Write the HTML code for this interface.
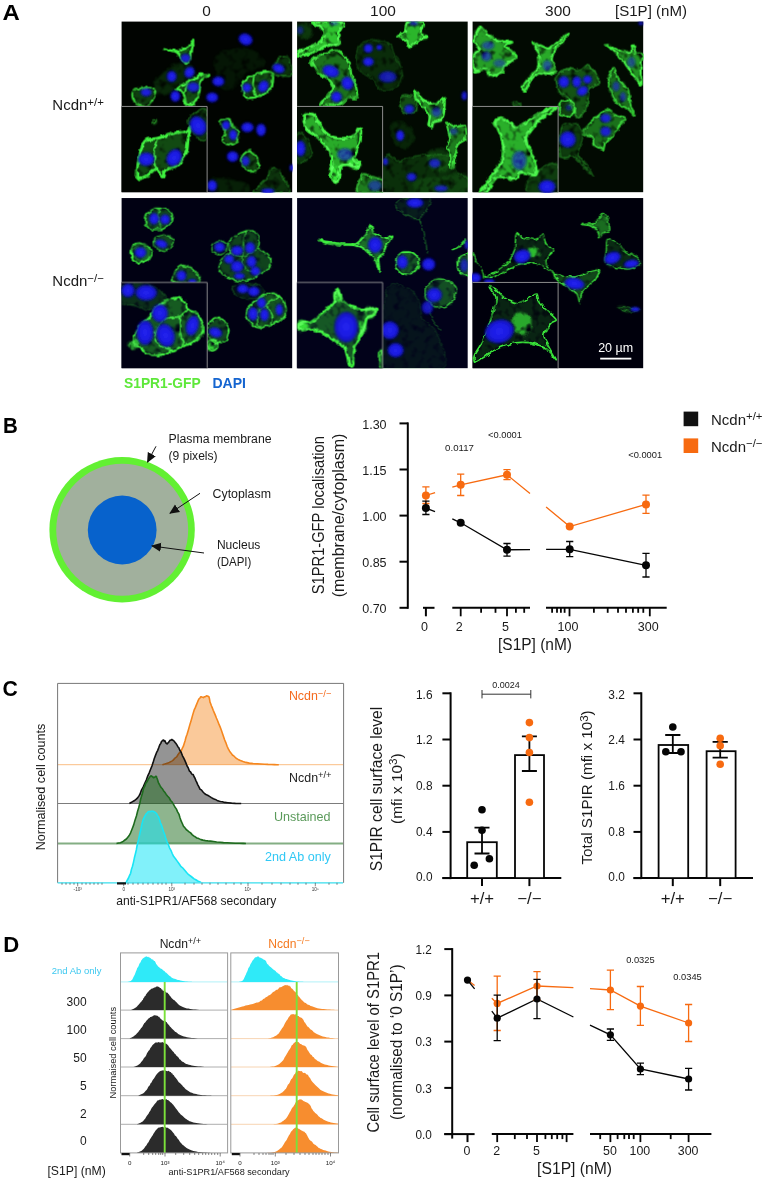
<!DOCTYPE html>
<html lang="en"><head><meta charset="utf-8"><title>Figure</title>
<style>html,body{margin:0;padding:0;background:#fff}svg{display:block}text{font-family:"Liberation Sans",sans-serif}</style>
</head><body>
<svg width="765" height="1180" viewBox="0 0 765 1180">
<defs>
<filter id="bgf" x="-5%" y="-5%" width="110%" height="110%" color-interpolation-filters="sRGB"><feGaussianBlur stdDeviation="3.6" result="b"/><feTurbulence type="fractalNoise" baseFrequency="0.03" numOctaves="2" seed="4" result="n"/><feDisplacementMap in="b" in2="n" scale="22" xChannelSelector="R" yChannelSelector="G" result="d"/><feTurbulence type="fractalNoise" baseFrequency="0.03" numOctaves="2" seed="9" result="n2"/><feColorMatrix in="n2" type="matrix" values="0 0 0 0 1  0 0 0 0 1  0 0 0 0 1  2.6 0 0 0 -0.3" result="m"/><feComposite in="d" in2="m" operator="in" result="t"/><feGaussianBlur in="t" stdDeviation="1.2"/></filter>
<filter id="bgs" x="-5%" y="-5%" width="110%" height="110%" color-interpolation-filters="sRGB"><feGaussianBlur stdDeviation="3" result="b"/><feTurbulence type="fractalNoise" baseFrequency="0.04" numOctaves="2" seed="4" result="n"/><feDisplacementMap in="b" in2="n" scale="20" xChannelSelector="R" yChannelSelector="G" result="d"/><feTurbulence type="fractalNoise" baseFrequency="0.025" numOctaves="2" seed="17" result="n2"/><feColorMatrix in="n2" type="matrix" values="0 0 0 0 1  0 0 0 0 1  0 0 0 0 1  2.2 0 0 0 -0.05" result="m"/><feComposite in="d" in2="m" operator="in" result="t"/><feGaussianBlur in="t" stdDeviation="2"/></filter>
<filter id="bn" x="-5%" y="-5%" width="110%" height="110%"><feGaussianBlur stdDeviation="3.8"/></filter>
<radialGradient id="ng" cx="0.5" cy="0.5" r="0.5"><stop offset="0" stop-color="#2424f0"/><stop offset="0.65" stop-color="#1a1ae0"/><stop offset="1" stop-color="#0e0ea8"/></radialGradient>
<clipPath id="cpa"><rect x="7" y="7" width="750" height="750"/></clipPath>
<clipPath id="cpb"><rect x="7" y="9" width="750" height="748"/></clipPath>
<clipPath id="ci"><rect x="7" y="380" width="376" height="377"/></clipPath>
</defs>
<rect width="765" height="1180" fill="#fff"/>
<g id="panelA">
<svg x="120" y="20" width="174" height="174" viewBox="0 0 765 765">
<rect x="7" y="7" width="750" height="750" fill="#010401"/>
<g clip-path="url(#cpa)">
<g filter="url(#bgf)" style="mix-blend-mode:screen">
<path d="M190.0,128.0C190.0,127.3 238.0,136.8 250.0,135.0C262.0,133.2 302.8,115.0 310.0,110.0C317.2,105.0 321.0,84.8 322.0,85.0C323.0,85.2 322.0,102.0 320.0,112.0C318.0,122.0 307.0,178.4 302.0,185.0C297.0,191.6 275.2,182.3 270.0,178.0C264.8,173.7 258.0,147.0 250.0,142.0C242.0,137.0 190.0,128.7 190.0,128.0Z" fill="#3af03a" fill-opacity="0.35"/>
<path d="M350.0,240.0C355.2,239.5 391.3,242.8 392.0,245.0C392.7,247.2 361.5,254.5 357.0,262.0C352.5,269.5 350.5,309.2 347.0,320.0C343.5,330.8 328.2,365.3 322.0,370.0C315.8,374.7 289.2,372.0 285.0,367.0C280.8,362.0 283.5,326.2 280.0,320.0C276.5,313.8 248.0,310.0 250.0,305.0C252.0,300.0 291.0,275.5 300.0,270.0C309.0,264.5 335.0,253.0 340.0,250.0C345.0,247.0 344.8,240.5 350.0,240.0Z" fill="#3af03a" fill-opacity="0.3"/>
<path d="M55.0,340.0C52.4,327.2 51.0,316.4 62.0,308.0C73.0,299.6 92.4,299.2 110.0,298.0C127.6,296.8 141.6,295.6 150.0,302.0C158.4,308.4 157.0,315.4 152.0,330.0C147.0,344.6 140.4,366.6 125.0,375.0C109.6,383.4 89.0,379.0 75.0,372.0C61.0,365.0 57.6,352.8 55.0,340.0Z" fill="#3af03a" fill-opacity="0.25"/>
<path d="M545.0,330.0C542.2,318.8 535.5,290.0 543.0,275.0C550.5,260.0 569.7,247.5 590.0,240.0C610.3,232.5 652.0,221.7 665.0,230.0C678.0,238.3 672.2,275.0 668.0,290.0C663.8,305.0 651.3,312.0 640.0,320.0C628.7,328.0 613.3,334.3 600.0,338.0C586.7,341.7 569.2,343.3 560.0,342.0C550.8,340.7 547.8,341.2 545.0,330.0Z" fill="#3af03a" fill-opacity="0.3"/>
<path d="M665.0,230.0C663.3,218.3 677.5,185.8 690.0,175.0C702.5,164.2 729.2,154.2 740.0,165.0C750.8,175.8 761.7,226.7 755.0,240.0C748.3,253.3 715.0,246.7 700.0,245.0C685.0,243.3 666.7,241.7 665.0,230.0Z" fill="#3af03a" fill-opacity="0.2"/>
<path d="M440.0,445.0C442.4,437.7 472.0,431.7 480.0,435.0C488.0,438.3 494.7,462.7 500.0,470.0C505.3,477.3 518.7,480.7 520.0,490.0C521.3,499.3 515.3,532.3 510.0,540.0C504.7,547.7 488.0,549.3 480.0,548.0C472.0,546.7 452.4,537.7 450.0,530.0C447.6,522.3 463.3,501.3 462.0,490.0C460.7,478.7 437.6,452.3 440.0,445.0Z" fill="#3af03a" fill-opacity="0.3"/>
<path d="M545.0,590.0C550.3,584.0 562.7,573.7 570.0,575.0C577.3,576.3 594.7,591.3 600.0,600.0C605.3,608.7 611.3,630.4 610.0,640.0C608.7,649.6 598.0,670.4 590.0,672.0C582.0,673.6 558.0,658.9 550.0,652.0C542.0,645.1 530.7,628.3 530.0,620.0C529.3,611.7 539.7,596.0 545.0,590.0Z" fill="#3af03a" fill-opacity="0.3"/>
<path d="M600.0,740.0C606.7,732.4 630.7,712.0 640.0,700.0C649.3,688.0 662.0,655.3 670.0,650.0C678.0,644.7 693.3,653.3 700.0,660.0C706.7,666.7 714.7,687.1 720.0,700.0C725.3,712.9 757.3,749.4 740.0,757.0C722.7,764.6 608.7,759.3 590.0,757.0C571.3,754.7 593.3,747.6 600.0,740.0Z" fill="#3af03a" fill-opacity="0.2"/>
<path d="M160.0,260.0C173.3,240.0 206.7,211.7 230.0,200.0C253.3,188.3 283.3,183.3 300.0,190.0C316.7,196.7 338.3,221.7 330.0,240.0C321.7,258.3 271.7,285.0 250.0,300.0C228.3,315.0 216.7,326.7 200.0,330.0C183.3,333.3 156.7,331.7 150.0,320.0C143.3,308.3 146.7,280.0 160.0,260.0Z" fill="#3af03a" fill-opacity="0.15"/>
<path d="M420.0,160.0C433.3,130.0 490.0,123.3 520.0,120.0C550.0,116.7 580.0,126.7 600.0,140.0C620.0,153.3 646.7,185.0 640.0,200.0C633.3,215.0 583.3,213.3 560.0,230.0C536.7,246.7 520.0,288.3 500.0,300.0C480.0,311.7 453.3,323.3 440.0,300.0C426.7,276.7 406.7,190.0 420.0,160.0Z" fill="#3af03a" fill-opacity="0.08"/>
<path d="M400.0,700.0C413.3,690.5 453.3,696.7 480.0,700.0C506.7,703.3 546.7,710.5 560.0,720.0C573.3,729.5 586.7,750.8 560.0,757.0C533.3,763.2 426.7,766.5 400.0,757.0C373.3,747.5 386.7,709.5 400.0,700.0Z" fill="#3af03a" fill-opacity="0.12"/>
</g>
<g filter="url(#bgs)" style="mix-blend-mode:screen">
<path d="M190.0,128.0C190.0,127.3 238.0,136.8 250.0,135.0C262.0,133.2 302.8,115.0 310.0,110.0C317.2,105.0 321.0,84.8 322.0,85.0C323.0,85.2 322.0,102.0 320.0,112.0C318.0,122.0 307.0,178.4 302.0,185.0C297.0,191.6 275.2,182.3 270.0,178.0C264.8,173.7 258.0,147.0 250.0,142.0C242.0,137.0 190.0,128.7 190.0,128.0Z" fill="none" stroke="#3af03a" stroke-opacity="1" stroke-width="9.5" stroke-linejoin="round" stroke-linecap="round"/>
<path d="M350.0,240.0C355.2,239.5 391.3,242.8 392.0,245.0C392.7,247.2 361.5,254.5 357.0,262.0C352.5,269.5 350.5,309.2 347.0,320.0C343.5,330.8 328.2,365.3 322.0,370.0C315.8,374.7 289.2,372.0 285.0,367.0C280.8,362.0 283.5,326.2 280.0,320.0C276.5,313.8 248.0,310.0 250.0,305.0C252.0,300.0 291.0,275.5 300.0,270.0C309.0,264.5 335.0,253.0 340.0,250.0C345.0,247.0 344.8,240.5 350.0,240.0Z" fill="none" stroke="#3af03a" stroke-opacity="1" stroke-width="10.8" stroke-linejoin="round" stroke-linecap="round"/>
<path d="M300.0,270.0C298.0,276.7 286.3,307.3 285.0,320.0C283.7,332.7 289.3,359.0 290.0,365.0" fill="none" stroke="#3af03a" stroke-opacity="0.9" stroke-width="8.1" stroke-linejoin="round" stroke-linecap="round"/>
<path d="M55.0,340.0C52.4,327.2 51.0,316.4 62.0,308.0C73.0,299.6 92.4,299.2 110.0,298.0C127.6,296.8 141.6,295.6 150.0,302.0C158.4,308.4 157.0,315.4 152.0,330.0C147.0,344.6 140.4,366.6 125.0,375.0C109.6,383.4 89.0,379.0 75.0,372.0C61.0,365.0 57.6,352.8 55.0,340.0Z" fill="none" stroke="#3af03a" stroke-opacity="0.85" stroke-width="8.1" stroke-linejoin="round" stroke-linecap="round"/>
<path d="M545.0,330.0C542.2,318.8 535.5,290.0 543.0,275.0C550.5,260.0 569.7,247.5 590.0,240.0C610.3,232.5 652.0,221.7 665.0,230.0C678.0,238.3 672.2,275.0 668.0,290.0C663.8,305.0 651.3,312.0 640.0,320.0C628.7,328.0 613.3,334.3 600.0,338.0C586.7,341.7 569.2,343.3 560.0,342.0C550.8,340.7 547.8,341.2 545.0,330.0Z" fill="none" stroke="#3af03a" stroke-opacity="0.95" stroke-width="9.5" stroke-linejoin="round" stroke-linecap="round"/>
<path d="M590.0,240.0C589.2,248.3 583.3,273.7 585.0,290.0C586.7,306.3 597.5,330.0 600.0,338.0" fill="none" stroke="#3af03a" stroke-opacity="0.9" stroke-width="8.1" stroke-linejoin="round" stroke-linecap="round"/>
<path d="M665.0,230.0C663.3,218.3 677.5,185.8 690.0,175.0C702.5,164.2 729.2,154.2 740.0,165.0C750.8,175.8 761.7,226.7 755.0,240.0C748.3,253.3 715.0,246.7 700.0,245.0C685.0,243.3 666.7,241.7 665.0,230.0Z" fill="none" stroke="#3af03a" stroke-opacity="0.35" stroke-width="6.8" stroke-linejoin="round" stroke-linecap="round"/>
<path d="M440.0,445.0C442.4,437.7 472.0,431.7 480.0,435.0C488.0,438.3 494.7,462.7 500.0,470.0C505.3,477.3 518.7,480.7 520.0,490.0C521.3,499.3 515.3,532.3 510.0,540.0C504.7,547.7 488.0,549.3 480.0,548.0C472.0,546.7 452.4,537.7 450.0,530.0C447.6,522.3 463.3,501.3 462.0,490.0C460.7,478.7 437.6,452.3 440.0,445.0Z" fill="none" stroke="#3af03a" stroke-opacity="0.85" stroke-width="8.1" stroke-linejoin="round" stroke-linecap="round"/>
<path d="M545.0,590.0C550.3,584.0 562.7,573.7 570.0,575.0C577.3,576.3 594.7,591.3 600.0,600.0C605.3,608.7 611.3,630.4 610.0,640.0C608.7,649.6 598.0,670.4 590.0,672.0C582.0,673.6 558.0,658.9 550.0,652.0C542.0,645.1 530.7,628.3 530.0,620.0C529.3,611.7 539.7,596.0 545.0,590.0Z" fill="none" stroke="#3af03a" stroke-opacity="0.85" stroke-width="8.1" stroke-linejoin="round" stroke-linecap="round"/>
<path d="M600.0,740.0C606.7,732.4 630.7,712.0 640.0,700.0C649.3,688.0 662.0,655.3 670.0,650.0C678.0,644.7 693.3,653.3 700.0,660.0C706.7,666.7 714.7,687.1 720.0,700.0C725.3,712.9 757.3,749.4 740.0,757.0C722.7,764.6 608.7,759.3 590.0,757.0C571.3,754.7 593.3,747.6 600.0,740.0Z" fill="none" stroke="#3af03a" stroke-opacity="0.4" stroke-width="6.8" stroke-linejoin="round" stroke-linecap="round"/>
</g>
<g filter="url(#bn)">
<ellipse cx="552" cy="85" rx="32" ry="26" fill="url(#ng)" opacity="1" transform="rotate(20 552 85)"/>
<ellipse cx="288" cy="168" rx="22" ry="20" fill="url(#ng)" opacity="0.9"/>
<ellipse cx="227" cy="248" rx="22" ry="25" fill="url(#ng)" opacity="1"/>
<ellipse cx="305" cy="230" rx="22" ry="26" fill="url(#ng)" opacity="1" transform="rotate(30 305 230)"/>
<ellipse cx="322" cy="295" rx="28" ry="22" fill="url(#ng)" opacity="0.9"/>
<ellipse cx="243" cy="335" rx="22" ry="25" fill="url(#ng)" opacity="1"/>
<ellipse cx="432" cy="270" rx="27" ry="22" fill="url(#ng)" opacity="1"/>
<ellipse cx="405" cy="340" rx="27" ry="22" fill="url(#ng)" opacity="1"/>
<ellipse cx="115" cy="318" rx="25" ry="18" fill="url(#ng)" opacity="0.95"/>
<ellipse cx="558" cy="298" rx="20" ry="20" fill="url(#ng)" opacity="1"/>
<ellipse cx="630" cy="292" rx="22" ry="28" fill="url(#ng)" opacity="1" transform="rotate(30 630 292)"/>
<ellipse cx="697" cy="213" rx="28" ry="20" fill="url(#ng)" opacity="1" transform="rotate(20 697 213)"/>
<ellipse cx="466" cy="463" rx="18" ry="20" fill="url(#ng)" opacity="1"/>
<ellipse cx="497" cy="505" rx="18" ry="24" fill="url(#ng)" opacity="1"/>
<ellipse cx="560" cy="472" rx="28" ry="22" fill="url(#ng)" opacity="1"/>
<ellipse cx="620" cy="483" rx="22" ry="28" fill="url(#ng)" opacity="1"/>
<ellipse cx="495" cy="600" rx="26" ry="24" fill="url(#ng)" opacity="1"/>
<ellipse cx="552" cy="620" rx="18" ry="22" fill="url(#ng)" opacity="0.9"/>
<ellipse cx="405" cy="728" rx="22" ry="25" fill="url(#ng)" opacity="1"/>
<ellipse cx="650" cy="752" rx="30" ry="12" fill="url(#ng)" opacity="1"/>
<ellipse cx="754" cy="650" rx="8" ry="15" fill="url(#ng)" opacity="1"/>
</g>
</g>
<rect x="7" y="380" width="376" height="377" fill="#010401"/>
<g clip-path="url(#ci)">
<g filter="url(#bgf)" style="mix-blend-mode:screen">
<path d="M75.0,690.0C70.8,675.0 79.2,626.7 85.0,600.0C90.8,573.3 96.7,543.3 110.0,530.0C123.3,516.7 145.0,525.0 165.0,520.0C185.0,515.0 209.2,505.0 230.0,500.0C250.8,495.0 276.7,495.0 290.0,490.0C303.3,485.0 308.3,465.0 310.0,470.0C311.7,475.0 303.3,500.0 300.0,520.0C296.7,540.0 298.3,570.0 290.0,590.0C281.7,610.0 265.0,628.3 250.0,640.0C235.0,651.7 210.8,651.7 200.0,660.0C189.2,668.3 191.7,690.8 185.0,690.0C178.3,689.2 172.5,655.0 160.0,655.0C147.5,655.0 124.2,684.2 110.0,690.0C95.8,695.8 79.2,705.0 75.0,690.0Z" fill="#3af03a" fill-opacity="0.3"/>
<path d="M300.0,440.0C305.0,428.3 326.2,406.7 340.0,400.0C353.8,393.3 375.8,380.0 383.0,400.0C390.2,420.0 390.2,500.0 383.0,520.0C375.8,540.0 352.2,528.3 340.0,520.0C327.8,511.7 316.7,483.3 310.0,470.0C303.3,456.7 295.0,451.7 300.0,440.0Z" fill="#3af03a" fill-opacity="0.2"/>
<path d="M140.0,435.0C141.0,433.0 159.0,437.5 160.0,440.0C161.0,442.5 152.0,460.5 150.0,460.0C148.0,459.5 139.0,437.0 140.0,435.0Z" fill="#3af03a" fill-opacity="0.3"/>
</g>
<g filter="url(#bgs)" style="mix-blend-mode:screen">
<path d="M75.0,690.0C70.8,675.0 79.2,626.7 85.0,600.0C90.8,573.3 96.7,543.3 110.0,530.0C123.3,516.7 145.0,525.0 165.0,520.0C185.0,515.0 209.2,505.0 230.0,500.0C250.8,495.0 276.7,495.0 290.0,490.0C303.3,485.0 308.3,465.0 310.0,470.0C311.7,475.0 303.3,500.0 300.0,520.0C296.7,540.0 298.3,570.0 290.0,590.0C281.7,610.0 265.0,628.3 250.0,640.0C235.0,651.7 210.8,651.7 200.0,660.0C189.2,668.3 191.7,690.8 185.0,690.0C178.3,689.2 172.5,655.0 160.0,655.0C147.5,655.0 124.2,684.2 110.0,690.0C95.8,695.8 79.2,705.0 75.0,690.0Z" fill="none" stroke="#3af03a" stroke-opacity="1" stroke-width="12.2" stroke-linejoin="round" stroke-linecap="round"/>
<path d="M165.0,520.0C162.5,530.0 150.8,557.5 150.0,580.0C149.2,602.5 158.3,642.5 160.0,655.0" fill="none" stroke="#3af03a" stroke-opacity="0.95" stroke-width="9.5" stroke-linejoin="round" stroke-linecap="round"/>
<path d="M300.0,440.0C305.0,428.3 326.2,406.7 340.0,400.0C353.8,393.3 375.8,380.0 383.0,400.0C390.2,420.0 390.2,500.0 383.0,520.0C375.8,540.0 352.2,528.3 340.0,520.0C327.8,511.7 316.7,483.3 310.0,470.0C303.3,456.7 295.0,451.7 300.0,440.0Z" fill="none" stroke="#3af03a" stroke-opacity="0.3" stroke-width="6.8" stroke-linejoin="round" stroke-linecap="round"/>
<path d="M140.0,435.0C141.0,433.0 159.0,437.5 160.0,440.0C161.0,442.5 152.0,460.5 150.0,460.0C148.0,459.5 139.0,437.0 140.0,435.0Z" fill="none" stroke="#3af03a" stroke-opacity="0.5" stroke-width="5.4" stroke-linejoin="round" stroke-linecap="round"/>
</g>
<g filter="url(#bn)">
<ellipse cx="343" cy="465" rx="36" ry="44" fill="url(#ng)" opacity="1" transform="rotate(-30 343 465)"/>
<ellipse cx="115" cy="612" rx="36" ry="30" fill="url(#ng)" opacity="1"/>
<ellipse cx="238" cy="605" rx="32" ry="40" fill="url(#ng)" opacity="1" transform="rotate(35 238 605)"/>
</g>
</g>
<path d="M7,380H383V757" fill="none" stroke="#9a9a9a" stroke-width="4"/>
</svg>
<svg x="295.5" y="20" width="174" height="174" viewBox="0 0 765 765">
<rect x="7" y="7" width="750" height="750" fill="#020a02"/>
<g clip-path="url(#cpa)">
<g filter="url(#bgf)" style="mix-blend-mode:screen">
<path d="M75.0,10.0C60.6,12.0 93.7,19.7 100.0,25.0C106.3,30.3 119.3,42.0 122.0,50.0C124.7,58.0 123.6,77.7 120.0,85.0C116.4,92.3 104.3,99.7 95.0,105.0C85.7,110.3 61.3,120.6 50.0,125.0C38.7,129.4 15.3,133.3 10.0,138.0C4.7,142.7 4.7,158.1 10.0,160.0C15.3,161.9 38.0,155.7 50.0,152.0C62.0,148.3 88.0,137.6 100.0,132.0C112.0,126.4 130.0,112.9 140.0,110.0C150.0,107.1 167.7,111.3 175.0,110.0C182.3,108.7 193.3,106.7 195.0,100.0C196.7,93.3 186.3,72.0 188.0,60.0C189.7,48.0 223.1,16.7 208.0,10.0C192.9,3.3 89.4,8.0 75.0,10.0Z" fill="#3af03a" fill-opacity="0.8"/>
<path d="M70.0,180.0C72.0,168.7 104.7,156.0 120.0,150.0C135.3,144.0 169.7,130.3 185.0,135.0C200.3,139.7 227.0,171.0 235.0,185.0C243.0,199.0 241.0,226.0 245.0,240.0C249.0,254.0 261.7,276.7 265.0,290.0C268.3,303.3 274.7,332.7 270.0,340.0C265.3,347.3 240.0,341.0 230.0,345.0C220.0,349.0 211.0,366.0 195.0,370.0C179.0,374.0 118.0,379.0 110.0,375.0C102.0,371.0 127.7,350.0 135.0,340.0C142.3,330.0 163.0,310.0 165.0,300.0C167.0,290.0 158.0,273.7 150.0,265.0C142.0,256.3 115.7,246.3 105.0,235.0C94.3,223.7 68.0,191.3 70.0,180.0Z" fill="#3af03a" fill-opacity="0.45"/>
<path d="M290.0,100.0C312.5,87.5 375.0,85.0 400.0,95.0C425.0,105.0 428.3,137.5 440.0,160.0C451.7,182.5 468.3,208.3 470.0,230.0C471.7,251.7 465.0,276.7 450.0,290.0C435.0,303.3 398.3,315.0 380.0,310.0C361.7,305.0 356.7,275.0 340.0,260.0C323.3,245.0 292.5,235.0 280.0,220.0C267.5,205.0 263.3,190.0 265.0,170.0C266.7,150.0 267.5,112.5 290.0,100.0Z" fill="#3af03a" fill-opacity="0.15"/>
<path d="M490.0,8.0C498.0,3.3 554.0,2.8 560.0,8.0C566.0,13.2 548.0,53.3 550.0,60.0C552.0,66.7 581.0,72.0 580.0,75.0C579.0,78.0 548.0,85.5 540.0,90.0C532.0,94.5 505.0,120.0 500.0,120.0C495.0,120.0 495.5,95.0 490.0,90.0C484.5,85.0 446.0,73.5 445.0,70.0C444.0,66.5 475.5,61.2 480.0,55.0C484.5,48.8 482.0,12.7 490.0,8.0Z" fill="#3af03a" fill-opacity="0.75"/>
<path d="M525.0,310.0C528.0,310.0 550.5,344.0 560.0,350.0C569.5,356.0 610.5,370.5 620.0,370.0C629.5,369.5 652.0,340.0 655.0,345.0C658.0,350.0 651.5,410.5 650.0,420.0C648.5,429.5 644.5,437.0 640.0,440.0C635.5,443.0 609.0,447.0 605.0,450.0C601.0,453.0 602.0,468.5 600.0,470.0C598.0,471.5 586.0,470.0 585.0,465.0C584.0,460.0 592.5,428.5 590.0,420.0C587.5,411.5 566.0,387.0 560.0,380.0C554.0,373.0 533.5,357.0 530.0,350.0C526.5,343.0 522.0,310.0 525.0,310.0Z" fill="#3af03a" fill-opacity="0.6"/>
<path d="M465.0,335.0C473.3,324.2 509.2,329.2 520.0,340.0C530.8,350.8 538.3,389.2 530.0,400.0C521.7,410.8 480.8,415.8 470.0,405.0C459.2,394.2 456.7,345.8 465.0,335.0Z" fill="#3af03a" fill-opacity="0.3"/>
<path d="M665.0,455.0C667.0,450.0 692.0,469.0 700.0,470.0C708.0,471.0 740.0,460.0 745.0,465.0C750.0,470.0 752.5,512.5 750.0,520.0C747.5,527.5 725.0,532.0 720.0,540.0C715.0,548.0 702.5,589.0 700.0,600.0C697.5,611.0 697.0,645.0 695.0,650.0C693.0,655.0 681.5,657.0 680.0,650.0C678.5,643.0 681.5,589.0 680.0,580.0C678.5,571.0 665.0,566.0 665.0,560.0C665.0,554.0 680.0,530.5 680.0,520.0C680.0,509.5 663.0,460.0 665.0,455.0Z" fill="#3af03a" fill-opacity="0.5"/>
<path d="M400.0,600.0C410.0,576.7 430.0,620.0 450.0,620.0C470.0,620.0 495.0,605.0 520.0,600.0C545.0,595.0 573.3,590.0 600.0,590.0C626.7,590.0 663.3,588.3 680.0,600.0C696.7,611.7 686.7,643.3 700.0,660.0C713.3,676.7 750.0,683.3 760.0,700.0C770.0,716.7 821.7,750.0 760.0,760.0C698.3,770.0 450.0,786.7 390.0,760.0C330.0,733.3 390.0,623.3 400.0,600.0Z" fill="#3af03a" fill-opacity="0.16"/>
<path d="M585.0,580.0C594.2,567.5 623.3,563.3 640.0,565.0C656.7,566.7 678.3,575.8 685.0,590.0C691.7,604.2 690.8,637.0 680.0,650.0C669.2,663.0 635.8,669.7 620.0,668.0C604.2,666.3 590.8,654.7 585.0,640.0C579.2,625.3 575.8,592.5 585.0,580.0Z" fill="#3af03a" fill-opacity="0.18"/>
<path d="M535.0,700.0C554.2,688.8 613.0,693.3 650.0,690.0C687.0,686.7 739.2,668.8 757.0,680.0C774.8,691.2 794.0,744.2 757.0,757.0C720.0,769.8 572.0,766.5 535.0,757.0C498.0,747.5 515.8,711.2 535.0,700.0Z" fill="#3af03a" fill-opacity="0.1"/>
<path d="M420.0,460.0C425.0,443.3 453.3,443.3 470.0,450.0C486.7,456.7 515.0,481.7 520.0,500.0C525.0,518.3 513.3,551.7 500.0,560.0C486.7,568.3 453.3,566.7 440.0,550.0C426.7,533.3 415.0,476.7 420.0,460.0Z" fill="#3af03a" fill-opacity="0.12"/>
<path d="M8.0,20.0C16.7,10.0 49.7,11.7 60.0,20.0C70.3,28.3 78.7,60.0 70.0,70.0C61.3,80.0 18.3,88.3 8.0,80.0C-2.3,71.7 -0.7,30.0 8.0,20.0Z" fill="#3af03a" fill-opacity="0.2"/>
</g>
<g filter="url(#bgs)" style="mix-blend-mode:screen">
<path d="M75.0,10.0C60.6,12.0 93.7,19.7 100.0,25.0C106.3,30.3 119.3,42.0 122.0,50.0C124.7,58.0 123.6,77.7 120.0,85.0C116.4,92.3 104.3,99.7 95.0,105.0C85.7,110.3 61.3,120.6 50.0,125.0C38.7,129.4 15.3,133.3 10.0,138.0C4.7,142.7 4.7,158.1 10.0,160.0C15.3,161.9 38.0,155.7 50.0,152.0C62.0,148.3 88.0,137.6 100.0,132.0C112.0,126.4 130.0,112.9 140.0,110.0C150.0,107.1 167.7,111.3 175.0,110.0C182.3,108.7 193.3,106.7 195.0,100.0C196.7,93.3 186.3,72.0 188.0,60.0C189.7,48.0 223.1,16.7 208.0,10.0C192.9,3.3 89.4,8.0 75.0,10.0Z" fill="none" stroke="#3af03a" stroke-opacity="1" stroke-width="10.5" stroke-linejoin="round" stroke-linecap="round"/>
<path d="M70.0,180.0C72.0,168.7 104.7,156.0 120.0,150.0C135.3,144.0 169.7,130.3 185.0,135.0C200.3,139.7 227.0,171.0 235.0,185.0C243.0,199.0 241.0,226.0 245.0,240.0C249.0,254.0 261.7,276.7 265.0,290.0C268.3,303.3 274.7,332.7 270.0,340.0C265.3,347.3 240.0,341.0 230.0,345.0C220.0,349.0 211.0,366.0 195.0,370.0C179.0,374.0 118.0,379.0 110.0,375.0C102.0,371.0 127.7,350.0 135.0,340.0C142.3,330.0 163.0,310.0 165.0,300.0C167.0,290.0 158.0,273.7 150.0,265.0C142.0,256.3 115.7,246.3 105.0,235.0C94.3,223.7 68.0,191.3 70.0,180.0Z" fill="none" stroke="#3af03a" stroke-opacity="0.9" stroke-width="10.5" stroke-linejoin="round" stroke-linecap="round"/>
<path d="M290.0,100.0C312.5,87.5 375.0,85.0 400.0,95.0C425.0,105.0 428.3,137.5 440.0,160.0C451.7,182.5 468.3,208.3 470.0,230.0C471.7,251.7 465.0,276.7 450.0,290.0C435.0,303.3 398.3,315.0 380.0,310.0C361.7,305.0 356.7,275.0 340.0,260.0C323.3,245.0 292.5,235.0 280.0,220.0C267.5,205.0 263.3,190.0 265.0,170.0C266.7,150.0 267.5,112.5 290.0,100.0Z" fill="none" stroke="#3af03a" stroke-opacity="0.15" stroke-width="7.5" stroke-linejoin="round" stroke-linecap="round"/>
<path d="M490.0,8.0C498.0,3.3 554.0,2.8 560.0,8.0C566.0,13.2 548.0,53.3 550.0,60.0C552.0,66.7 581.0,72.0 580.0,75.0C579.0,78.0 548.0,85.5 540.0,90.0C532.0,94.5 505.0,120.0 500.0,120.0C495.0,120.0 495.5,95.0 490.0,90.0C484.5,85.0 446.0,73.5 445.0,70.0C444.0,66.5 475.5,61.2 480.0,55.0C484.5,48.8 482.0,12.7 490.0,8.0Z" fill="none" stroke="#3af03a" stroke-opacity="1" stroke-width="9.0" stroke-linejoin="round" stroke-linecap="round"/>
<path d="M525.0,310.0C528.0,310.0 550.5,344.0 560.0,350.0C569.5,356.0 610.5,370.5 620.0,370.0C629.5,369.5 652.0,340.0 655.0,345.0C658.0,350.0 651.5,410.5 650.0,420.0C648.5,429.5 644.5,437.0 640.0,440.0C635.5,443.0 609.0,447.0 605.0,450.0C601.0,453.0 602.0,468.5 600.0,470.0C598.0,471.5 586.0,470.0 585.0,465.0C584.0,460.0 592.5,428.5 590.0,420.0C587.5,411.5 566.0,387.0 560.0,380.0C554.0,373.0 533.5,357.0 530.0,350.0C526.5,343.0 522.0,310.0 525.0,310.0Z" fill="none" stroke="#3af03a" stroke-opacity="1" stroke-width="10.5" stroke-linejoin="round" stroke-linecap="round"/>
<path d="M465.0,335.0C473.3,324.2 509.2,329.2 520.0,340.0C530.8,350.8 538.3,389.2 530.0,400.0C521.7,410.8 480.8,415.8 470.0,405.0C459.2,394.2 456.7,345.8 465.0,335.0Z" fill="none" stroke="#3af03a" stroke-opacity="0.35" stroke-width="7.5" stroke-linejoin="round" stroke-linecap="round"/>
<path d="M665.0,455.0C667.0,450.0 692.0,469.0 700.0,470.0C708.0,471.0 740.0,460.0 745.0,465.0C750.0,470.0 752.5,512.5 750.0,520.0C747.5,527.5 725.0,532.0 720.0,540.0C715.0,548.0 702.5,589.0 700.0,600.0C697.5,611.0 697.0,645.0 695.0,650.0C693.0,655.0 681.5,657.0 680.0,650.0C678.5,643.0 681.5,589.0 680.0,580.0C678.5,571.0 665.0,566.0 665.0,560.0C665.0,554.0 680.0,530.5 680.0,520.0C680.0,509.5 663.0,460.0 665.0,455.0Z" fill="none" stroke="#3af03a" stroke-opacity="0.9" stroke-width="9.0" stroke-linejoin="round" stroke-linecap="round"/>
<path d="M400.0,600.0C410.0,576.7 430.0,620.0 450.0,620.0C470.0,620.0 495.0,605.0 520.0,600.0C545.0,595.0 573.3,590.0 600.0,590.0C626.7,590.0 663.3,588.3 680.0,600.0C696.7,611.7 686.7,643.3 700.0,660.0C713.3,676.7 750.0,683.3 760.0,700.0C770.0,716.7 821.7,750.0 760.0,760.0C698.3,770.0 450.0,786.7 390.0,760.0C330.0,733.3 390.0,623.3 400.0,600.0Z" fill="none" stroke="#3af03a" stroke-opacity="0.2" stroke-width="7.5" stroke-linejoin="round" stroke-linecap="round"/>
</g>
<g filter="url(#bn)">
<ellipse cx="155" cy="225" rx="38" ry="26" fill="url(#ng)" opacity="1" transform="rotate(20 155 225)"/>
<ellipse cx="228" cy="278" rx="26" ry="30" fill="url(#ng)" opacity="1" transform="rotate(-20 228 278)"/>
<ellipse cx="180" cy="338" rx="24" ry="24" fill="url(#ng)" opacity="1"/>
<ellipse cx="320" cy="125" rx="20" ry="20" fill="url(#ng)" opacity="1"/>
<ellipse cx="368" cy="120" rx="12" ry="12" fill="url(#ng)" opacity="1"/>
<ellipse cx="320" cy="183" rx="24" ry="20" fill="url(#ng)" opacity="1"/>
<ellipse cx="405" cy="250" rx="40" ry="26" fill="url(#ng)" opacity="0.75"/>
<ellipse cx="500" cy="392" rx="22" ry="20" fill="url(#ng)" opacity="0.9"/>
<ellipse cx="620" cy="405" rx="22" ry="22" fill="url(#ng)" opacity="0.6"/>
<ellipse cx="460" cy="508" rx="18" ry="24" fill="url(#ng)" opacity="1"/>
<ellipse cx="742" cy="333" rx="12" ry="20" fill="url(#ng)" opacity="0.9"/>
<ellipse cx="612" cy="630" rx="26" ry="20" fill="url(#ng)" opacity="0.8"/>
<ellipse cx="510" cy="690" rx="22" ry="18" fill="url(#ng)" opacity="0.9"/>
<ellipse cx="640" cy="740" rx="30" ry="14" fill="url(#ng)" opacity="0.8"/>
<ellipse cx="395" cy="622" rx="12" ry="16" fill="url(#ng)" opacity="0.9"/>
<ellipse cx="20" cy="45" rx="15" ry="18" fill="url(#ng)" opacity="0.5"/>
<ellipse cx="520" cy="15" rx="20" ry="8" fill="url(#ng)" opacity="0.8"/>
<ellipse cx="170" cy="15" rx="20" ry="8" fill="url(#ng)" opacity="0.5"/>
<ellipse cx="695" cy="490" rx="18" ry="15" fill="url(#ng)" opacity="0.5"/>
</g>
</g>
<rect x="7" y="380" width="376" height="377" fill="#020a02"/>
<g clip-path="url(#ci)">
<g filter="url(#bgf)" style="mix-blend-mode:screen">
<path d="M40.0,414.0C45.7,409.6 72.9,412.2 81.0,417.0C89.1,421.8 95.0,440.3 101.0,450.0C107.0,459.7 117.2,481.3 126.0,490.0C134.8,498.7 155.5,511.0 167.0,515.0C178.5,519.0 200.5,520.7 212.0,520.0C223.5,519.3 244.9,515.3 253.0,510.0C261.1,504.7 268.6,484.4 273.0,480.0C277.4,475.6 284.3,471.0 286.0,477.0C287.7,483.0 288.4,511.8 286.0,525.0C283.6,538.2 271.7,564.5 268.0,576.0C264.3,587.5 256.0,603.5 258.0,611.0C260.0,618.5 281.0,626.8 283.0,632.0C285.0,637.2 279.0,649.3 273.0,650.0C267.0,650.7 247.5,638.1 238.0,637.0C228.5,635.9 208.1,636.7 202.0,642.0C195.9,647.3 194.0,668.2 192.0,677.0C190.0,685.8 190.3,703.9 187.0,708.0C183.7,712.1 171.7,713.5 167.0,708.0C162.3,702.5 152.7,677.8 152.0,667.0C151.3,656.2 162.7,639.1 162.0,627.0C161.3,614.9 155.1,590.3 147.0,576.0C138.9,561.7 113.8,532.1 101.0,520.0C88.2,507.9 59.4,494.3 51.0,485.0C42.6,475.7 39.5,459.5 38.0,450.0C36.5,440.5 34.3,418.4 40.0,414.0Z" fill="#3af03a" fill-opacity="0.7"/>
<path d="M155.0,640.0C161.0,632.0 177.0,630.0 185.0,640.0C193.0,650.0 198.0,677.0 195.0,690.0C192.0,703.0 178.0,707.0 170.0,705.0C162.0,703.0 158.0,693.0 155.0,680.0C152.0,667.0 149.0,648.0 155.0,640.0Z" fill="#3af03a" fill-opacity="0.9"/>
<path d="M235.0,610.0C244.4,606.0 277.0,616.0 285.0,625.0C293.0,634.0 284.4,651.0 275.0,655.0C265.6,659.0 246.0,654.0 238.0,645.0C230.0,636.0 225.6,614.0 235.0,610.0Z" fill="#3af03a" fill-opacity="0.9"/>
<path d="M283.0,700.0C286.3,689.3 292.4,678.3 300.0,677.0C307.6,675.7 328.9,686.3 340.0,690.0C351.1,693.7 375.0,696.1 383.0,705.0C391.0,713.9 414.4,750.1 400.0,757.0C385.6,763.9 290.6,764.6 275.0,757.0C259.4,749.4 279.7,710.7 283.0,700.0Z" fill="#3af03a" fill-opacity="0.5"/>
<path d="M8.0,500.0C15.0,483.3 39.7,505.0 50.0,520.0C60.3,535.0 71.7,573.3 70.0,590.0C68.3,606.7 50.3,615.0 40.0,620.0C29.7,625.0 13.3,640.0 8.0,620.0C2.7,600.0 1.0,516.7 8.0,500.0Z" fill="#3af03a" fill-opacity="0.2"/>
</g>
<g filter="url(#bgs)" style="mix-blend-mode:screen">
<path d="M40.0,414.0C45.7,409.6 72.9,412.2 81.0,417.0C89.1,421.8 95.0,440.3 101.0,450.0C107.0,459.7 117.2,481.3 126.0,490.0C134.8,498.7 155.5,511.0 167.0,515.0C178.5,519.0 200.5,520.7 212.0,520.0C223.5,519.3 244.9,515.3 253.0,510.0C261.1,504.7 268.6,484.4 273.0,480.0C277.4,475.6 284.3,471.0 286.0,477.0C287.7,483.0 288.4,511.8 286.0,525.0C283.6,538.2 271.7,564.5 268.0,576.0C264.3,587.5 256.0,603.5 258.0,611.0C260.0,618.5 281.0,626.8 283.0,632.0C285.0,637.2 279.0,649.3 273.0,650.0C267.0,650.7 247.5,638.1 238.0,637.0C228.5,635.9 208.1,636.7 202.0,642.0C195.9,647.3 194.0,668.2 192.0,677.0C190.0,685.8 190.3,703.9 187.0,708.0C183.7,712.1 171.7,713.5 167.0,708.0C162.3,702.5 152.7,677.8 152.0,667.0C151.3,656.2 162.7,639.1 162.0,627.0C161.3,614.9 155.1,590.3 147.0,576.0C138.9,561.7 113.8,532.1 101.0,520.0C88.2,507.9 59.4,494.3 51.0,485.0C42.6,475.7 39.5,459.5 38.0,450.0C36.5,440.5 34.3,418.4 40.0,414.0Z" fill="none" stroke="#3af03a" stroke-opacity="1" stroke-width="12.0" stroke-linejoin="round" stroke-linecap="round"/>
<path d="M283.0,700.0C286.3,689.3 292.4,678.3 300.0,677.0C307.6,675.7 328.9,686.3 340.0,690.0C351.1,693.7 375.0,696.1 383.0,705.0C391.0,713.9 414.4,750.1 400.0,757.0C385.6,763.9 290.6,764.6 275.0,757.0C259.4,749.4 279.7,710.7 283.0,700.0Z" fill="none" stroke="#3af03a" stroke-opacity="0.6" stroke-width="9.0" stroke-linejoin="round" stroke-linecap="round"/>
<path d="M8.0,500.0C15.0,483.3 39.7,505.0 50.0,520.0C60.3,535.0 71.7,573.3 70.0,590.0C68.3,606.7 50.3,615.0 40.0,620.0C29.7,625.0 13.3,640.0 8.0,620.0C2.7,600.0 1.0,516.7 8.0,500.0Z" fill="none" stroke="#3af03a" stroke-opacity="0.2" stroke-width="7.5" stroke-linejoin="round" stroke-linecap="round"/>
</g>
<g filter="url(#bn)">
<ellipse cx="22" cy="565" rx="22" ry="35" fill="url(#ng)" opacity="1"/>
<ellipse cx="217" cy="591" rx="35" ry="28" fill="url(#ng)" opacity="0.6"/>
<ellipse cx="349" cy="728" rx="30" ry="24" fill="url(#ng)" opacity="0.55"/>
</g>
</g>
<path d="M7,380H383V757" fill="none" stroke="#9a9a9a" stroke-width="4"/>
</svg>
<svg x="471" y="20" width="174" height="174" viewBox="0 0 765 765">
<rect x="7" y="7" width="750" height="750" fill="#020a02"/>
<g clip-path="url(#cpa)">
<g filter="url(#bgf)" style="mix-blend-mode:screen">
<path d="M40.0,30.0C48.2,27.1 68.3,62.4 80.0,70.0C91.7,77.6 127.8,92.1 140.0,95.0C152.2,97.9 183.8,92.7 185.0,95.0C186.2,97.3 148.2,107.4 150.0,115.0C151.8,122.6 200.0,150.1 200.0,160.0C200.0,169.9 157.0,191.8 150.0,200.0C143.0,208.2 147.6,224.8 140.0,230.0C132.4,235.2 93.2,246.8 85.0,245.0C76.8,243.2 78.2,217.3 70.0,215.0C61.8,212.7 22.0,232.6 15.0,225.0C8.0,217.4 7.1,161.1 10.0,150.0C12.9,138.9 40.0,136.4 40.0,130.0C40.0,123.6 10.0,106.7 10.0,95.0C10.0,83.3 31.8,32.9 40.0,30.0Z" fill="#3af03a" fill-opacity="0.65"/>
<path d="M275.0,100.0C279.5,98.5 328.5,126.0 340.0,125.0C351.5,124.0 381.0,97.0 390.0,90.0C399.0,83.0 429.0,54.0 430.0,55.0C431.0,56.0 406.5,92.5 400.0,100.0C393.5,107.5 369.5,122.0 365.0,130.0C360.5,138.0 354.0,170.5 355.0,180.0C356.0,189.5 376.5,219.0 375.0,225.0C373.5,231.0 347.5,239.0 340.0,240.0C332.5,241.0 307.5,233.0 300.0,235.0C292.5,237.0 271.0,252.5 265.0,260.0C259.0,267.5 244.3,306.5 240.0,310.0C235.7,313.5 219.0,302.0 222.0,295.0C225.0,288.0 262.2,249.5 270.0,240.0C277.8,230.5 297.5,210.0 300.0,200.0C302.5,190.0 297.5,150.0 295.0,140.0C292.5,130.0 270.5,101.5 275.0,100.0Z" fill="#3af03a" fill-opacity="0.7"/>
<path d="M375.0,250.0C379.0,236.0 406.0,219.0 420.0,215.0C434.0,211.0 468.0,222.0 480.0,220.0C492.0,218.0 501.3,198.7 510.0,200.0C518.7,201.3 537.7,219.3 545.0,230.0C552.3,240.7 568.3,270.7 565.0,280.0C561.7,289.3 526.7,292.0 520.0,300.0C513.3,308.0 517.7,326.7 515.0,340.0C512.3,353.3 506.0,388.0 500.0,400.0C494.0,412.0 478.0,432.7 470.0,430.0C462.0,427.3 445.3,392.0 440.0,380.0C434.7,368.0 436.7,348.0 430.0,340.0C423.3,332.0 397.3,332.0 390.0,320.0C382.7,308.0 371.0,264.0 375.0,250.0Z" fill="#3af03a" fill-opacity="0.32"/>
<path d="M420.0,353.0C445.3,353.0 455.0,361.6 455.0,388.0C455.0,414.4 445.3,425.0 420.0,425.0C394.7,425.0 386.0,414.4 386.0,388.0C386.0,361.6 394.7,353.0 420.0,353.0Z" fill="#3af03a" fill-opacity="0.25"/>
<path d="M590.0,105.0C593.0,105.5 639.0,131.5 650.0,135.0C661.0,138.5 693.5,142.5 700.0,140.0C706.5,137.5 712.5,109.5 715.0,110.0C717.5,110.5 721.0,141.0 725.0,145.0C729.0,149.0 753.0,143.0 755.0,150.0C757.0,157.0 745.5,201.5 745.0,215.0C744.5,228.5 752.5,281.5 750.0,285.0C747.5,288.5 726.0,257.5 720.0,250.0C714.0,242.5 696.0,218.0 690.0,210.0C684.0,202.0 667.0,178.0 660.0,170.0C653.0,162.0 627.0,136.5 620.0,130.0C613.0,123.5 587.0,104.5 590.0,105.0Z" fill="#3af03a" fill-opacity="0.6"/>
<path d="M625.0,210.0C631.0,210.0 641.3,246.7 650.0,260.0C658.7,273.3 683.3,295.3 690.0,310.0C696.7,324.7 696.0,355.3 700.0,370.0C704.0,384.7 721.3,417.3 720.0,420.0C718.7,422.7 699.3,396.7 690.0,390.0C680.7,383.3 658.7,376.7 650.0,370.0C641.3,363.3 630.3,349.3 625.0,340.0C619.7,330.7 612.7,310.7 610.0,300.0C607.3,289.3 603.0,272.0 605.0,260.0C607.0,248.0 619.0,210.0 625.0,210.0Z" fill="#3af03a" fill-opacity="0.45"/>
<path d="M500.0,480.0C507.0,470.1 548.3,429.9 560.0,420.0C571.7,410.1 590.7,395.0 600.0,395.0C609.3,395.0 630.7,415.9 640.0,420.0C649.3,424.1 678.8,424.2 680.0,430.0C681.2,435.8 657.0,460.7 650.0,470.0C643.0,479.3 627.0,501.8 620.0,510.0C613.0,518.2 594.7,533.0 590.0,540.0C585.3,547.0 585.8,568.8 580.0,570.0C574.2,571.2 545.2,556.4 540.0,550.0C534.8,543.6 539.7,520.2 535.0,515.0C530.3,509.8 504.1,509.1 500.0,505.0C495.9,500.9 493.0,489.9 500.0,480.0Z" fill="#3af03a" fill-opacity="0.45"/>
<path d="M400.0,470.0C410.0,451.3 458.0,453.3 470.0,460.0C482.0,466.7 490.0,502.7 490.0,520.0C490.0,537.3 467.3,574.0 470.0,590.0C472.7,606.0 501.3,627.3 510.0,640.0C518.7,652.7 536.3,683.7 535.0,685.0C533.7,686.3 511.3,661.3 500.0,650.0C488.7,638.7 464.0,606.7 450.0,600.0C436.0,593.3 401.7,617.3 395.0,600.0C388.3,582.7 390.0,488.7 400.0,470.0Z" fill="#3af03a" fill-opacity="0.22"/>
<path d="M180.0,360.0C182.7,357.3 217.3,366.0 220.0,370.0C222.7,374.0 205.3,391.3 200.0,390.0C194.7,388.7 177.3,362.7 180.0,360.0Z" fill="#3af03a" fill-opacity="0.3"/>
</g>
<g filter="url(#bgs)" style="mix-blend-mode:screen">
<path d="M40.0,30.0C48.2,27.1 68.3,62.4 80.0,70.0C91.7,77.6 127.8,92.1 140.0,95.0C152.2,97.9 183.8,92.7 185.0,95.0C186.2,97.3 148.2,107.4 150.0,115.0C151.8,122.6 200.0,150.1 200.0,160.0C200.0,169.9 157.0,191.8 150.0,200.0C143.0,208.2 147.6,224.8 140.0,230.0C132.4,235.2 93.2,246.8 85.0,245.0C76.8,243.2 78.2,217.3 70.0,215.0C61.8,212.7 22.0,232.6 15.0,225.0C8.0,217.4 7.1,161.1 10.0,150.0C12.9,138.9 40.0,136.4 40.0,130.0C40.0,123.6 10.0,106.7 10.0,95.0C10.0,83.3 31.8,32.9 40.0,30.0Z" fill="none" stroke="#3af03a" stroke-opacity="1" stroke-width="10.5" stroke-linejoin="round" stroke-linecap="round"/>
<path d="M275.0,100.0C279.5,98.5 328.5,126.0 340.0,125.0C351.5,124.0 381.0,97.0 390.0,90.0C399.0,83.0 429.0,54.0 430.0,55.0C431.0,56.0 406.5,92.5 400.0,100.0C393.5,107.5 369.5,122.0 365.0,130.0C360.5,138.0 354.0,170.5 355.0,180.0C356.0,189.5 376.5,219.0 375.0,225.0C373.5,231.0 347.5,239.0 340.0,240.0C332.5,241.0 307.5,233.0 300.0,235.0C292.5,237.0 271.0,252.5 265.0,260.0C259.0,267.5 244.3,306.5 240.0,310.0C235.7,313.5 219.0,302.0 222.0,295.0C225.0,288.0 262.2,249.5 270.0,240.0C277.8,230.5 297.5,210.0 300.0,200.0C302.5,190.0 297.5,150.0 295.0,140.0C292.5,130.0 270.5,101.5 275.0,100.0Z" fill="none" stroke="#3af03a" stroke-opacity="1" stroke-width="9.0" stroke-linejoin="round" stroke-linecap="round"/>
<path d="M375.0,250.0C379.0,236.0 406.0,219.0 420.0,215.0C434.0,211.0 468.0,222.0 480.0,220.0C492.0,218.0 501.3,198.7 510.0,200.0C518.7,201.3 537.7,219.3 545.0,230.0C552.3,240.7 568.3,270.7 565.0,280.0C561.7,289.3 526.7,292.0 520.0,300.0C513.3,308.0 517.7,326.7 515.0,340.0C512.3,353.3 506.0,388.0 500.0,400.0C494.0,412.0 478.0,432.7 470.0,430.0C462.0,427.3 445.3,392.0 440.0,380.0C434.7,368.0 436.7,348.0 430.0,340.0C423.3,332.0 397.3,332.0 390.0,320.0C382.7,308.0 371.0,264.0 375.0,250.0Z" fill="none" stroke="#3af03a" stroke-opacity="0.45" stroke-width="7.5" stroke-linejoin="round" stroke-linecap="round"/>
<path d="M420.0,353.0C445.3,353.0 455.0,361.6 455.0,388.0C455.0,414.4 445.3,425.0 420.0,425.0C394.7,425.0 386.0,414.4 386.0,388.0C386.0,361.6 394.7,353.0 420.0,353.0Z" fill="none" stroke="#3af03a" stroke-opacity="0.9" stroke-width="9.0" stroke-linejoin="round" stroke-linecap="round"/>
<path d="M590.0,105.0C593.0,105.5 639.0,131.5 650.0,135.0C661.0,138.5 693.5,142.5 700.0,140.0C706.5,137.5 712.5,109.5 715.0,110.0C717.5,110.5 721.0,141.0 725.0,145.0C729.0,149.0 753.0,143.0 755.0,150.0C757.0,157.0 745.5,201.5 745.0,215.0C744.5,228.5 752.5,281.5 750.0,285.0C747.5,288.5 726.0,257.5 720.0,250.0C714.0,242.5 696.0,218.0 690.0,210.0C684.0,202.0 667.0,178.0 660.0,170.0C653.0,162.0 627.0,136.5 620.0,130.0C613.0,123.5 587.0,104.5 590.0,105.0Z" fill="none" stroke="#3af03a" stroke-opacity="1" stroke-width="9.0" stroke-linejoin="round" stroke-linecap="round"/>
<path d="M625.0,210.0C631.0,210.0 641.3,246.7 650.0,260.0C658.7,273.3 683.3,295.3 690.0,310.0C696.7,324.7 696.0,355.3 700.0,370.0C704.0,384.7 721.3,417.3 720.0,420.0C718.7,422.7 699.3,396.7 690.0,390.0C680.7,383.3 658.7,376.7 650.0,370.0C641.3,363.3 630.3,349.3 625.0,340.0C619.7,330.7 612.7,310.7 610.0,300.0C607.3,289.3 603.0,272.0 605.0,260.0C607.0,248.0 619.0,210.0 625.0,210.0Z" fill="none" stroke="#3af03a" stroke-opacity="0.8" stroke-width="9.0" stroke-linejoin="round" stroke-linecap="round"/>
<path d="M500.0,480.0C507.0,470.1 548.3,429.9 560.0,420.0C571.7,410.1 590.7,395.0 600.0,395.0C609.3,395.0 630.7,415.9 640.0,420.0C649.3,424.1 678.8,424.2 680.0,430.0C681.2,435.8 657.0,460.7 650.0,470.0C643.0,479.3 627.0,501.8 620.0,510.0C613.0,518.2 594.7,533.0 590.0,540.0C585.3,547.0 585.8,568.8 580.0,570.0C574.2,571.2 545.2,556.4 540.0,550.0C534.8,543.6 539.7,520.2 535.0,515.0C530.3,509.8 504.1,509.1 500.0,505.0C495.9,500.9 493.0,489.9 500.0,480.0Z" fill="none" stroke="#3af03a" stroke-opacity="0.85" stroke-width="9.0" stroke-linejoin="round" stroke-linecap="round"/>
<path d="M400.0,470.0C410.0,451.3 458.0,453.3 470.0,460.0C482.0,466.7 490.0,502.7 490.0,520.0C490.0,537.3 467.3,574.0 470.0,590.0C472.7,606.0 501.3,627.3 510.0,640.0C518.7,652.7 536.3,683.7 535.0,685.0C533.7,686.3 511.3,661.3 500.0,650.0C488.7,638.7 464.0,606.7 450.0,600.0C436.0,593.3 401.7,617.3 395.0,600.0C388.3,582.7 390.0,488.7 400.0,470.0Z" fill="none" stroke="#3af03a" stroke-opacity="0.3" stroke-width="7.5" stroke-linejoin="round" stroke-linecap="round"/>
<path d="M180.0,360.0C182.7,357.3 217.3,366.0 220.0,370.0C222.7,374.0 205.3,391.3 200.0,390.0C194.7,388.7 177.3,362.7 180.0,360.0Z" fill="none" stroke="#3af03a" stroke-opacity="0.3" stroke-width="6.0" stroke-linejoin="round" stroke-linecap="round"/>
</g>
<g filter="url(#bn)">
<ellipse cx="75" cy="112" rx="28" ry="18" fill="url(#ng)" opacity="0.55"/>
<ellipse cx="68" cy="160" rx="22" ry="22" fill="url(#ng)" opacity="0.6"/>
<ellipse cx="125" cy="190" rx="28" ry="18" fill="url(#ng)" opacity="0.45"/>
<ellipse cx="335" cy="200" rx="20" ry="24" fill="url(#ng)" opacity="0.55"/>
<ellipse cx="408" cy="272" rx="24" ry="26" fill="url(#ng)" opacity="1"/>
<ellipse cx="465" cy="272" rx="20" ry="25" fill="url(#ng)" opacity="1"/>
<ellipse cx="512" cy="262" rx="20" ry="18" fill="url(#ng)" opacity="1"/>
<ellipse cx="490" cy="312" rx="26" ry="20" fill="url(#ng)" opacity="1" transform="rotate(-30 490 312)"/>
<ellipse cx="430" cy="385" rx="14" ry="14" fill="url(#ng)" opacity="0.5"/>
<ellipse cx="705" cy="185" rx="18" ry="24" fill="url(#ng)" opacity="0.5"/>
<ellipse cx="638" cy="292" rx="16" ry="22" fill="url(#ng)" opacity="0.6"/>
<ellipse cx="668" cy="338" rx="14" ry="22" fill="url(#ng)" opacity="0.6"/>
<ellipse cx="592" cy="432" rx="24" ry="20" fill="url(#ng)" opacity="0.9"/>
<ellipse cx="592" cy="490" rx="24" ry="22" fill="url(#ng)" opacity="0.9"/>
<ellipse cx="425" cy="525" rx="36" ry="36" fill="url(#ng)" opacity="1"/>
<ellipse cx="747" cy="15" rx="12" ry="8" fill="url(#ng)" opacity="0.9"/>
</g>
</g>
<rect x="7" y="380" width="376" height="377" fill="#020a02"/>
<g clip-path="url(#ci)">
<g filter="url(#bgf)" style="mix-blend-mode:screen">
<path d="M101.0,455.0C102.5,447.5 123.2,429.7 132.0,429.0C140.8,428.3 157.7,444.5 167.0,450.0C176.3,455.5 191.9,470.0 202.0,470.0C212.1,470.0 229.4,458.1 243.0,450.0C256.6,441.9 289.2,417.8 304.0,409.0C318.8,400.2 344.4,388.0 354.0,384.0C363.6,380.0 374.4,377.4 376.0,379.0C377.6,380.6 374.3,389.3 366.0,396.0C357.7,402.7 326.4,419.1 314.0,429.0C301.6,438.9 282.5,458.5 273.0,470.0C263.5,481.5 246.3,504.2 243.0,515.0C239.7,525.8 244.7,540.9 248.0,551.0C251.3,561.1 263.3,579.5 268.0,591.0C272.7,602.5 280.3,625.5 283.0,637.0C285.7,648.5 289.3,671.0 288.0,677.0C286.7,683.0 279.0,682.7 273.0,682.0C267.0,681.3 251.1,673.3 243.0,672.0C234.9,670.7 217.5,668.7 212.0,672.0C206.5,675.3 208.0,693.7 202.0,697.0C196.0,700.3 177.1,698.3 167.0,697.0C156.9,695.7 136.1,684.2 126.0,687.0C115.9,689.8 99.0,708.3 91.0,718.0C83.0,727.7 73.1,754.4 66.0,760.0C58.9,765.6 36.7,766.9 38.0,760.0C39.3,753.1 67.6,719.7 76.0,708.0C84.4,696.3 93.5,682.8 101.0,672.0C108.5,661.2 126.5,639.8 132.0,627.0C137.5,614.2 141.3,589.6 142.0,576.0C142.7,562.4 139.8,537.1 137.0,525.0C134.2,512.9 125.8,494.3 121.0,485.0C116.2,475.7 99.5,462.5 101.0,455.0Z" fill="#3af03a" fill-opacity="0.72"/>
<path d="M255.0,700.0C261.7,687.1 287.3,669.3 300.0,660.0C312.7,650.7 338.9,632.7 350.0,630.0C361.1,627.3 376.3,623.1 383.0,640.0C389.7,656.9 417.7,741.4 400.0,757.0C382.3,772.6 269.3,764.6 250.0,757.0C230.7,749.4 248.3,712.9 255.0,700.0Z" fill="#3af03a" fill-opacity="0.22"/>
</g>
<g filter="url(#bgs)" style="mix-blend-mode:screen">
<path d="M101.0,455.0C102.5,447.5 123.2,429.7 132.0,429.0C140.8,428.3 157.7,444.5 167.0,450.0C176.3,455.5 191.9,470.0 202.0,470.0C212.1,470.0 229.4,458.1 243.0,450.0C256.6,441.9 289.2,417.8 304.0,409.0C318.8,400.2 344.4,388.0 354.0,384.0C363.6,380.0 374.4,377.4 376.0,379.0C377.6,380.6 374.3,389.3 366.0,396.0C357.7,402.7 326.4,419.1 314.0,429.0C301.6,438.9 282.5,458.5 273.0,470.0C263.5,481.5 246.3,504.2 243.0,515.0C239.7,525.8 244.7,540.9 248.0,551.0C251.3,561.1 263.3,579.5 268.0,591.0C272.7,602.5 280.3,625.5 283.0,637.0C285.7,648.5 289.3,671.0 288.0,677.0C286.7,683.0 279.0,682.7 273.0,682.0C267.0,681.3 251.1,673.3 243.0,672.0C234.9,670.7 217.5,668.7 212.0,672.0C206.5,675.3 208.0,693.7 202.0,697.0C196.0,700.3 177.1,698.3 167.0,697.0C156.9,695.7 136.1,684.2 126.0,687.0C115.9,689.8 99.0,708.3 91.0,718.0C83.0,727.7 73.1,754.4 66.0,760.0C58.9,765.6 36.7,766.9 38.0,760.0C39.3,753.1 67.6,719.7 76.0,708.0C84.4,696.3 93.5,682.8 101.0,672.0C108.5,661.2 126.5,639.8 132.0,627.0C137.5,614.2 141.3,589.6 142.0,576.0C142.7,562.4 139.8,537.1 137.0,525.0C134.2,512.9 125.8,494.3 121.0,485.0C116.2,475.7 99.5,462.5 101.0,455.0Z" fill="none" stroke="#3af03a" stroke-opacity="1" stroke-width="12.0" stroke-linejoin="round" stroke-linecap="round"/>
<path d="M255.0,700.0C261.7,687.1 287.3,669.3 300.0,660.0C312.7,650.7 338.9,632.7 350.0,630.0C361.1,627.3 376.3,623.1 383.0,640.0C389.7,656.9 417.7,741.4 400.0,757.0C382.3,772.6 269.3,764.6 250.0,757.0C230.7,749.4 248.3,712.9 255.0,700.0Z" fill="none" stroke="#3af03a" stroke-opacity="0.25" stroke-width="7.5" stroke-linejoin="round" stroke-linecap="round"/>
</g>
<g filter="url(#bn)">
<ellipse cx="212" cy="617" rx="33" ry="43" fill="url(#ng)" opacity="0.6"/>
<ellipse cx="334" cy="733" rx="38" ry="30" fill="url(#ng)" opacity="1"/>
</g>
</g>
<path d="M7,380H383V757" fill="none" stroke="#9a9a9a" stroke-width="4"/>
</svg>
<svg x="120" y="196" width="174" height="174" viewBox="0 0 765 765">
<rect x="7" y="9" width="750" height="748" fill="#010113"/>
<g clip-path="url(#cpb)">
<g filter="url(#bgf)" style="mix-blend-mode:screen">
<path d="M112.0,100.0C115.0,79.0 117.6,78.5 135.0,65.0C152.4,51.5 146.0,55.0 170.0,55.0C194.0,55.0 197.6,51.5 215.0,65.0C232.4,78.5 231.0,79.0 228.0,100.0C225.0,121.0 225.4,120.6 205.0,135.0C184.6,149.4 184.0,148.0 160.0,148.0C136.0,148.0 139.4,149.4 125.0,135.0C110.6,120.6 109.0,121.0 112.0,100.0Z" fill="#3af03a" fill-opacity="0.3"/>
<path d="M150.0,205.0C150.0,186.1 155.5,183.1 175.0,175.0C194.5,166.9 197.3,170.5 215.0,178.0C232.7,185.5 234.0,182.9 234.0,200.0C234.0,217.1 232.7,223.6 215.0,235.0C197.3,246.4 194.5,247.0 175.0,238.0C155.5,229.0 150.0,223.9 150.0,205.0Z" fill="#3af03a" fill-opacity="0.3"/>
<path d="M50.0,250.0C50.0,229.0 50.0,226.4 65.0,215.0C80.0,203.6 79.9,206.0 100.0,212.0C120.1,218.0 123.0,217.6 132.0,235.0C141.0,252.4 139.6,253.5 130.0,270.0C120.4,286.5 119.5,285.5 100.0,290.0C80.5,294.5 80.0,297.0 65.0,285.0C50.0,273.0 50.0,271.0 50.0,250.0Z" fill="#3af03a" fill-opacity="0.45"/>
<path d="M238.0,350.0C242.0,332.7 239.8,325.7 255.0,315.0C270.2,304.3 273.7,303.3 295.0,310.0C316.3,316.7 321.7,321.3 335.0,340.0C348.3,358.7 370.3,369.3 345.0,380.0C319.7,390.7 268.5,388.0 240.0,380.0C211.5,372.0 234.0,367.3 238.0,350.0Z" fill="#3af03a" fill-opacity="0.3"/>
<path d="M480.0,200.0C494.0,181.0 525.0,161.0 550.0,155.0C575.0,149.0 593.0,155.0 605.0,170.0C617.0,185.0 600.0,212.0 610.0,230.0C620.0,248.0 645.0,244.0 655.0,260.0C665.0,276.0 667.0,294.0 660.0,310.0C653.0,326.0 640.0,328.0 620.0,340.0C600.0,352.0 584.0,364.0 560.0,370.0C536.0,376.0 524.0,378.0 500.0,370.0C476.0,362.0 451.0,348.0 440.0,330.0C429.0,312.0 437.0,296.0 445.0,280.0C453.0,264.0 473.0,266.0 480.0,250.0C487.0,234.0 466.0,219.0 480.0,200.0Z" fill="#3af03a" fill-opacity="0.28"/>
<path d="M405.0,228.0C407.1,213.0 408.5,208.9 425.0,202.0C441.5,195.1 446.5,196.0 460.0,205.0C473.5,214.0 473.0,217.0 470.0,232.0C467.0,247.0 465.6,249.0 450.0,255.0C434.4,261.0 431.5,260.1 418.0,252.0C404.5,243.9 402.9,243.0 405.0,228.0Z" fill="#3af03a" fill-opacity="0.2"/>
<path d="M560.0,500.0C568.2,480.2 579.0,476.3 600.0,460.0C621.0,443.7 626.7,434.7 650.0,430.0C673.3,425.3 681.3,426.0 700.0,440.0C718.7,454.0 726.5,466.7 730.0,490.0C733.5,513.3 731.3,522.5 715.0,540.0C698.7,557.5 684.5,555.7 660.0,565.0C635.5,574.3 632.2,584.7 610.0,580.0C587.8,575.3 576.7,563.7 565.0,545.0C553.3,526.3 551.8,519.8 560.0,500.0Z" fill="#3af03a" fill-opacity="0.35"/>
<path d="M385.0,590.0C382.0,563.0 385.0,565.6 400.0,550.0C415.0,534.4 414.0,533.5 435.0,538.0C456.0,542.5 458.0,543.4 470.0,565.0C482.0,586.6 481.0,587.5 475.0,610.0C469.0,632.5 469.5,631.0 450.0,640.0C430.5,649.0 429.5,655.0 410.0,640.0C390.5,625.0 388.0,617.0 385.0,590.0Z" fill="#3af03a" fill-opacity="0.3"/>
<path d="M390.0,640.0C398.5,630.7 409.3,629.7 420.0,635.0C430.7,640.3 432.7,648.0 430.0,660.0C427.3,672.0 421.2,677.3 410.0,680.0C398.8,682.7 393.3,680.7 388.0,670.0C382.7,659.3 381.5,649.3 390.0,640.0Z" fill="#3af03a" fill-opacity="0.9"/>
<path d="M500.0,395.0C512.8,384.5 532.0,383.8 560.0,385.0C588.0,386.2 604.8,387.2 620.0,400.0C635.2,412.8 639.0,428.3 625.0,440.0C611.0,451.7 588.0,452.3 560.0,450.0C532.0,447.7 519.0,442.8 505.0,430.0C491.0,417.2 487.2,405.5 500.0,395.0Z" fill="#3af03a" fill-opacity="0.12"/>
</g>
<g filter="url(#bgs)" style="mix-blend-mode:screen">
<path d="M112.0,100.0C115.0,79.0 117.6,78.5 135.0,65.0C152.4,51.5 146.0,55.0 170.0,55.0C194.0,55.0 197.6,51.5 215.0,65.0C232.4,78.5 231.0,79.0 228.0,100.0C225.0,121.0 225.4,120.6 205.0,135.0C184.6,149.4 184.0,148.0 160.0,148.0C136.0,148.0 139.4,149.4 125.0,135.0C110.6,120.6 109.0,121.0 112.0,100.0Z" fill="none" stroke="#3af03a" stroke-opacity="0.85" stroke-width="7.2" stroke-linejoin="round" stroke-linecap="round"/>
<path d="M172.0,60.0C171.7,66.7 168.7,86.7 170.0,100.0C171.3,113.3 178.3,133.3 180.0,140.0" fill="none" stroke="#3af03a" stroke-opacity="0.7" stroke-width="6.0" stroke-linejoin="round" stroke-linecap="round"/>
<path d="M150.0,205.0C150.0,186.1 155.5,183.1 175.0,175.0C194.5,166.9 197.3,170.5 215.0,178.0C232.7,185.5 234.0,182.9 234.0,200.0C234.0,217.1 232.7,223.6 215.0,235.0C197.3,246.4 194.5,247.0 175.0,238.0C155.5,229.0 150.0,223.9 150.0,205.0Z" fill="none" stroke="#3af03a" stroke-opacity="0.75" stroke-width="6.0" stroke-linejoin="round" stroke-linecap="round"/>
<path d="M50.0,250.0C50.0,229.0 50.0,226.4 65.0,215.0C80.0,203.6 79.9,206.0 100.0,212.0C120.1,218.0 123.0,217.6 132.0,235.0C141.0,252.4 139.6,253.5 130.0,270.0C120.4,286.5 119.5,285.5 100.0,290.0C80.5,294.5 80.0,297.0 65.0,285.0C50.0,273.0 50.0,271.0 50.0,250.0Z" fill="none" stroke="#3af03a" stroke-opacity="1" stroke-width="8.4" stroke-linejoin="round" stroke-linecap="round"/>
<path d="M238.0,350.0C242.0,332.7 239.8,325.7 255.0,315.0C270.2,304.3 273.7,303.3 295.0,310.0C316.3,316.7 321.7,321.3 335.0,340.0C348.3,358.7 370.3,369.3 345.0,380.0C319.7,390.7 268.5,388.0 240.0,380.0C211.5,372.0 234.0,367.3 238.0,350.0Z" fill="none" stroke="#3af03a" stroke-opacity="0.8" stroke-width="7.2" stroke-linejoin="round" stroke-linecap="round"/>
<path d="M480.0,200.0C494.0,181.0 525.0,161.0 550.0,155.0C575.0,149.0 593.0,155.0 605.0,170.0C617.0,185.0 600.0,212.0 610.0,230.0C620.0,248.0 645.0,244.0 655.0,260.0C665.0,276.0 667.0,294.0 660.0,310.0C653.0,326.0 640.0,328.0 620.0,340.0C600.0,352.0 584.0,364.0 560.0,370.0C536.0,376.0 524.0,378.0 500.0,370.0C476.0,362.0 451.0,348.0 440.0,330.0C429.0,312.0 437.0,296.0 445.0,280.0C453.0,264.0 473.0,266.0 480.0,250.0C487.0,234.0 466.0,219.0 480.0,200.0Z" fill="none" stroke="#3af03a" stroke-opacity="0.85" stroke-width="6.0" stroke-linejoin="round" stroke-linecap="round"/>
<path d="M405.0,228.0C407.1,213.0 408.5,208.9 425.0,202.0C441.5,195.1 446.5,196.0 460.0,205.0C473.5,214.0 473.0,217.0 470.0,232.0C467.0,247.0 465.6,249.0 450.0,255.0C434.4,261.0 431.5,260.1 418.0,252.0C404.5,243.9 402.9,243.0 405.0,228.0Z" fill="none" stroke="#3af03a" stroke-opacity="0.7" stroke-width="6.0" stroke-linejoin="round" stroke-linecap="round"/>
<path d="M480.0,250.0C490.0,252.5 518.3,268.3 540.0,265.0C561.7,261.7 598.3,235.8 610.0,230.0" fill="none" stroke="#3af03a" stroke-opacity="0.6" stroke-width="4.8" stroke-linejoin="round" stroke-linecap="round"/>
<path d="M540.0,265.0C541.7,274.2 536.7,307.5 550.0,320.0C563.3,332.5 608.3,336.7 620.0,340.0" fill="none" stroke="#3af03a" stroke-opacity="0.6" stroke-width="4.8" stroke-linejoin="round" stroke-linecap="round"/>
<path d="M550.0,155.0C549.2,165.8 546.7,201.7 545.0,220.0C543.3,238.3 540.8,257.5 540.0,265.0" fill="none" stroke="#3af03a" stroke-opacity="0.5" stroke-width="4.8" stroke-linejoin="round" stroke-linecap="round"/>
<path d="M560.0,500.0C568.2,480.2 579.0,476.3 600.0,460.0C621.0,443.7 626.7,434.7 650.0,430.0C673.3,425.3 681.3,426.0 700.0,440.0C718.7,454.0 726.5,466.7 730.0,490.0C733.5,513.3 731.3,522.5 715.0,540.0C698.7,557.5 684.5,555.7 660.0,565.0C635.5,574.3 632.2,584.7 610.0,580.0C587.8,575.3 576.7,563.7 565.0,545.0C553.3,526.3 551.8,519.8 560.0,500.0Z" fill="none" stroke="#3af03a" stroke-opacity="0.95" stroke-width="7.2" stroke-linejoin="round" stroke-linecap="round"/>
<path d="M610.0,580.0C609.2,570.0 600.0,536.7 605.0,520.0C610.0,503.3 624.2,493.3 640.0,480.0C655.8,466.7 690.0,446.7 700.0,440.0" fill="none" stroke="#3af03a" stroke-opacity="0.8" stroke-width="6.0" stroke-linejoin="round" stroke-linecap="round"/>
<path d="M640.0,480.0C645.0,486.7 666.7,505.8 670.0,520.0C673.3,534.2 661.7,557.5 660.0,565.0" fill="none" stroke="#3af03a" stroke-opacity="0.8" stroke-width="6.0" stroke-linejoin="round" stroke-linecap="round"/>
<path d="M385.0,590.0C382.0,563.0 385.0,565.6 400.0,550.0C415.0,534.4 414.0,533.5 435.0,538.0C456.0,542.5 458.0,543.4 470.0,565.0C482.0,586.6 481.0,587.5 475.0,610.0C469.0,632.5 469.5,631.0 450.0,640.0C430.5,649.0 429.5,655.0 410.0,640.0C390.5,625.0 388.0,617.0 385.0,590.0Z" fill="none" stroke="#3af03a" stroke-opacity="0.95" stroke-width="7.2" stroke-linejoin="round" stroke-linecap="round"/>
<path d="M390.0,640.0C398.5,630.7 409.3,629.7 420.0,635.0C430.7,640.3 432.7,648.0 430.0,660.0C427.3,672.0 421.2,677.3 410.0,680.0C398.8,682.7 393.3,680.7 388.0,670.0C382.7,659.3 381.5,649.3 390.0,640.0Z" fill="none" stroke="#3af03a" stroke-opacity="0.9" stroke-width="7.2" stroke-linejoin="round" stroke-linecap="round"/>
<path d="M500.0,395.0C512.8,384.5 532.0,383.8 560.0,385.0C588.0,386.2 604.8,387.2 620.0,400.0C635.2,412.8 639.0,428.3 625.0,440.0C611.0,451.7 588.0,452.3 560.0,450.0C532.0,447.7 519.0,442.8 505.0,430.0C491.0,417.2 487.2,405.5 500.0,395.0Z" fill="none" stroke="#3af03a" stroke-opacity="0.25" stroke-width="4.8" stroke-linejoin="round" stroke-linecap="round"/>
</g>
<g filter="url(#bn)">
<ellipse cx="150" cy="100" rx="22" ry="26" fill="url(#ng)" opacity="1"/>
<ellipse cx="198" cy="103" rx="22" ry="22" fill="url(#ng)" opacity="1"/>
<ellipse cx="182" cy="210" rx="28" ry="18" fill="url(#ng)" opacity="1" transform="rotate(20 182 210)"/>
<ellipse cx="90" cy="248" rx="26" ry="24" fill="url(#ng)" opacity="1"/>
<ellipse cx="270" cy="350" rx="22" ry="24" fill="url(#ng)" opacity="1"/>
<ellipse cx="318" cy="375" rx="18" ry="10" fill="url(#ng)" opacity="1"/>
<ellipse cx="438" cy="225" rx="24" ry="22" fill="url(#ng)" opacity="1"/>
<ellipse cx="515" cy="240" rx="26" ry="22" fill="url(#ng)" opacity="1"/>
<ellipse cx="572" cy="228" rx="22" ry="26" fill="url(#ng)" opacity="1"/>
<ellipse cx="480" cy="278" rx="22" ry="20" fill="url(#ng)" opacity="1"/>
<ellipse cx="515" cy="310" rx="28" ry="26" fill="url(#ng)" opacity="1"/>
<ellipse cx="578" cy="288" rx="22" ry="26" fill="url(#ng)" opacity="1"/>
<ellipse cx="595" cy="330" rx="22" ry="20" fill="url(#ng)" opacity="1"/>
<ellipse cx="525" cy="352" rx="24" ry="14" fill="url(#ng)" opacity="1"/>
<ellipse cx="540" cy="408" rx="26" ry="20" fill="url(#ng)" opacity="1"/>
<ellipse cx="588" cy="420" rx="26" ry="22" fill="url(#ng)" opacity="1"/>
<ellipse cx="622" cy="470" rx="20" ry="24" fill="url(#ng)" opacity="1"/>
<ellipse cx="585" cy="518" rx="22" ry="30" fill="url(#ng)" opacity="1"/>
<ellipse cx="635" cy="522" rx="20" ry="28" fill="url(#ng)" opacity="1"/>
<ellipse cx="700" cy="500" rx="16" ry="26" fill="url(#ng)" opacity="1"/>
<ellipse cx="420" cy="600" rx="30" ry="22" fill="url(#ng)" opacity="1" transform="rotate(20 420 600)"/>
</g>
</g>
<rect x="7" y="380" width="376" height="377" fill="#010113"/>
<g clip-path="url(#ci)">
<g filter="url(#bgf)" style="mix-blend-mode:screen">
<path d="M60.0,640.0C60.0,621.3 63.7,605.7 80.0,580.0C96.3,554.3 109.0,553.3 130.0,530.0C151.0,506.7 146.7,498.7 170.0,480.0C193.3,461.3 204.3,454.7 230.0,450.0C255.7,445.3 263.7,448.3 280.0,460.0C296.3,471.7 286.0,486.0 300.0,500.0C314.0,514.0 324.8,501.3 340.0,520.0C355.2,538.7 365.0,554.3 365.0,580.0C365.0,605.7 359.8,611.3 340.0,630.0C320.2,648.7 305.7,648.3 280.0,660.0C254.3,671.7 255.7,670.7 230.0,680.0C204.3,689.3 195.7,697.7 170.0,700.0C144.3,702.3 141.0,699.3 120.0,690.0C99.0,680.7 94.0,671.7 80.0,660.0C66.0,648.3 60.0,658.7 60.0,640.0Z" fill="#3af03a" fill-opacity="0.38"/>
<path d="M8.0,400.0C26.4,383.0 65.6,381.0 100.0,385.0C134.4,389.0 160.0,403.0 180.0,420.0C200.0,437.0 210.0,454.0 200.0,470.0C190.0,486.0 158.0,498.0 130.0,500.0C102.0,502.0 84.4,486.0 60.0,480.0C35.6,474.0 18.4,486.0 8.0,470.0C-2.4,454.0 -10.4,417.0 8.0,400.0Z" fill="#3af03a" fill-opacity="0.2"/>
<path d="M40.0,650.0C44.0,642.0 62.0,628.0 70.0,630.0C78.0,632.0 84.0,652.0 80.0,660.0C76.0,668.0 58.0,672.0 50.0,670.0C42.0,668.0 36.0,658.0 40.0,650.0Z" fill="#3af03a" fill-opacity="0.7"/>
</g>
<g filter="url(#bgs)" style="mix-blend-mode:screen">
<path d="M60.0,640.0C60.0,621.3 63.7,605.7 80.0,580.0C96.3,554.3 109.0,553.3 130.0,530.0C151.0,506.7 146.7,498.7 170.0,480.0C193.3,461.3 204.3,454.7 230.0,450.0C255.7,445.3 263.7,448.3 280.0,460.0C296.3,471.7 286.0,486.0 300.0,500.0C314.0,514.0 324.8,501.3 340.0,520.0C355.2,538.7 365.0,554.3 365.0,580.0C365.0,605.7 359.8,611.3 340.0,630.0C320.2,648.7 305.7,648.3 280.0,660.0C254.3,671.7 255.7,670.7 230.0,680.0C204.3,689.3 195.7,697.7 170.0,700.0C144.3,702.3 141.0,699.3 120.0,690.0C99.0,680.7 94.0,671.7 80.0,660.0C66.0,648.3 60.0,658.7 60.0,640.0Z" fill="none" stroke="#3af03a" stroke-opacity="1" stroke-width="9.6" stroke-linejoin="round" stroke-linecap="round"/>
<path d="M150.0,600.0C158.3,590.0 181.7,551.7 200.0,540.0C218.3,528.3 243.3,536.7 260.0,530.0C276.7,523.3 293.3,505.0 300.0,500.0" fill="none" stroke="#3af03a" stroke-opacity="0.9" stroke-width="7.2" stroke-linejoin="round" stroke-linecap="round"/>
<path d="M150.0,600.0C153.3,608.3 156.7,636.7 170.0,650.0C183.3,663.3 220.0,675.0 230.0,680.0" fill="none" stroke="#3af03a" stroke-opacity="0.9" stroke-width="7.2" stroke-linejoin="round" stroke-linecap="round"/>
<path d="M260.0,530.0C260.8,541.7 261.7,578.3 265.0,600.0C268.3,621.7 277.5,650.0 280.0,660.0" fill="none" stroke="#3af03a" stroke-opacity="0.9" stroke-width="7.2" stroke-linejoin="round" stroke-linecap="round"/>
<path d="M8.0,400.0C26.4,383.0 65.6,381.0 100.0,385.0C134.4,389.0 160.0,403.0 180.0,420.0C200.0,437.0 210.0,454.0 200.0,470.0C190.0,486.0 158.0,498.0 130.0,500.0C102.0,502.0 84.4,486.0 60.0,480.0C35.6,474.0 18.4,486.0 8.0,470.0C-2.4,454.0 -10.4,417.0 8.0,400.0Z" fill="none" stroke="#3af03a" stroke-opacity="0.2" stroke-width="6.0" stroke-linejoin="round" stroke-linecap="round"/>
<path d="M40.0,650.0C44.0,642.0 62.0,628.0 70.0,630.0C78.0,632.0 84.0,652.0 80.0,660.0C76.0,668.0 58.0,672.0 50.0,670.0C42.0,668.0 36.0,658.0 40.0,650.0Z" fill="none" stroke="#3af03a" stroke-opacity="0.5" stroke-width="6.0" stroke-linejoin="round" stroke-linecap="round"/>
</g>
<g filter="url(#bn)">
<ellipse cx="35" cy="415" rx="30" ry="30" fill="url(#ng)" opacity="1"/>
<ellipse cx="115" cy="425" rx="48" ry="35" fill="url(#ng)" opacity="1"/>
<ellipse cx="175" cy="515" rx="36" ry="40" fill="url(#ng)" opacity="1"/>
<ellipse cx="110" cy="600" rx="38" ry="55" fill="url(#ng)" opacity="1"/>
<ellipse cx="200" cy="612" rx="40" ry="52" fill="url(#ng)" opacity="1" transform="rotate(-20 200 612)"/>
<ellipse cx="318" cy="570" rx="28" ry="45" fill="url(#ng)" opacity="1" transform="rotate(15 318 570)"/>
</g>
</g>
<path d="M7,380H383V757" fill="none" stroke="#9a9a9a" stroke-width="4"/>
</svg>
<svg x="295.5" y="196" width="174" height="174" viewBox="0 0 765 765">
<rect x="7" y="9" width="750" height="748" fill="#02021a"/>
<g clip-path="url(#cpb)">
<g filter="url(#bgf)" style="mix-blend-mode:screen">
<path d="M100.0,195.0C103.0,194.5 183.5,208.5 200.0,210.0C216.5,211.5 254.0,214.0 265.0,210.0C276.0,206.0 303.5,178.5 310.0,170.0C316.5,161.5 326.5,125.5 330.0,125.0C333.5,124.5 338.0,159.0 345.0,165.0C352.0,171.0 391.7,183.7 400.0,185.0C408.3,186.3 428.0,175.0 428.0,178.0C428.0,181.0 404.3,207.3 400.0,215.0C395.7,222.7 388.5,249.0 385.0,255.0C381.5,261.0 366.5,267.0 365.0,275.0C363.5,283.0 371.0,333.5 370.0,335.0C369.0,336.5 359.0,298.0 355.0,290.0C351.0,282.0 336.5,261.5 330.0,255.0C323.5,248.5 299.0,229.0 290.0,225.0C281.0,221.0 252.0,216.0 240.0,215.0C228.0,214.0 184.0,217.0 170.0,215.0C156.0,213.0 97.0,195.5 100.0,195.0Z" fill="#3af03a" fill-opacity="0.45"/>
<path d="M442.0,292.0C442.0,271.0 440.0,271.5 455.0,258.0C470.0,244.5 469.5,246.4 492.0,247.0C514.5,247.6 514.7,246.5 530.0,260.0C545.3,273.5 544.5,271.0 543.0,292.0C541.5,313.0 540.9,315.6 525.0,330.0C509.1,344.4 511.0,340.6 490.0,340.0C469.0,339.4 469.4,342.4 455.0,328.0C440.6,313.6 442.0,313.0 442.0,292.0Z" fill="#3af03a" fill-opacity="0.35"/>
<path d="M440.0,40.0C440.0,28.3 455.0,15.0 480.0,10.0C505.0,5.0 575.0,0.0 590.0,10.0C605.0,20.0 578.3,55.0 570.0,70.0C561.7,85.0 555.0,98.3 540.0,100.0C525.0,101.7 496.7,90.0 480.0,80.0C463.3,70.0 440.0,51.7 440.0,40.0Z" fill="#3af03a" fill-opacity="0.12"/>
<path d="M790.0,250.0C782.3,227.4 772.2,251.5 757.0,255.0C741.8,258.5 735.5,254.5 725.0,265.0C714.5,275.5 712.0,282.5 712.0,300.0C712.0,317.5 714.5,328.8 725.0,340.0C735.5,351.2 741.8,345.2 757.0,348.0C772.2,350.8 782.3,374.9 790.0,352.0C797.7,329.1 797.7,272.6 790.0,250.0Z" fill="#3af03a" fill-opacity="0.3"/>
<path d="M570.0,425.0C570.0,399.5 570.5,403.0 590.0,385.0C609.5,367.0 605.0,365.0 635.0,365.0C665.0,365.0 669.0,367.0 690.0,385.0C711.0,403.0 708.0,399.5 705.0,425.0C702.0,450.5 701.0,451.1 680.0,470.0C659.0,488.9 662.0,488.0 635.0,488.0C608.0,488.0 609.5,488.9 590.0,470.0C570.5,451.1 570.0,450.5 570.0,425.0Z" fill="#3af03a" fill-opacity="0.32"/>
<path d="M400.0,420.0C415.0,360.5 456.7,395.0 480.0,400.0C503.3,405.0 526.7,426.7 540.0,450.0C553.3,473.3 546.7,515.0 560.0,540.0C573.3,565.0 605.0,563.8 620.0,600.0C635.0,636.2 688.3,730.8 650.0,757.0C611.7,783.2 431.7,813.2 390.0,757.0C348.3,700.8 385.0,479.5 400.0,420.0Z" fill="#3af03a" fill-opacity="0.08"/>
</g>
<g filter="url(#bgs)" style="mix-blend-mode:screen">
<path d="M100.0,195.0C103.0,194.5 183.5,208.5 200.0,210.0C216.5,211.5 254.0,214.0 265.0,210.0C276.0,206.0 303.5,178.5 310.0,170.0C316.5,161.5 326.5,125.5 330.0,125.0C333.5,124.5 338.0,159.0 345.0,165.0C352.0,171.0 391.7,183.7 400.0,185.0C408.3,186.3 428.0,175.0 428.0,178.0C428.0,181.0 404.3,207.3 400.0,215.0C395.7,222.7 388.5,249.0 385.0,255.0C381.5,261.0 366.5,267.0 365.0,275.0C363.5,283.0 371.0,333.5 370.0,335.0C369.0,336.5 359.0,298.0 355.0,290.0C351.0,282.0 336.5,261.5 330.0,255.0C323.5,248.5 299.0,229.0 290.0,225.0C281.0,221.0 252.0,216.0 240.0,215.0C228.0,214.0 184.0,217.0 170.0,215.0C156.0,213.0 97.0,195.5 100.0,195.0Z" fill="none" stroke="#3af03a" stroke-opacity="1" stroke-width="8.1" stroke-linejoin="round" stroke-linecap="round"/>
<path d="M442.0,292.0C442.0,271.0 440.0,271.5 455.0,258.0C470.0,244.5 469.5,246.4 492.0,247.0C514.5,247.6 514.7,246.5 530.0,260.0C545.3,273.5 544.5,271.0 543.0,292.0C541.5,313.0 540.9,315.6 525.0,330.0C509.1,344.4 511.0,340.6 490.0,340.0C469.0,339.4 469.4,342.4 455.0,328.0C440.6,313.6 442.0,313.0 442.0,292.0Z" fill="none" stroke="#3af03a" stroke-opacity="0.95" stroke-width="8.1" stroke-linejoin="round" stroke-linecap="round"/>
<path d="M440.0,40.0C440.0,28.3 455.0,15.0 480.0,10.0C505.0,5.0 575.0,0.0 590.0,10.0C605.0,20.0 578.3,55.0 570.0,70.0C561.7,85.0 555.0,98.3 540.0,100.0C525.0,101.7 496.7,90.0 480.0,80.0C463.3,70.0 440.0,51.7 440.0,40.0Z" fill="none" stroke="#3af03a" stroke-opacity="0.3" stroke-width="5.4" stroke-linejoin="round" stroke-linecap="round"/>
<path d="M545.0,100.0C548.3,110.0 559.2,135.0 565.0,160.0C570.8,185.0 577.5,235.0 580.0,250.0" fill="none" stroke="#3af03a" stroke-opacity="0.4" stroke-width="5.4" stroke-linejoin="round" stroke-linecap="round"/>
<path d="M690.0,235.0C695.0,233.3 710.0,232.5 720.0,225.0C730.0,217.5 745.0,195.8 750.0,190.0" fill="none" stroke="#3af03a" stroke-opacity="0.9" stroke-width="8.1" stroke-linejoin="round" stroke-linecap="round"/>
<path d="M790.0,250.0C782.3,227.4 772.2,251.5 757.0,255.0C741.8,258.5 735.5,254.5 725.0,265.0C714.5,275.5 712.0,282.5 712.0,300.0C712.0,317.5 714.5,328.8 725.0,340.0C735.5,351.2 741.8,345.2 757.0,348.0C772.2,350.8 782.3,374.9 790.0,352.0C797.7,329.1 797.7,272.6 790.0,250.0Z" fill="none" stroke="#3af03a" stroke-opacity="0.95" stroke-width="8.1" stroke-linejoin="round" stroke-linecap="round"/>
<path d="M570.0,425.0C570.0,399.5 570.5,403.0 590.0,385.0C609.5,367.0 605.0,365.0 635.0,365.0C665.0,365.0 669.0,367.0 690.0,385.0C711.0,403.0 708.0,399.5 705.0,425.0C702.0,450.5 701.0,451.1 680.0,470.0C659.0,488.9 662.0,488.0 635.0,488.0C608.0,488.0 609.5,488.9 590.0,470.0C570.5,451.1 570.0,450.5 570.0,425.0Z" fill="none" stroke="#3af03a" stroke-opacity="0.7" stroke-width="6.8" stroke-linejoin="round" stroke-linecap="round"/>
<path d="M400.0,420.0C415.0,360.5 456.7,395.0 480.0,400.0C503.3,405.0 526.7,426.7 540.0,450.0C553.3,473.3 546.7,515.0 560.0,540.0C573.3,565.0 605.0,563.8 620.0,600.0C635.0,636.2 688.3,730.8 650.0,757.0C611.7,783.2 431.7,813.2 390.0,757.0C348.3,700.8 385.0,479.5 400.0,420.0Z" fill="none" stroke="#3af03a" stroke-opacity="0.12" stroke-width="5.4" stroke-linejoin="round" stroke-linecap="round"/>
<path d="M580.0,470.0C583.3,481.7 590.0,520.0 600.0,540.0C610.0,560.0 633.3,581.7 640.0,590.0" fill="none" stroke="#3af03a" stroke-opacity="0.3" stroke-width="5.4" stroke-linejoin="round" stroke-linecap="round"/>
</g>
<g filter="url(#bn)">
<ellipse cx="350" cy="215" rx="32" ry="36" fill="url(#ng)" opacity="1"/>
<ellipse cx="470" cy="290" rx="24" ry="30" fill="url(#ng)" opacity="1"/>
<ellipse cx="585" cy="300" rx="30" ry="28" fill="url(#ng)" opacity="1"/>
<ellipse cx="525" cy="30" rx="38" ry="22" fill="url(#ng)" opacity="1"/>
<ellipse cx="742" cy="305" rx="18" ry="30" fill="url(#ng)" opacity="0.7"/>
<ellipse cx="610" cy="435" rx="34" ry="32" fill="url(#ng)" opacity="1"/>
<ellipse cx="580" cy="490" rx="26" ry="30" fill="url(#ng)" opacity="0.8"/>
<ellipse cx="415" cy="590" rx="40" ry="40" fill="url(#ng)" opacity="1"/>
<ellipse cx="440" cy="678" rx="36" ry="32" fill="url(#ng)" opacity="1"/>
<ellipse cx="752" cy="215" rx="8" ry="20" fill="url(#ng)" opacity="0.9"/>
</g>
</g>
<rect x="7" y="380" width="376" height="377" fill="#02021a"/>
<g clip-path="url(#ci)">
<g filter="url(#bgf)" style="mix-blend-mode:screen">
<path d="M10.0,566.0C14.0,562.3 32.5,554.3 40.0,553.0C47.5,551.7 54.5,561.7 66.0,556.0C77.5,550.3 112.5,521.5 126.0,510.0C139.5,498.5 160.5,481.5 167.0,470.0C173.5,458.5 172.6,432.1 175.0,424.0C177.4,415.9 181.4,405.5 185.0,409.0C188.6,412.5 194.9,440.5 202.0,450.0C209.1,459.5 227.2,473.3 238.0,480.0C248.8,486.7 271.5,497.6 283.0,500.0C294.5,502.4 314.5,498.7 324.0,498.0C333.5,497.3 350.7,492.1 354.0,495.0C357.3,497.9 354.3,514.5 349.0,520.0C343.7,525.5 320.0,528.5 314.0,536.0C308.0,543.5 308.1,565.2 304.0,576.0C299.9,586.8 288.5,606.2 283.0,617.0C277.5,627.8 266.7,645.5 263.0,657.0C259.3,668.5 256.3,691.1 255.0,703.0C253.7,714.9 255.3,740.3 253.0,746.0C250.7,751.7 241.3,751.1 238.0,746.0C234.7,740.9 230.7,717.9 228.0,708.0C225.3,698.1 224.8,681.5 218.0,672.0C211.2,662.5 189.3,645.8 177.0,637.0C164.7,628.2 139.5,612.8 126.0,606.0C112.5,599.2 88.8,588.3 76.0,586.0C63.2,583.7 38.8,589.7 30.0,589.0C21.2,588.3 12.7,584.1 10.0,581.0C7.3,577.9 6.0,569.7 10.0,566.0Z" fill="#3af03a" fill-opacity="0.36"/>
<path d="M12.0,560.0C19.2,551.1 36.6,544.2 45.0,550.0C53.4,555.8 55.2,576.1 48.0,585.0C40.8,593.9 22.4,593.8 14.0,588.0C5.6,582.2 4.8,568.9 12.0,560.0Z" fill="#3af03a" fill-opacity="0.9"/>
<path d="M310.0,495.0C319.3,485.0 343.8,483.8 352.0,492.0C360.2,500.2 354.3,520.0 345.0,530.0C335.7,540.0 320.2,543.2 312.0,535.0C303.8,526.8 300.7,505.0 310.0,495.0Z" fill="#3af03a" fill-opacity="0.9"/>
<path d="M170.0,420.0C175.8,410.7 188.0,415.7 195.0,425.0C202.0,434.3 205.8,450.7 200.0,460.0C194.2,469.3 177.0,474.3 170.0,465.0C163.0,455.7 164.2,429.3 170.0,420.0Z" fill="#3af03a" fill-opacity="0.8"/>
<path d="M285.0,560.0C291.5,550.7 305.3,550.7 310.0,560.0C314.7,569.3 311.5,590.7 305.0,600.0C298.5,609.3 286.7,609.3 282.0,600.0C277.3,590.7 278.5,569.3 285.0,560.0Z" fill="#3af03a" fill-opacity="0.8"/>
<path d="M370.0,690.0C371.1,682.3 381.7,673.3 383.0,680.0C384.3,686.7 384.1,749.3 383.0,757.0C381.9,764.7 373.3,763.7 372.0,757.0C370.7,750.3 368.9,697.7 370.0,690.0Z" fill="#3af03a" fill-opacity="0.8"/>
</g>
<g filter="url(#bgs)" style="mix-blend-mode:screen">
<path d="M10.0,566.0C14.0,562.3 32.5,554.3 40.0,553.0C47.5,551.7 54.5,561.7 66.0,556.0C77.5,550.3 112.5,521.5 126.0,510.0C139.5,498.5 160.5,481.5 167.0,470.0C173.5,458.5 172.6,432.1 175.0,424.0C177.4,415.9 181.4,405.5 185.0,409.0C188.6,412.5 194.9,440.5 202.0,450.0C209.1,459.5 227.2,473.3 238.0,480.0C248.8,486.7 271.5,497.6 283.0,500.0C294.5,502.4 314.5,498.7 324.0,498.0C333.5,497.3 350.7,492.1 354.0,495.0C357.3,497.9 354.3,514.5 349.0,520.0C343.7,525.5 320.0,528.5 314.0,536.0C308.0,543.5 308.1,565.2 304.0,576.0C299.9,586.8 288.5,606.2 283.0,617.0C277.5,627.8 266.7,645.5 263.0,657.0C259.3,668.5 256.3,691.1 255.0,703.0C253.7,714.9 255.3,740.3 253.0,746.0C250.7,751.7 241.3,751.1 238.0,746.0C234.7,740.9 230.7,717.9 228.0,708.0C225.3,698.1 224.8,681.5 218.0,672.0C211.2,662.5 189.3,645.8 177.0,637.0C164.7,628.2 139.5,612.8 126.0,606.0C112.5,599.2 88.8,588.3 76.0,586.0C63.2,583.7 38.8,589.7 30.0,589.0C21.2,588.3 12.7,584.1 10.0,581.0C7.3,577.9 6.0,569.7 10.0,566.0Z" fill="none" stroke="#3af03a" stroke-opacity="1" stroke-width="12.2" stroke-linejoin="round" stroke-linecap="round"/>
<path d="M370.0,690.0C371.1,682.3 381.7,673.3 383.0,680.0C384.3,686.7 384.1,749.3 383.0,757.0C381.9,764.7 373.3,763.7 372.0,757.0C370.7,750.3 368.9,697.7 370.0,690.0Z" fill="none" stroke="#3af03a" stroke-opacity="0.8" stroke-width="6.8" stroke-linejoin="round" stroke-linecap="round"/>
</g>
<g filter="url(#bn)">
<ellipse cx="223" cy="576" rx="52" ry="67" fill="url(#ng)" opacity="1"/>
</g>
</g>
<path d="M7,380H383V757" fill="none" stroke="#9a9a9a" stroke-width="4"/>
</svg>
<svg x="471" y="196" width="174" height="174" viewBox="0 0 765 765">
<rect x="7" y="9" width="750" height="748" fill="#00000c"/>
<g clip-path="url(#cpb)">
<g filter="url(#bgf)" style="mix-blend-mode:screen">
<path d="M200.0,160.0C204.1,158.2 219.5,181.5 230.0,185.0C240.5,188.5 280.1,191.8 290.0,190.0C299.9,188.2 310.3,167.7 315.0,170.0C319.7,172.3 324.8,201.8 330.0,210.0C335.2,218.2 358.8,234.2 360.0,240.0C361.2,245.8 343.5,253.0 340.0,260.0C336.5,267.0 327.7,290.7 330.0,300.0C332.3,309.3 363.5,340.0 360.0,340.0C356.5,340.0 314.0,305.2 300.0,300.0C286.0,294.8 252.2,293.8 240.0,295.0C227.8,296.2 205.5,305.9 195.0,310.0C184.5,314.1 161.1,324.8 150.0,330.0C138.9,335.2 110.5,351.5 100.0,355.0C89.5,358.5 57.7,363.5 60.0,360.0C62.3,356.5 107.8,333.2 120.0,325.0C132.2,316.8 156.8,299.9 165.0,290.0C173.2,280.1 186.5,250.5 190.0,240.0C193.5,229.5 193.8,209.3 195.0,200.0C196.2,190.7 195.9,161.8 200.0,160.0Z" fill="#3af03a" fill-opacity="0.15"/>
<path d="M255.0,228.0C263.0,218.4 280.5,222.9 292.0,232.0C303.5,241.1 306.0,252.4 298.0,262.0C290.0,271.6 273.5,277.1 262.0,268.0C250.5,258.9 247.0,237.6 255.0,228.0Z" fill="#3af03a" fill-opacity="0.75"/>
<path d="M365.0,345.0C369.1,342.7 406.6,354.4 420.0,355.0C433.4,355.6 468.3,352.3 480.0,350.0C491.7,347.7 510.1,337.9 520.0,335.0C529.9,332.1 562.1,320.9 565.0,325.0C567.9,329.1 551.4,361.2 545.0,370.0C538.6,378.8 517.0,393.0 510.0,400.0C503.0,407.0 488.7,421.8 485.0,430.0C481.3,438.2 480.3,470.0 478.0,470.0C475.7,470.0 471.8,438.8 465.0,430.0C458.2,421.2 429.3,401.4 420.0,395.0C410.7,388.6 391.4,380.8 385.0,375.0C378.6,369.2 360.9,347.3 365.0,345.0Z" fill="#3af03a" fill-opacity="0.3"/>
<path d="M485.0,125.0C487.3,123.8 530.1,123.5 540.0,120.0C549.9,116.5 565.3,100.2 570.0,95.0C574.7,89.8 576.5,74.4 580.0,75.0C583.5,75.6 596.5,91.2 600.0,100.0C603.5,108.8 611.8,143.0 610.0,150.0C608.2,157.0 590.2,156.5 585.0,160.0C579.8,163.5 568.5,181.2 565.0,180.0C561.5,178.8 560.2,155.8 555.0,150.0C549.8,144.2 528.2,132.9 520.0,130.0C511.8,127.1 482.7,126.2 485.0,125.0Z" fill="#3af03a" fill-opacity="0.45"/>
<path d="M600.0,190.0C609.2,185.0 636.7,200.0 650.0,210.0C663.3,220.0 668.3,241.7 680.0,250.0C691.7,258.3 709.2,252.5 720.0,260.0C730.8,267.5 748.3,285.0 745.0,295.0C741.7,305.0 717.5,316.7 700.0,320.0C682.5,323.3 658.3,319.2 640.0,315.0C621.7,310.8 597.5,307.5 590.0,295.0C582.5,282.5 593.3,257.5 595.0,240.0C596.7,222.5 590.8,195.0 600.0,190.0Z" fill="#3af03a" fill-opacity="0.18"/>
<path d="M645.0,490.0C643.7,487.1 676.7,486.7 690.0,488.0C703.3,489.3 743.7,497.1 745.0,500.0C746.3,502.9 713.3,511.3 700.0,510.0C686.7,508.7 646.3,492.9 645.0,490.0Z" fill="#3af03a" fill-opacity="0.2"/>
</g>
<g filter="url(#bgs)" style="mix-blend-mode:screen">
<path d="M200.0,160.0C204.1,158.2 219.5,181.5 230.0,185.0C240.5,188.5 280.1,191.8 290.0,190.0C299.9,188.2 310.3,167.7 315.0,170.0C319.7,172.3 324.8,201.8 330.0,210.0C335.2,218.2 358.8,234.2 360.0,240.0C361.2,245.8 343.5,253.0 340.0,260.0C336.5,267.0 327.7,290.7 330.0,300.0C332.3,309.3 363.5,340.0 360.0,340.0C356.5,340.0 314.0,305.2 300.0,300.0C286.0,294.8 252.2,293.8 240.0,295.0C227.8,296.2 205.5,305.9 195.0,310.0C184.5,314.1 161.1,324.8 150.0,330.0C138.9,335.2 110.5,351.5 100.0,355.0C89.5,358.5 57.7,363.5 60.0,360.0C62.3,356.5 107.8,333.2 120.0,325.0C132.2,316.8 156.8,299.9 165.0,290.0C173.2,280.1 186.5,250.5 190.0,240.0C193.5,229.5 193.8,209.3 195.0,200.0C196.2,190.7 195.9,161.8 200.0,160.0Z" fill="none" stroke="#3af03a" stroke-opacity="0.95" stroke-width="6.0" stroke-linejoin="round" stroke-linecap="round"/>
<path d="M10.0,250.0C12.5,256.7 18.3,276.7 25.0,290.0C31.7,303.3 45.0,318.3 50.0,330.0C55.0,341.7 54.2,355.0 55.0,360.0" fill="none" stroke="#3af03a" stroke-opacity="0.8" stroke-width="6.0" stroke-linejoin="round" stroke-linecap="round"/>
<path d="M365.0,345.0C369.1,342.7 406.6,354.4 420.0,355.0C433.4,355.6 468.3,352.3 480.0,350.0C491.7,347.7 510.1,337.9 520.0,335.0C529.9,332.1 562.1,320.9 565.0,325.0C567.9,329.1 551.4,361.2 545.0,370.0C538.6,378.8 517.0,393.0 510.0,400.0C503.0,407.0 488.7,421.8 485.0,430.0C481.3,438.2 480.3,470.0 478.0,470.0C475.7,470.0 471.8,438.8 465.0,430.0C458.2,421.2 429.3,401.4 420.0,395.0C410.7,388.6 391.4,380.8 385.0,375.0C378.6,369.2 360.9,347.3 365.0,345.0Z" fill="none" stroke="#3af03a" stroke-opacity="0.95" stroke-width="6.0" stroke-linejoin="round" stroke-linecap="round"/>
<path d="M485.0,125.0C487.3,123.8 530.1,123.5 540.0,120.0C549.9,116.5 565.3,100.2 570.0,95.0C574.7,89.8 576.5,74.4 580.0,75.0C583.5,75.6 596.5,91.2 600.0,100.0C603.5,108.8 611.8,143.0 610.0,150.0C608.2,157.0 590.2,156.5 585.0,160.0C579.8,163.5 568.5,181.2 565.0,180.0C561.5,178.8 560.2,155.8 555.0,150.0C549.8,144.2 528.2,132.9 520.0,130.0C511.8,127.1 482.7,126.2 485.0,125.0Z" fill="none" stroke="#3af03a" stroke-opacity="0.8" stroke-width="6.0" stroke-linejoin="round" stroke-linecap="round"/>
<path d="M600.0,190.0C609.2,185.0 636.7,200.0 650.0,210.0C663.3,220.0 668.3,241.7 680.0,250.0C691.7,258.3 709.2,252.5 720.0,260.0C730.8,267.5 748.3,285.0 745.0,295.0C741.7,305.0 717.5,316.7 700.0,320.0C682.5,323.3 658.3,319.2 640.0,315.0C621.7,310.8 597.5,307.5 590.0,295.0C582.5,282.5 593.3,257.5 595.0,240.0C596.7,222.5 590.8,195.0 600.0,190.0Z" fill="none" stroke="#3af03a" stroke-opacity="0.75" stroke-width="6.0" stroke-linejoin="round" stroke-linecap="round"/>
<path d="M645.0,490.0C643.7,487.1 676.7,486.7 690.0,488.0C703.3,489.3 743.7,497.1 745.0,500.0C746.3,502.9 713.3,511.3 700.0,510.0C686.7,508.7 646.3,492.9 645.0,490.0Z" fill="none" stroke="#3af03a" stroke-opacity="0.4" stroke-width="4.8" stroke-linejoin="round" stroke-linecap="round"/>
</g>
<g filter="url(#bn)">
<ellipse cx="225" cy="265" rx="38" ry="30" fill="url(#ng)" opacity="1" transform="rotate(-20 225 265)"/>
<ellipse cx="20" cy="360" rx="25" ry="22" fill="url(#ng)" opacity="1"/>
<ellipse cx="80" cy="375" rx="25" ry="10" fill="url(#ng)" opacity="1"/>
<ellipse cx="455" cy="385" rx="45" ry="26" fill="url(#ng)" opacity="1" transform="rotate(10 455 385)"/>
<ellipse cx="622" cy="272" rx="38" ry="26" fill="url(#ng)" opacity="1" transform="rotate(-20 622 272)"/>
<ellipse cx="705" cy="298" rx="34" ry="18" fill="url(#ng)" opacity="1" transform="rotate(-10 705 298)"/>
<ellipse cx="722" cy="498" rx="20" ry="10" fill="url(#ng)" opacity="1"/>
</g>
</g>
<rect x="7" y="380" width="376" height="377" fill="#00000c"/>
<g clip-path="url(#ci)">
<g filter="url(#bgf)" style="mix-blend-mode:screen">
<path d="M80.0,400.0C80.0,394.7 100.7,403.3 110.0,410.0C119.3,416.7 136.7,442.0 150.0,450.0C163.3,458.0 195.3,470.7 210.0,470.0C224.7,469.3 249.3,450.3 260.0,445.0C270.7,439.7 284.7,426.7 290.0,430.0C295.3,433.3 293.3,459.3 300.0,470.0C306.7,480.7 330.0,500.0 340.0,510.0C350.0,520.0 373.7,538.3 375.0,545.0C376.3,551.7 357.3,551.3 350.0,560.0C342.7,568.7 321.3,596.7 320.0,610.0C318.7,623.3 332.7,645.3 340.0,660.0C347.3,674.7 375.0,717.3 375.0,720.0C375.0,722.7 352.7,689.3 340.0,680.0C327.3,670.7 298.7,654.7 280.0,650.0C261.3,645.3 220.0,643.0 200.0,645.0C180.0,647.0 147.3,657.7 130.0,665.0C112.7,672.3 84.7,691.3 70.0,700.0C55.3,708.7 27.3,730.0 20.0,730.0C12.7,730.0 11.0,712.0 15.0,700.0C19.0,688.0 41.3,658.7 50.0,640.0C58.7,621.3 73.3,578.7 80.0,560.0C86.7,541.3 96.0,514.7 100.0,500.0C104.0,485.3 112.7,463.3 110.0,450.0C107.3,436.7 80.0,405.3 80.0,400.0Z" fill="#3af03a" fill-opacity="0.15"/>
<path d="M190.0,525.0C203.3,505.0 225.0,510.7 245.0,520.0C265.0,529.3 265.0,537.3 265.0,560.0C265.0,582.7 263.7,595.7 245.0,605.0C226.3,614.3 209.7,616.3 195.0,595.0C180.3,573.7 176.7,545.0 190.0,525.0Z" fill="#3af03a" fill-opacity="0.65"/>
</g>
<g filter="url(#bgs)" style="mix-blend-mode:screen">
<path d="M80.0,400.0C80.0,394.7 100.7,403.3 110.0,410.0C119.3,416.7 136.7,442.0 150.0,450.0C163.3,458.0 195.3,470.7 210.0,470.0C224.7,469.3 249.3,450.3 260.0,445.0C270.7,439.7 284.7,426.7 290.0,430.0C295.3,433.3 293.3,459.3 300.0,470.0C306.7,480.7 330.0,500.0 340.0,510.0C350.0,520.0 373.7,538.3 375.0,545.0C376.3,551.7 357.3,551.3 350.0,560.0C342.7,568.7 321.3,596.7 320.0,610.0C318.7,623.3 332.7,645.3 340.0,660.0C347.3,674.7 375.0,717.3 375.0,720.0C375.0,722.7 352.7,689.3 340.0,680.0C327.3,670.7 298.7,654.7 280.0,650.0C261.3,645.3 220.0,643.0 200.0,645.0C180.0,647.0 147.3,657.7 130.0,665.0C112.7,672.3 84.7,691.3 70.0,700.0C55.3,708.7 27.3,730.0 20.0,730.0C12.7,730.0 11.0,712.0 15.0,700.0C19.0,688.0 41.3,658.7 50.0,640.0C58.7,621.3 73.3,578.7 80.0,560.0C86.7,541.3 96.0,514.7 100.0,500.0C104.0,485.3 112.7,463.3 110.0,450.0C107.3,436.7 80.0,405.3 80.0,400.0Z" fill="none" stroke="#3af03a" stroke-opacity="0.95" stroke-width="7.2" stroke-linejoin="round" stroke-linecap="round"/>
</g>
<g filter="url(#bn)">
<ellipse cx="125" cy="595" rx="65" ry="52" fill="url(#ng)" opacity="1" transform="rotate(-15 125 595)"/>
</g>
</g>
<path d="M7,380H383V757" fill="none" stroke="#9a9a9a" stroke-width="4"/>
<rect x="568" y="711" width="137" height="8" fill="#fff"/>
<text x="636" y="687" font-size="53" text-anchor="middle" fill="#fff" textLength="154" lengthAdjust="spacingAndGlyphs">20 µm</text>
</svg>
<text x="2.5" y="19.6" font-size="22.3" font-weight="bold" fill="#000" textLength="17.3" lengthAdjust="spacingAndGlyphs">A</text>
<text x="206.5" y="16.0" font-size="15.4" text-anchor="middle" fill="#1a1a1a">0</text>
<text x="383.0" y="16.0" font-size="15.4" text-anchor="middle" fill="#1a1a1a" textLength="25.8" lengthAdjust="spacingAndGlyphs">100</text>
<text x="558.0" y="16.0" font-size="15.4" text-anchor="middle" fill="#1a1a1a" textLength="25.8" lengthAdjust="spacingAndGlyphs">300</text>
<text x="615.0" y="16.0" font-size="15.4" fill="#1a1a1a" textLength="72.0" lengthAdjust="spacingAndGlyphs">[S1P] (nM)</text>
<text x="52.3" y="110.3" font-size="15" fill="#1a1a1a">Ncdn<tspan font-size="11.4" dy="-4.7">+/+</tspan></text>
<text x="52.3" y="286.2" font-size="15" fill="#1a1a1a">Ncdn<tspan font-size="11.4" dy="-4.7">−/−</tspan></text>
<text x="124.0" y="388.0" font-size="15.3" font-weight="bold" fill="#5ee83a" textLength="76.7" lengthAdjust="spacingAndGlyphs">S1PR1-GFP</text>
<text x="212.4" y="388.0" font-size="15.3" font-weight="bold" fill="#1565d0" textLength="33.5" lengthAdjust="spacingAndGlyphs">DAPI</text>
</g>
<g id="panelB">
<text x="3.0" y="433.4" font-size="21.6" font-weight="bold" fill="#000" textLength="14.8" lengthAdjust="spacingAndGlyphs">B</text>
<circle cx="122.1" cy="529.8" r="72.7" fill="#62f032"/>
<circle cx="122.2" cy="529.8" r="66" fill="#a1b09d"/>
<circle cx="122.2" cy="530" r="34.4" fill="#0762cc"/>
<defs><marker id="ah" viewBox="0 0 10 10" refX="9" refY="5" markerWidth="10" markerHeight="10" orient="auto" markerUnits="userSpaceOnUse"><path d="M0,0.5L10,5L0,9.5Z" fill="#111"/></marker></defs>
<line x1="156" y1="446.3" x2="147.5" y2="462" stroke="#111" stroke-width="1" marker-end="url(#ah)"/>
<line x1="200" y1="493.3" x2="170" y2="513.3" stroke="#111" stroke-width="1" marker-end="url(#ah)"/>
<line x1="204" y1="553" x2="152" y2="546" stroke="#111" stroke-width="1" marker-end="url(#ah)"/>
<text x="168.6" y="443.0" font-size="12.3" fill="#1a1a1a" textLength="103.0" lengthAdjust="spacingAndGlyphs">Plasma membrane</text>
<text x="168.6" y="460.0" font-size="12.3" fill="#1a1a1a" textLength="49.0" lengthAdjust="spacingAndGlyphs">(9 pixels)</text>
<text x="212.5" y="498.0" font-size="12.3" fill="#1a1a1a" textLength="58.5" lengthAdjust="spacingAndGlyphs">Cytoplasm</text>
<text x="216.9" y="549.0" font-size="12.3" fill="#1a1a1a" textLength="43.5" lengthAdjust="spacingAndGlyphs">Nucleus</text>
<text x="216.9" y="565.5" font-size="12.3" fill="#1a1a1a" textLength="34.5" lengthAdjust="spacingAndGlyphs">(DAPI)</text>
<line x1="407.8" y1="422.4" x2="407.8" y2="608.8" stroke="#050505" stroke-width="2" stroke-linecap="butt"/>
<line x1="399.5" y1="423.4" x2="407.8" y2="423.4" stroke="#050505" stroke-width="2" stroke-linecap="butt"/>
<text x="386.6" y="428.7" font-size="12.3" text-anchor="end" fill="#1a1a1a" textLength="24.4" lengthAdjust="spacingAndGlyphs">1.30</text>
<line x1="399.5" y1="469.5" x2="407.8" y2="469.5" stroke="#050505" stroke-width="2" stroke-linecap="butt"/>
<text x="386.6" y="474.8" font-size="12.3" text-anchor="end" fill="#1a1a1a" textLength="24.4" lengthAdjust="spacingAndGlyphs">1.15</text>
<line x1="399.5" y1="515.6" x2="407.8" y2="515.6" stroke="#050505" stroke-width="2" stroke-linecap="butt"/>
<text x="386.6" y="520.9" font-size="12.3" text-anchor="end" fill="#1a1a1a" textLength="24.4" lengthAdjust="spacingAndGlyphs">1.00</text>
<line x1="399.5" y1="561.7" x2="407.8" y2="561.7" stroke="#050505" stroke-width="2" stroke-linecap="butt"/>
<text x="386.6" y="567.0" font-size="12.3" text-anchor="end" fill="#1a1a1a" textLength="24.4" lengthAdjust="spacingAndGlyphs">0.85</text>
<line x1="399.5" y1="607.8" x2="407.8" y2="607.8" stroke="#050505" stroke-width="2" stroke-linecap="butt"/>
<text x="386.6" y="613.1" font-size="12.3" text-anchor="end" fill="#1a1a1a" textLength="24.4" lengthAdjust="spacingAndGlyphs">0.70</text>
<line x1="423.0" y1="607.8" x2="434.5" y2="607.8" stroke="#050505" stroke-width="2" stroke-linecap="butt"/>
<line x1="425.9" y1="607.8" x2="425.9" y2="616.3" stroke="#050505" stroke-width="2" stroke-linecap="butt"/>
<line x1="452.3" y1="607.8" x2="530.0" y2="607.8" stroke="#050505" stroke-width="2" stroke-linecap="butt"/>
<line x1="460.7" y1="607.8" x2="460.7" y2="616.3" stroke="#050505" stroke-width="1.8" stroke-linecap="butt"/>
<line x1="481.1" y1="607.8" x2="481.1" y2="612.8" stroke="#050505" stroke-width="1.8" stroke-linecap="butt"/>
<line x1="495.5" y1="607.8" x2="495.5" y2="612.8" stroke="#050505" stroke-width="1.8" stroke-linecap="butt"/>
<line x1="507.0" y1="607.8" x2="507.0" y2="616.3" stroke="#050505" stroke-width="1.8" stroke-linecap="butt"/>
<line x1="515.9" y1="607.8" x2="515.9" y2="612.8" stroke="#050505" stroke-width="1.8" stroke-linecap="butt"/>
<line x1="524.2" y1="607.8" x2="524.2" y2="612.8" stroke="#050505" stroke-width="1.8" stroke-linecap="butt"/>
<line x1="546.0" y1="607.8" x2="666.7" y2="607.8" stroke="#050505" stroke-width="2" stroke-linecap="butt"/>
<line x1="552.1" y1="607.8" x2="552.1" y2="612.8" stroke="#050505" stroke-width="1.8" stroke-linecap="butt"/>
<line x1="557.0" y1="607.8" x2="557.0" y2="612.8" stroke="#050505" stroke-width="1.8" stroke-linecap="butt"/>
<line x1="560.9" y1="607.8" x2="560.9" y2="612.8" stroke="#050505" stroke-width="1.8" stroke-linecap="butt"/>
<line x1="564.6" y1="607.8" x2="564.6" y2="612.8" stroke="#050505" stroke-width="1.8" stroke-linecap="butt"/>
<line x1="569.5" y1="607.8" x2="569.5" y2="616.3" stroke="#050505" stroke-width="1.8" stroke-linecap="butt"/>
<line x1="593.9" y1="607.8" x2="593.9" y2="612.8" stroke="#050505" stroke-width="1.8" stroke-linecap="butt"/>
<line x1="607.7" y1="607.8" x2="607.7" y2="612.8" stroke="#050505" stroke-width="1.8" stroke-linecap="butt"/>
<line x1="618.0" y1="607.8" x2="618.0" y2="612.8" stroke="#050505" stroke-width="1.8" stroke-linecap="butt"/>
<line x1="626.0" y1="607.8" x2="626.0" y2="612.8" stroke="#050505" stroke-width="1.8" stroke-linecap="butt"/>
<line x1="632.9" y1="607.8" x2="632.9" y2="612.8" stroke="#050505" stroke-width="1.8" stroke-linecap="butt"/>
<line x1="638.2" y1="607.8" x2="638.2" y2="612.8" stroke="#050505" stroke-width="1.8" stroke-linecap="butt"/>
<line x1="643.3" y1="607.8" x2="643.3" y2="612.8" stroke="#050505" stroke-width="1.8" stroke-linecap="butt"/>
<line x1="649.8" y1="607.8" x2="649.8" y2="616.3" stroke="#050505" stroke-width="1.8" stroke-linecap="butt"/>
<text x="424.4" y="630.5" font-size="12.5" text-anchor="middle" fill="#1a1a1a">0</text>
<text x="459.2" y="630.5" font-size="12.5" text-anchor="middle" fill="#1a1a1a">2</text>
<text x="505.5" y="630.5" font-size="12.5" text-anchor="middle" fill="#1a1a1a">5</text>
<text x="568.0" y="630.5" font-size="12.5" text-anchor="middle" fill="#1a1a1a">100</text>
<text x="648.3" y="630.5" font-size="12.5" text-anchor="middle" fill="#1a1a1a">300</text>
<text x="535.0" y="650.0" font-size="15.8" text-anchor="middle" fill="#1a1a1a" textLength="74.0" lengthAdjust="spacingAndGlyphs">[S1P] (nM)</text>
<text x="324.0" y="515.2" font-size="15.8" text-anchor="middle" fill="#1a1a1a" textLength="158.0" lengthAdjust="spacingAndGlyphs" transform="rotate(-90 324.0 515.2)">S1PR1-GFP localisation</text>
<text x="343.7" y="515.4" font-size="15.8" text-anchor="middle" fill="#1a1a1a" textLength="163.7" lengthAdjust="spacingAndGlyphs" transform="rotate(-90 343.7 515.4)">(membrane/cytoplasm)</text>
<polyline points="425.9,495.5 435.1,492.6" fill="none" stroke="#f76a10" stroke-width="1.3"/>
<polyline points="452.3,487.1 460.7,484.8 507.0,474.8 530.0,493.5" fill="none" stroke="#f76a10" stroke-width="1.3"/>
<polyline points="546.1,507.0 569.7,526.5 646.0,504.4" fill="none" stroke="#f76a10" stroke-width="1.3"/>
<polyline points="425.9,508.1 435.0,511.6" fill="none" stroke="#050505" stroke-width="1.3"/>
<polyline points="452.3,518.8 460.7,522.8 507.0,549.8 530.0,549.6" fill="none" stroke="#050505" stroke-width="1.3"/>
<polyline points="546.1,549.3 569.7,549.3 646.0,565.3" fill="none" stroke="#050505" stroke-width="1.3"/>
<path d="M425.9,486.9V503.5M422.3,486.9H429.5M422.3,503.5H429.5" stroke="#f76a10" stroke-width="1.3" fill="none"/><circle cx="425.9" cy="495.5" r="4" fill="#f76a10"/>
<path d="M425.9,501.2V514.5M422.3,501.2H429.5M422.3,514.5H429.5" stroke="#050505" stroke-width="1.3" fill="none"/><circle cx="425.9" cy="508.1" r="4" fill="#050505"/>
<path d="M460.7,474.2V495.5M457.1,474.2H464.3M457.1,495.5H464.3" stroke="#f76a10" stroke-width="1.3" fill="none"/><circle cx="460.7" cy="484.8" r="4" fill="#f76a10"/>
<circle cx="460.7" cy="522.8" r="4" fill="#050505"/>
<path d="M507.0,469.6V479.7M503.4,469.6H510.6M503.4,479.7H510.6" stroke="#f76a10" stroke-width="1.3" fill="none"/><circle cx="507.0" cy="474.8" r="4" fill="#f76a10"/>
<path d="M507.0,543.5V556.2M503.4,543.5H510.6M503.4,556.2H510.6" stroke="#050505" stroke-width="1.3" fill="none"/><circle cx="507.0" cy="549.8" r="4" fill="#050505"/>
<circle cx="569.7" cy="526.5" r="4" fill="#f76a10"/>
<path d="M569.7,541.5V556.7M566.1,541.5H573.3M566.1,556.7H573.3" stroke="#050505" stroke-width="1.3" fill="none"/><circle cx="569.7" cy="549.3" r="4" fill="#050505"/>
<path d="M646.0,495.2V513.3M642.4,495.2H649.6M642.4,513.3H649.6" stroke="#f76a10" stroke-width="1.3" fill="none"/><circle cx="646.0" cy="504.4" r="4" fill="#f76a10"/>
<path d="M646.0,553.3V577.0M642.4,553.3H649.6M642.4,577.0H649.6" stroke="#050505" stroke-width="1.3" fill="none"/><circle cx="646.0" cy="565.3" r="4" fill="#050505"/>
<text x="459.5" y="451.0" font-size="8.8" text-anchor="middle" fill="#1a1a1a" textLength="28.8" lengthAdjust="spacingAndGlyphs">0.0117</text>
<text x="505.0" y="438.0" font-size="8.8" text-anchor="middle" fill="#1a1a1a" textLength="34.0" lengthAdjust="spacingAndGlyphs">&lt;0.0001</text>
<text x="645.2" y="457.7" font-size="8.8" text-anchor="middle" fill="#1a1a1a" textLength="34.0" lengthAdjust="spacingAndGlyphs">&lt;0.0001</text>
<rect x="683.6" y="411.6" width="14.6" height="14.6" fill="#111"/>
<rect x="683.6" y="438.4" width="14.6" height="14.6" fill="#f76a10"/>
<text x="711.0" y="424.5" font-size="15" fill="#1a1a1a">Ncdn<tspan font-size="11.4" dy="-4.7">+/+</tspan></text>
<text x="711.0" y="451.5" font-size="15" fill="#1a1a1a">Ncdn<tspan font-size="11.4" dy="-4.7">−/−</tspan></text>
</g>
<g id="panelC">
<text x="2.5" y="696.0" font-size="22" font-weight="bold" fill="#000" textLength="15.3" lengthAdjust="spacingAndGlyphs">C</text>
<clipPath id="cc"><rect x="57.6" y="683.4" width="285.4" height="200.39999999999998"/></clipPath>
<g clip-path="url(#cc)">
<line x1="57.6" y1="764.7" x2="343" y2="764.7" stroke="#f5871f" stroke-width="1.0" stroke-opacity="0.55"/>
<path d="M162.4,764.7 L162.4,764.7 L163.3,764.4 L164.7,764.0 L166.3,763.5 L168.0,762.9 L169.4,762.4 L170.6,761.7 L171.8,761.1 L172.9,760.4 L174.1,759.1 L175.3,757.8 L176.7,756.8 L178.1,754.5 L179.6,752.5 L181.1,751.1 L182.4,748.2 L183.4,746.2 L184.3,743.3 L185.1,740.8 L186.0,737.3 L187.1,734.3 L188.3,730.2 L189.8,724.9 L191.3,719.9 L192.7,714.9 L194.1,710.2 L195.4,707.4 L196.7,704.1 L197.9,701.2 L199.0,698.8 L200.0,698.0 L200.8,696.7 L201.5,696.8 L202.1,697.2 L202.8,697.3 L203.5,697.6 L204.4,696.7 L205.4,696.6 L206.5,695.8 L207.4,696.1 L208.2,696.4 L208.8,696.5 L209.2,697.8 L209.6,699.5 L210.0,702.1 L210.6,703.5 L211.4,705.7 L212.2,707.6 L213.2,710.2 L214.2,712.6 L215.3,715.1 L216.4,718.0 L217.6,720.7 L218.8,723.9 L220.0,726.6 L221.2,729.8 L222.3,733.0 L223.5,736.6 L224.6,739.8 L225.8,742.6 L227.1,746.2 L228.3,748.9 L229.6,751.2 L230.9,752.9 L232.4,755.0 L234.1,756.2 L236.1,758.2 L238.1,759.4 L240.4,760.4 L243.0,761.4 L245.9,762.4 L249.3,763.1 L253.1,763.5 L257.2,763.8 L261.1,764.0 L264.7,764.2 L268.1,764.4 L271.4,764.5 L274.4,764.6 L277.0,764.7 L278.8,764.7 L278.8,764.7Z" fill="#f5871f" fill-opacity="0.45"/>
<path d="M162.4,764.7 L163.3,764.4 L164.7,764.0 L166.3,763.5 L168.0,762.9 L169.4,762.4 L170.6,761.7 L171.8,761.1 L172.9,760.4 L174.1,759.1 L175.3,757.8 L176.7,756.8 L178.1,754.5 L179.6,752.5 L181.1,751.1 L182.4,748.2 L183.4,746.2 L184.3,743.3 L185.1,740.8 L186.0,737.3 L187.1,734.3 L188.3,730.2 L189.8,724.9 L191.3,719.9 L192.7,714.9 L194.1,710.2 L195.4,707.4 L196.7,704.1 L197.9,701.2 L199.0,698.8 L200.0,698.0 L200.8,696.7 L201.5,696.8 L202.1,697.2 L202.8,697.3 L203.5,697.6 L204.4,696.7 L205.4,696.6 L206.5,695.8 L207.4,696.1 L208.2,696.4 L208.8,696.5 L209.2,697.8 L209.6,699.5 L210.0,702.1 L210.6,703.5 L211.4,705.7 L212.2,707.6 L213.2,710.2 L214.2,712.6 L215.3,715.1 L216.4,718.0 L217.6,720.7 L218.8,723.9 L220.0,726.6 L221.2,729.8 L222.3,733.0 L223.5,736.6 L224.6,739.8 L225.8,742.6 L227.1,746.2 L228.3,748.9 L229.6,751.2 L230.9,752.9 L232.4,755.0 L234.1,756.2 L236.1,758.2 L238.1,759.4 L240.4,760.4 L243.0,761.4 L245.9,762.4 L249.3,763.1 L253.1,763.5 L257.2,763.8 L261.1,764.0 L264.7,764.2 L268.1,764.4 L271.4,764.5 L274.4,764.6 L277.0,764.7 L278.8,764.7" fill="none" stroke="#f5871f" stroke-width="1.6" stroke-linejoin="round"/>
<line x1="57.6" y1="803.5" x2="343" y2="803.5" stroke="#111111" stroke-width="1.0" stroke-opacity="0.55"/>
<path d="M129.4,803.5 L129.4,803.5 L130.6,802.8 L132.2,801.9 L134.1,800.8 L136.0,799.4 L137.6,797.9 L139.0,795.9 L140.1,794.0 L141.2,790.7 L142.3,788.6 L143.5,786.3 L144.9,783.0 L146.3,780.0 L147.8,775.8 L149.2,772.8 L150.6,769.2 L151.9,766.1 L153.1,762.6 L154.2,758.7 L155.4,755.6 L156.5,752.7 L157.6,750.6 L158.7,747.8 L159.8,744.8 L160.8,743.4 L161.6,741.3 L162.4,740.9 L163.1,740.1 L163.6,740.0 L164.2,741.1 L164.7,740.7 L165.2,741.1 L165.6,742.5 L166.0,743.2 L166.4,743.2 L167.1,744.0 L167.9,743.0 L168.8,742.1 L169.9,740.4 L170.9,740.2 L171.8,739.5 L172.5,740.0 L173.3,740.5 L173.9,740.9 L174.6,741.9 L175.3,742.7 L176.0,743.6 L176.6,744.4 L177.3,745.6 L178.0,747.0 L178.8,747.7 L179.7,750.0 L180.6,751.4 L181.5,753.2 L182.5,755.8 L183.5,757.6 L184.6,759.9 L185.9,762.9 L187.1,766.0 L188.3,768.0 L189.4,771.1 L190.4,771.7 L191.4,773.5 L192.3,774.5 L193.2,774.6 L194.1,776.8 L195.0,778.2 L195.9,780.6 L196.8,782.4 L197.7,784.6 L198.8,786.7 L200.0,789.2 L201.4,789.9 L202.8,791.8 L204.3,793.3 L205.9,794.5 L207.6,795.2 L209.5,796.4 L211.4,797.6 L213.4,798.8 L215.3,799.4 L217.1,800.4 L218.7,801.0 L220.4,801.5 L222.4,801.8 L224.7,802.4 L227.8,802.7 L231.6,803.1 L235.4,803.4 L238.8,803.5 L241.2,803.5 L241.2,803.5Z" fill="#111111" fill-opacity="0.45"/>
<path d="M129.4,803.5 L130.6,802.8 L132.2,801.9 L134.1,800.8 L136.0,799.4 L137.6,797.9 L139.0,795.9 L140.1,794.0 L141.2,790.7 L142.3,788.6 L143.5,786.3 L144.9,783.0 L146.3,780.0 L147.8,775.8 L149.2,772.8 L150.6,769.2 L151.9,766.1 L153.1,762.6 L154.2,758.7 L155.4,755.6 L156.5,752.7 L157.6,750.6 L158.7,747.8 L159.8,744.8 L160.8,743.4 L161.6,741.3 L162.4,740.9 L163.1,740.1 L163.6,740.0 L164.2,741.1 L164.7,740.7 L165.2,741.1 L165.6,742.5 L166.0,743.2 L166.4,743.2 L167.1,744.0 L167.9,743.0 L168.8,742.1 L169.9,740.4 L170.9,740.2 L171.8,739.5 L172.5,740.0 L173.3,740.5 L173.9,740.9 L174.6,741.9 L175.3,742.7 L176.0,743.6 L176.6,744.4 L177.3,745.6 L178.0,747.0 L178.8,747.7 L179.7,750.0 L180.6,751.4 L181.5,753.2 L182.5,755.8 L183.5,757.6 L184.6,759.9 L185.9,762.9 L187.1,766.0 L188.3,768.0 L189.4,771.1 L190.4,771.7 L191.4,773.5 L192.3,774.5 L193.2,774.6 L194.1,776.8 L195.0,778.2 L195.9,780.6 L196.8,782.4 L197.7,784.6 L198.8,786.7 L200.0,789.2 L201.4,789.9 L202.8,791.8 L204.3,793.3 L205.9,794.5 L207.6,795.2 L209.5,796.4 L211.4,797.6 L213.4,798.8 L215.3,799.4 L217.1,800.4 L218.7,801.0 L220.4,801.5 L222.4,801.8 L224.7,802.4 L227.8,802.7 L231.6,803.1 L235.4,803.4 L238.8,803.5 L241.2,803.5" fill="none" stroke="#111111" stroke-width="1.6" stroke-linejoin="round"/>
<line x1="57.6" y1="843.5" x2="343" y2="843.5" stroke="#1e6b1e" stroke-width="2.0" stroke-opacity="0.55"/>
<path d="M116.5,843.5 L116.5,843.5 L117.4,843.3 L118.8,843.0 L120.4,842.7 L122.0,842.1 L123.5,841.1 L124.9,840.0 L126.4,839.0 L127.8,837.2 L129.2,835.5 L130.6,832.8 L132.1,829.0 L133.6,825.1 L135.1,819.9 L136.5,815.7 L137.6,811.3 L138.6,808.0 L139.3,805.4 L139.9,803.1 L140.5,799.8 L141.2,797.4 L141.8,795.2 L142.5,793.1 L143.1,790.4 L143.8,787.9 L144.7,786.4 L145.8,783.2 L147.0,781.8 L148.3,779.1 L149.6,777.3 L150.6,776.1 L151.4,775.9 L152.0,776.6 L152.6,776.5 L153.1,777.4 L153.6,777.8 L154.2,777.4 L154.8,777.2 L155.4,776.4 L155.9,776.2 L156.5,776.6 L156.9,778.0 L157.3,779.0 L157.7,780.3 L158.2,782.2 L158.8,783.5 L159.6,784.7 L160.4,786.5 L161.4,787.8 L162.4,788.8 L163.5,790.7 L164.8,792.3 L166.2,794.4 L167.7,796.2 L169.1,797.7 L170.6,800.5 L172.0,801.8 L173.5,804.3 L174.9,807.0 L176.3,808.9 L177.6,811.8 L178.9,814.1 L180.0,817.7 L181.1,820.9 L182.3,823.5 L183.5,826.3 L184.8,827.6 L186.2,829.5 L187.6,830.6 L189.1,831.8 L190.6,832.9 L192.1,834.6 L193.6,835.9 L195.2,836.8 L196.9,838.0 L198.8,838.6 L200.9,839.6 L203.0,840.1 L205.4,840.6 L207.9,840.9 L210.6,841.1 L213.5,841.5 L216.7,842.0 L220.1,842.3 L223.5,842.6 L227.1,842.8 L231.0,843.0 L235.3,843.2 L239.6,843.3 L243.3,843.4 L245.9,843.5 L245.9,843.5Z" fill="#1e6b1e" fill-opacity="0.5"/>
<path d="M116.5,843.5 L117.4,843.3 L118.8,843.0 L120.4,842.7 L122.0,842.1 L123.5,841.1 L124.9,840.0 L126.4,839.0 L127.8,837.2 L129.2,835.5 L130.6,832.8 L132.1,829.0 L133.6,825.1 L135.1,819.9 L136.5,815.7 L137.6,811.3 L138.6,808.0 L139.3,805.4 L139.9,803.1 L140.5,799.8 L141.2,797.4 L141.8,795.2 L142.5,793.1 L143.1,790.4 L143.8,787.9 L144.7,786.4 L145.8,783.2 L147.0,781.8 L148.3,779.1 L149.6,777.3 L150.6,776.1 L151.4,775.9 L152.0,776.6 L152.6,776.5 L153.1,777.4 L153.6,777.8 L154.2,777.4 L154.8,777.2 L155.4,776.4 L155.9,776.2 L156.5,776.6 L156.9,778.0 L157.3,779.0 L157.7,780.3 L158.2,782.2 L158.8,783.5 L159.6,784.7 L160.4,786.5 L161.4,787.8 L162.4,788.8 L163.5,790.7 L164.8,792.3 L166.2,794.4 L167.7,796.2 L169.1,797.7 L170.6,800.5 L172.0,801.8 L173.5,804.3 L174.9,807.0 L176.3,808.9 L177.6,811.8 L178.9,814.1 L180.0,817.7 L181.1,820.9 L182.3,823.5 L183.5,826.3 L184.8,827.6 L186.2,829.5 L187.6,830.6 L189.1,831.8 L190.6,832.9 L192.1,834.6 L193.6,835.9 L195.2,836.8 L196.9,838.0 L198.8,838.6 L200.9,839.6 L203.0,840.1 L205.4,840.6 L207.9,840.9 L210.6,841.1 L213.5,841.5 L216.7,842.0 L220.1,842.3 L223.5,842.6 L227.1,842.8 L231.0,843.0 L235.3,843.2 L239.6,843.3 L243.3,843.4 L245.9,843.5" fill="none" stroke="#1e6b1e" stroke-width="1.6" stroke-linejoin="round"/>
<line x1="57.6" y1="882.8" x2="343" y2="882.8" stroke="#19e5f5" stroke-width="1.0" stroke-opacity="0.55"/>
<path d="M125.9,882.8 L125.9,882.8 L126.5,881.6 L127.4,880.0 L128.5,878.0 L129.6,875.4 L130.6,873.3 L131.5,869.3 L132.5,866.2 L133.4,862.6 L134.4,857.8 L135.3,854.2 L136.3,850.0 L137.2,845.0 L138.2,840.9 L139.1,837.0 L140.0,832.9 L140.8,829.8 L141.5,826.0 L142.2,823.3 L142.8,820.6 L143.5,818.8 L144.2,817.5 L144.9,815.8 L145.6,814.9 L146.3,813.6 L147.1,813.2 L147.9,811.9 L148.8,811.5 L149.7,811.5 L150.7,811.4 L151.8,811.2 L152.9,811.2 L154.1,811.8 L155.3,812.5 L156.5,813.6 L157.6,815.6 L158.6,817.0 L159.6,820.0 L160.4,822.8 L161.4,824.8 L162.4,828.1 L163.4,831.3 L164.6,834.2 L165.7,838.0 L167.0,841.9 L168.2,844.3 L169.5,847.8 L170.9,850.3 L172.2,853.5 L173.7,856.6 L175.3,858.5 L177.0,860.9 L178.9,863.5 L180.8,866.3 L182.8,868.0 L184.7,870.2 L186.6,872.5 L188.6,874.7 L190.5,876.0 L192.4,877.5 L194.1,878.9 L195.8,879.8 L197.4,880.8 L199.0,881.6 L200.3,882.1 L201.2,882.6 L201.2,882.8Z" fill="#19e5f5" fill-opacity="0.55"/>
<path d="M125.9,882.8 L126.5,881.6 L127.4,880.0 L128.5,878.0 L129.6,875.4 L130.6,873.3 L131.5,869.3 L132.5,866.2 L133.4,862.6 L134.4,857.8 L135.3,854.2 L136.3,850.0 L137.2,845.0 L138.2,840.9 L139.1,837.0 L140.0,832.9 L140.8,829.8 L141.5,826.0 L142.2,823.3 L142.8,820.6 L143.5,818.8 L144.2,817.5 L144.9,815.8 L145.6,814.9 L146.3,813.6 L147.1,813.2 L147.9,811.9 L148.8,811.5 L149.7,811.5 L150.7,811.4 L151.8,811.2 L152.9,811.2 L154.1,811.8 L155.3,812.5 L156.5,813.6 L157.6,815.6 L158.6,817.0 L159.6,820.0 L160.4,822.8 L161.4,824.8 L162.4,828.1 L163.4,831.3 L164.6,834.2 L165.7,838.0 L167.0,841.9 L168.2,844.3 L169.5,847.8 L170.9,850.3 L172.2,853.5 L173.7,856.6 L175.3,858.5 L177.0,860.9 L178.9,863.5 L180.8,866.3 L182.8,868.0 L184.7,870.2 L186.6,872.5 L188.6,874.7 L190.5,876.0 L192.4,877.5 L194.1,878.9 L195.8,879.8 L197.4,880.8 L199.0,881.6 L200.3,882.1 L201.2,882.6" fill="none" stroke="#19e5f5" stroke-width="1.6" stroke-linejoin="round"/>
</g>
<path d="M57.6,882.8V683.4H343.6V882.8" fill="none" stroke="#777" stroke-width="1"/>
<line x1="57.6" y1="882.8" x2="343" y2="882.8" stroke="#55e0ee" stroke-width="1.2"/>
<path d="M77.7,882.8v3.5M123.7,882.8v3.5M171.8,882.8v3.5M248,882.8v3.5M315.3,882.8v3.5M62,882.8v2M66,882.8v2M70,882.8v2M74,882.8v2M82,882.8v2M86,882.8v2M90,882.8v2M94,882.8v2M98,882.8v2M102,882.8v2M128,882.8v2M133,882.8v2M138,882.8v2M143,882.8v2M148,882.8v2M153,882.8v2M158,882.8v2M162,882.8v2M166,882.8v2M185,882.8v2M194,882.8v2M202,882.8v2M210,882.8v2M218,882.8v2M226,882.8v2M234,882.8v2M241,882.8v2M262,882.8v2M272,882.8v2M281,882.8v2M290,882.8v2M298,882.8v2M306,882.8v2M329,882.8v2M337,882.8v2" stroke="#333" stroke-width="0.6" fill="none"/>
<rect x="117" y="882.3" width="9" height="2.2" fill="#111"/>
<text x="77.7" y="890.8" font-size="4.6" text-anchor="middle" fill="#333">-10³</text>
<text x="123.7" y="890.8" font-size="4.6" text-anchor="middle" fill="#333">0</text>
<text x="171.8" y="890.8" font-size="4.6" text-anchor="middle" fill="#333">10³</text>
<text x="248.0" y="890.8" font-size="4.6" text-anchor="middle" fill="#333">10⁴</text>
<text x="315.3" y="890.8" font-size="4.6" text-anchor="middle" fill="#333">10⁵</text>
<text x="331.4" y="700.3" font-size="12.4" fill="#f56a1e" text-anchor="end">Ncdn<tspan font-size="9.4" dy="-3.8">−/−</tspan></text>
<text x="331.6" y="781.7" font-size="12.4" fill="#222" text-anchor="end">Ncdn<tspan font-size="9.4" dy="-3.8">+/+</tspan></text>
<text x="330.4" y="821.0" font-size="12.4" text-anchor="end" fill="#5a9a5a" textLength="56.5" lengthAdjust="spacingAndGlyphs">Unstained</text>
<text x="330.8" y="861.0" font-size="12.4" text-anchor="end" fill="#30c8f5" textLength="65.8" lengthAdjust="spacingAndGlyphs">2nd Ab only</text>
<text x="44.9" y="787.0" font-size="13" text-anchor="middle" fill="#1a1a1a" textLength="126.5" lengthAdjust="spacingAndGlyphs" transform="rotate(-90 44.9 787.0)">Normalised cell counts</text>
<text x="196.3" y="905.4" font-size="13" text-anchor="middle" fill="#1a1a1a" textLength="160.0" lengthAdjust="spacingAndGlyphs">anti-S1PR1/AF568 secondary</text>
<line x1="450.6" y1="692.3" x2="450.6" y2="879.1" stroke="#050505" stroke-width="2" stroke-linecap="butt"/>
<line x1="442.4" y1="693.3" x2="450.6" y2="693.3" stroke="#050505" stroke-width="2" stroke-linecap="butt"/>
<text x="432.5" y="698.8" font-size="12.2" text-anchor="end" fill="#1a1a1a" textLength="16.5" lengthAdjust="spacingAndGlyphs">1.6</text>
<line x1="442.4" y1="739.5" x2="450.6" y2="739.5" stroke="#050505" stroke-width="2" stroke-linecap="butt"/>
<text x="432.5" y="744.4" font-size="12.2" text-anchor="end" fill="#1a1a1a" textLength="16.5" lengthAdjust="spacingAndGlyphs">1.2</text>
<line x1="442.4" y1="785.7" x2="450.6" y2="785.7" stroke="#050505" stroke-width="2" stroke-linecap="butt"/>
<text x="432.5" y="790.0" font-size="12.2" text-anchor="end" fill="#1a1a1a" textLength="16.5" lengthAdjust="spacingAndGlyphs">0.8</text>
<line x1="442.4" y1="831.9" x2="450.6" y2="831.9" stroke="#050505" stroke-width="2" stroke-linecap="butt"/>
<text x="432.5" y="835.6" font-size="12.2" text-anchor="end" fill="#1a1a1a" textLength="16.5" lengthAdjust="spacingAndGlyphs">0.4</text>
<line x1="442.4" y1="878.1" x2="450.6" y2="878.1" stroke="#050505" stroke-width="2" stroke-linecap="butt"/>
<text x="432.5" y="881.2" font-size="12.2" text-anchor="end" fill="#1a1a1a" textLength="16.5" lengthAdjust="spacingAndGlyphs">0.0</text>
<line x1="442.4" y1="878.1" x2="561.3" y2="878.1" stroke="#050505" stroke-width="2" stroke-linecap="butt"/>
<line x1="482.0" y1="878.1" x2="482.0" y2="886.1" stroke="#050505" stroke-width="2" stroke-linecap="butt"/>
<line x1="529.4" y1="878.1" x2="529.4" y2="886.1" stroke="#050505" stroke-width="2" stroke-linecap="butt"/>
<rect x="467.2" y="842.2" width="29.6" height="35.9" fill="#fff" stroke="#050505" stroke-width="1.8"/>
<rect x="515" y="755.1" width="29" height="123.0" fill="#fff" stroke="#050505" stroke-width="1.8"/>
<path d="M482.0,827.6V853.5M474.5,827.6H489.5M474.5,853.5H489.5" stroke="#050505" stroke-width="1.8" fill="none"/>
<path d="M529.4,736.4V771.0M521.9,736.4H536.9M521.9,771.0H536.9" stroke="#050505" stroke-width="1.8" fill="none"/>
<circle cx="482" cy="809.8" r="3.8" fill="#050505"/>
<circle cx="482" cy="830.2" r="3.8" fill="#050505"/>
<circle cx="489.4" cy="858.7" r="3.8" fill="#050505"/>
<circle cx="474.2" cy="865.3" r="3.8" fill="#050505"/>
<circle cx="529.4" cy="722.6" r="3.8" fill="#f76a10"/>
<circle cx="529.4" cy="737.6" r="3.8" fill="#f76a10"/>
<circle cx="529.4" cy="752.5" r="3.8" fill="#f76a10"/>
<circle cx="529.4" cy="802.3" r="3.8" fill="#f76a10"/>
<path d="M482,694.2H530.8M482,690V698.4M530.8,690V698.4" stroke="#333" stroke-width="1" fill="none"/>
<text x="506.0" y="687.8" font-size="8.6" text-anchor="middle" fill="#1a1a1a" textLength="27.5" lengthAdjust="spacingAndGlyphs">0.0024</text>
<text x="482.0" y="904.3" font-size="15.6" text-anchor="middle" fill="#1a1a1a" textLength="24.2" lengthAdjust="spacingAndGlyphs">+/+</text>
<text x="529.4" y="904.3" font-size="15.6" text-anchor="middle" fill="#1a1a1a" textLength="24.2" lengthAdjust="spacingAndGlyphs">−/−</text>
<text x="381.6" y="789.0" font-size="15.8" text-anchor="middle" fill="#1a1a1a" textLength="164.5" lengthAdjust="spacingAndGlyphs" transform="rotate(-90 381.6 789.0)">S1PIR cell surface level</text>
<text x="402.3" y="788.6" font-size="15.4" fill="#1a1a1a" text-anchor="middle" transform="rotate(-90 402.3 788.6)">(mfi x 10<tspan font-size="11.7" dy="-4.8">3</tspan><tspan dy="4.8" font-size="15.4">)</tspan></text>
<line x1="641.3" y1="692.3" x2="641.3" y2="879.1" stroke="#050505" stroke-width="2" stroke-linecap="butt"/>
<line x1="633.5" y1="693.3" x2="641.3" y2="693.3" stroke="#050505" stroke-width="2" stroke-linecap="butt"/>
<text x="624.8" y="698.8" font-size="12.2" text-anchor="end" fill="#1a1a1a" textLength="16.5" lengthAdjust="spacingAndGlyphs">3.2</text>
<line x1="633.5" y1="739.5" x2="641.3" y2="739.5" stroke="#050505" stroke-width="2" stroke-linecap="butt"/>
<text x="624.8" y="744.4" font-size="12.2" text-anchor="end" fill="#1a1a1a" textLength="16.5" lengthAdjust="spacingAndGlyphs">2.4</text>
<line x1="633.5" y1="785.7" x2="641.3" y2="785.7" stroke="#050505" stroke-width="2" stroke-linecap="butt"/>
<text x="624.8" y="790.0" font-size="12.2" text-anchor="end" fill="#1a1a1a" textLength="16.5" lengthAdjust="spacingAndGlyphs">1.6</text>
<line x1="633.5" y1="831.9" x2="641.3" y2="831.9" stroke="#050505" stroke-width="2" stroke-linecap="butt"/>
<text x="624.8" y="835.6" font-size="12.2" text-anchor="end" fill="#1a1a1a" textLength="16.5" lengthAdjust="spacingAndGlyphs">0.8</text>
<line x1="633.5" y1="878.1" x2="641.3" y2="878.1" stroke="#050505" stroke-width="2" stroke-linecap="butt"/>
<text x="624.8" y="881.2" font-size="12.2" text-anchor="end" fill="#1a1a1a" textLength="16.5" lengthAdjust="spacingAndGlyphs">0.0</text>
<line x1="633.5" y1="878.1" x2="753.0" y2="878.1" stroke="#050505" stroke-width="2" stroke-linecap="butt"/>
<line x1="672.8" y1="878.1" x2="672.8" y2="886.1" stroke="#050505" stroke-width="2" stroke-linecap="butt"/>
<line x1="720.2" y1="878.1" x2="720.2" y2="886.1" stroke="#050505" stroke-width="2" stroke-linecap="butt"/>
<rect x="658.6" y="745" width="29.6" height="133.1" fill="#fff" stroke="#050505" stroke-width="1.8"/>
<rect x="706.6" y="751.2" width="29" height="126.9" fill="#fff" stroke="#050505" stroke-width="1.8"/>
<path d="M672.8,735.0V753.0M665.2,735.0H680.4M665.2,753.0H680.4" stroke="#050505" stroke-width="1.8" fill="none"/>
<path d="M720.2,741.8V757.6M712.6,741.8H727.8M712.6,757.6H727.8" stroke="#050505" stroke-width="1.8" fill="none"/>
<circle cx="672.8" cy="727" r="3.8" fill="#050505"/>
<circle cx="665.8" cy="751.7" r="3.8" fill="#050505"/>
<circle cx="681" cy="751.7" r="3.8" fill="#050505"/>
<circle cx="720.2" cy="738.3" r="3.8" fill="#f76a10"/>
<circle cx="720.2" cy="745.8" r="3.8" fill="#f76a10"/>
<circle cx="720.2" cy="764.3" r="3.8" fill="#f76a10"/>
<text x="672.8" y="904.3" font-size="15.6" text-anchor="middle" fill="#1a1a1a" textLength="24.2" lengthAdjust="spacingAndGlyphs">+/+</text>
<text x="720.2" y="904.3" font-size="15.6" text-anchor="middle" fill="#1a1a1a" textLength="24.2" lengthAdjust="spacingAndGlyphs">−/−</text>
<text x="592.5" y="787.4" font-size="15.2" fill="#1a1a1a" text-anchor="middle" transform="rotate(-90 592.5 787.4)">Total S1PIR (mfi x 10<tspan font-size="11.6" dy="-4.7">3</tspan><tspan dy="4.7" font-size="15.2">)</tspan></text>
</g>
<g id="panelD">
<text x="3.2" y="952.0" font-size="21.6" font-weight="bold" fill="#000" textLength="16.0" lengthAdjust="spacingAndGlyphs">D</text>
<text x="51.8" y="974.4" font-size="9.2" fill="#3cc8f0" textLength="49.6" lengthAdjust="spacingAndGlyphs">2nd Ab only</text>
<text x="86.6" y="1006.0" font-size="12" text-anchor="end" fill="#1a1a1a">300</text>
<text x="86.6" y="1034.0" font-size="12" text-anchor="end" fill="#1a1a1a">100</text>
<text x="86.6" y="1061.5" font-size="12" text-anchor="end" fill="#1a1a1a">50</text>
<text x="86.6" y="1089.7" font-size="12" text-anchor="end" fill="#1a1a1a">5</text>
<text x="86.6" y="1117.7" font-size="12" text-anchor="end" fill="#1a1a1a">2</text>
<text x="86.6" y="1145.4" font-size="12" text-anchor="end" fill="#1a1a1a">0</text>
<text x="47.4" y="1174.5" font-size="12.6" fill="#1a1a1a" textLength="58.4" lengthAdjust="spacingAndGlyphs">[S1P] (nM)</text>
<text x="180.4" y="948.0" font-size="12.1" fill="#1a1a1a" text-anchor="middle">Ncdn<tspan font-size="9.2" dy="-3.8">+/+</tspan></text>
<text x="289.0" y="948.0" font-size="12.1" fill="#f57a20" text-anchor="middle">Ncdn<tspan font-size="9.2" dy="-3.8">−/−</tspan></text>
<text x="116.0" y="1052.7" font-size="9" text-anchor="middle" fill="#1a1a1a" textLength="91.5" lengthAdjust="spacingAndGlyphs" transform="rotate(-90 116.0 1052.7)">Normaised cell counts</text>
<text x="229.0" y="1175.0" font-size="9.2" text-anchor="middle" fill="#1a1a1a" textLength="121.0" lengthAdjust="spacingAndGlyphs">anti-S1PR1/AF568 secondary</text>
<clipPath id="cdL"><rect x="120.5" y="952" width="107.1" height="202"/></clipPath>
<g clip-path="url(#cdL)">
<line x1="120.5" y1="981.9" x2="227.6" y2="981.9" stroke="#9eeef6" stroke-width="0.8"/>
<path d="M127.6,981.9 L127.6,981.9 L128.0,981.8 L128.6,981.7 L129.4,981.5 L130.1,981.2 L130.9,980.9 L131.5,980.3 L132.1,979.7 L132.6,979.0 L133.0,978.1 L133.5,977.1 L134.0,975.9 L134.6,974.9 L135.2,973.4 L135.9,971.4 L136.6,970.1 L137.2,968.1 L137.9,967.3 L138.6,965.9 L139.3,964.1 L139.9,962.9 L140.6,962.2 L141.2,960.6 L141.9,959.7 L142.5,958.8 L143.2,958.2 L143.8,957.8 L144.5,957.6 L145.1,956.5 L145.8,956.9 L146.4,956.3 L147.1,956.7 L147.7,956.9 L148.3,956.7 L149.0,957.6 L149.7,957.6 L150.3,957.9 L151.0,958.6 L151.6,959.2 L152.3,959.4 L153.0,959.4 L153.6,960.4 L154.2,961.0 L154.8,961.1 L155.3,962.1 L155.8,963.1 L156.2,964.2 L156.8,964.4 L157.4,965.6 L158.1,966.6 L158.9,967.0 L159.7,967.7 L160.5,968.4 L161.3,968.7 L162.1,969.2 L162.9,970.1 L163.7,970.7 L164.5,971.1 L165.2,972.2 L166.0,972.4 L166.8,973.2 L167.6,974.1 L168.3,974.8 L169.1,975.6 L169.8,976.1 L170.6,976.6 L171.5,977.4 L172.4,978.0 L173.4,978.4 L174.5,978.8 L175.5,979.1 L176.6,979.5 L177.8,979.9 L179.0,980.1 L180.3,980.5 L181.6,980.7 L182.9,981.0 L184.3,981.2 L185.6,981.4 L187.0,981.5 L188.5,981.7 L190.0,981.7 L191.4,981.8 L192.6,981.9 L193.4,981.9 L193.4,981.9Z" fill="#2feaf8"/>
<line x1="120.5" y1="1010.1" x2="227.6" y2="1010.1" stroke="#999" stroke-width="0.8"/>
<path d="M130.7,1010.1 L130.7,1010.1 L131.2,1009.9 L131.9,1009.6 L132.8,1009.2 L133.7,1008.8 L134.6,1008.3 L135.4,1007.7 L136.2,1007.2 L137.0,1006.5 L137.8,1005.6 L138.6,1004.8 L139.4,1003.7 L140.1,1002.9 L140.8,1002.0 L141.5,1001.5 L142.2,1000.2 L142.8,999.9 L143.4,998.2 L144.1,997.4 L144.7,996.3 L145.4,996.0 L146.0,994.6 L146.6,993.7 L147.3,992.7 L148.0,992.1 L148.7,991.2 L149.5,990.3 L150.3,989.8 L151.1,989.1 L151.9,988.4 L152.7,988.5 L153.5,988.0 L154.3,987.6 L155.2,987.4 L156.0,986.7 L156.7,986.6 L157.4,986.5 L158.0,986.6 L158.5,987.0 L159.0,986.7 L159.5,987.4 L160.0,987.9 L160.5,988.1 L161.0,988.3 L161.5,989.4 L162.1,989.3 L162.6,990.4 L163.1,990.5 L163.7,990.9 L164.3,991.3 L164.9,991.4 L165.6,991.7 L166.3,992.4 L166.9,992.7 L167.6,992.8 L168.2,993.7 L168.8,994.2 L169.4,995.0 L170.0,996.2 L170.7,996.6 L171.5,998.0 L172.4,998.8 L173.4,999.8 L174.5,1000.3 L175.6,1001.5 L176.7,1002.6 L177.8,1003.7 L178.8,1004.8 L179.8,1005.4 L180.8,1006.0 L181.8,1006.4 L182.9,1007.1 L184.1,1007.6 L185.5,1008.0 L186.9,1008.4 L188.5,1008.6 L190.1,1008.9 L191.7,1009.2 L193.4,1009.4 L195.3,1009.6 L197.3,1009.7 L199.5,1009.9 L201.5,1010.0 L203.2,1010.0 L204.4,1010.1 L204.4,1010.1Z" fill="#2b2b2b"/>
<line x1="120.5" y1="1038.6" x2="227.6" y2="1038.6" stroke="#999" stroke-width="0.8"/>
<path d="M129.1,1038.6 L129.1,1038.6 L129.6,1038.4 L130.3,1038.1 L131.2,1037.7 L132.1,1037.3 L133.0,1036.8 L133.8,1036.3 L134.6,1035.5 L135.4,1035.0 L136.2,1034.2 L137.0,1033.2 L137.8,1032.5 L138.5,1031.7 L139.2,1030.4 L139.9,1029.9 L140.5,1029.1 L141.2,1028.1 L141.8,1027.5 L142.5,1026.5 L143.1,1025.2 L143.8,1024.1 L144.4,1023.0 L145.0,1022.7 L145.7,1021.7 L146.4,1020.8 L147.1,1019.9 L147.9,1019.2 L148.7,1018.3 L149.5,1018.0 L150.3,1017.1 L151.1,1017.0 L151.9,1016.6 L152.7,1016.3 L153.6,1015.6 L154.4,1015.2 L155.1,1015.2 L155.8,1015.5 L156.4,1015.4 L156.9,1015.8 L157.4,1015.8 L157.9,1016.1 L158.4,1016.9 L158.9,1016.6 L159.4,1017.1 L159.9,1018.0 L160.4,1018.6 L161.0,1018.9 L161.5,1019.6 L162.1,1019.9 L162.7,1020.4 L163.3,1020.8 L164.0,1021.0 L164.7,1021.0 L165.3,1021.1 L166.0,1022.0 L166.6,1022.1 L167.2,1023.0 L167.8,1024.0 L168.4,1024.6 L169.1,1025.3 L169.9,1026.5 L170.8,1027.3 L171.8,1028.6 L172.9,1029.4 L174.0,1030.4 L175.1,1031.7 L176.2,1032.3 L177.2,1033.0 L178.2,1034.0 L179.2,1034.6 L180.2,1034.9 L181.3,1035.4 L182.5,1036.1 L183.9,1036.5 L185.3,1036.8 L186.9,1037.2 L188.5,1037.4 L190.1,1037.7 L191.8,1037.9 L193.7,1038.1 L195.7,1038.2 L197.9,1038.4 L199.9,1038.5 L201.6,1038.5 L202.8,1038.6 L202.8,1038.6Z" fill="#2b2b2b"/>
<line x1="120.5" y1="1067" x2="227.6" y2="1067" stroke="#999" stroke-width="0.8"/>
<path d="M133.5,1067.0 L133.5,1067.0 L134.2,1066.7 L135.1,1066.4 L136.2,1065.9 L137.4,1065.5 L138.5,1064.8 L139.5,1064.1 L140.4,1063.3 L141.2,1062.1 L142.1,1060.9 L142.9,1060.1 L143.7,1058.5 L144.5,1057.5 L145.3,1056.7 L146.1,1055.4 L147.0,1053.3 L147.8,1051.9 L148.6,1050.7 L149.5,1050.0 L150.4,1048.0 L151.3,1046.9 L152.2,1045.6 L153.1,1044.4 L154.1,1043.8 L155.0,1042.8 L155.9,1042.5 L156.9,1042.5 L157.8,1042.4 L158.7,1042.1 L159.6,1042.5 L160.5,1042.4 L161.4,1042.6 L162.2,1042.1 L163.1,1042.4 L163.9,1042.7 L164.7,1043.3 L165.5,1043.4 L166.3,1043.8 L167.0,1044.2 L167.7,1044.9 L168.4,1045.7 L169.2,1047.2 L170.0,1048.1 L170.9,1049.1 L171.7,1049.9 L172.7,1051.3 L173.6,1052.1 L174.5,1053.5 L175.5,1054.3 L176.5,1055.7 L177.5,1056.6 L178.5,1057.6 L179.5,1059.3 L180.5,1059.7 L181.5,1061.0 L182.5,1061.7 L183.4,1062.1 L184.3,1062.8 L185.3,1063.5 L186.3,1064.0 L187.5,1064.3 L188.8,1064.8 L190.2,1065.1 L191.7,1065.4 L193.2,1065.7 L194.8,1066.0 L196.5,1066.3 L198.3,1066.5 L200.4,1066.6 L202.6,1066.8 L204.6,1066.9 L206.3,1066.9 L207.5,1067.0 L207.5,1067.0Z" fill="#2b2b2b"/>
<line x1="120.5" y1="1095.7" x2="227.6" y2="1095.7" stroke="#999" stroke-width="0.8"/>
<path d="M138.0,1095.7 L138.0,1095.7 L138.7,1095.4 L139.6,1095.1 L140.7,1094.6 L141.9,1094.1 L143.0,1093.5 L144.0,1092.8 L144.9,1091.7 L145.7,1090.8 L146.6,1089.9 L147.4,1088.8 L148.2,1087.1 L149.0,1085.9 L149.8,1085.3 L150.6,1083.3 L151.5,1082.4 L152.3,1080.7 L153.1,1079.6 L154.0,1078.5 L154.9,1077.0 L155.8,1075.5 L156.7,1074.2 L157.6,1073.3 L158.6,1072.3 L159.5,1071.4 L160.4,1070.9 L161.4,1070.7 L162.3,1070.4 L163.2,1070.3 L164.1,1070.7 L165.0,1070.3 L165.9,1070.8 L166.7,1071.0 L167.6,1071.2 L168.4,1070.8 L169.2,1071.2 L170.0,1072.1 L170.8,1072.1 L171.5,1073.3 L172.2,1073.3 L172.9,1074.7 L173.7,1074.9 L174.5,1076.4 L175.4,1077.5 L176.2,1078.4 L177.2,1079.7 L178.1,1081.2 L179.0,1082.5 L180.0,1082.9 L181.0,1084.3 L182.0,1085.0 L183.0,1086.4 L184.0,1087.3 L185.0,1088.4 L186.0,1089.5 L187.0,1090.0 L187.9,1090.7 L188.8,1091.3 L189.8,1092.1 L190.8,1092.4 L192.0,1092.8 L193.3,1093.4 L194.7,1093.8 L196.2,1094.1 L197.7,1094.4 L199.3,1094.7 L201.0,1095.0 L202.8,1095.2 L204.9,1095.3 L207.1,1095.5 L209.1,1095.6 L210.8,1095.6 L212.0,1095.7 L212.0,1095.7Z" fill="#2b2b2b"/>
<line x1="120.5" y1="1124.3" x2="227.6" y2="1124.3" stroke="#999" stroke-width="0.8"/>
<path d="M136.7,1124.3 L136.7,1124.3 L137.4,1124.0 L138.3,1123.7 L139.4,1123.2 L140.6,1122.7 L141.7,1122.0 L142.7,1121.4 L143.6,1120.6 L144.4,1119.4 L145.3,1118.5 L146.1,1117.1 L146.9,1115.8 L147.7,1114.7 L148.5,1113.8 L149.3,1111.9 L150.2,1111.0 L151.0,1109.3 L151.8,1107.8 L152.7,1106.7 L153.6,1105.4 L154.5,1104.2 L155.4,1103.3 L156.3,1102.2 L157.3,1100.6 L158.2,1100.5 L159.1,1099.7 L160.1,1099.7 L161.0,1099.5 L161.9,1099.2 L162.8,1099.0 L163.7,1099.7 L164.6,1099.8 L165.4,1099.5 L166.3,1099.1 L167.1,1099.9 L167.9,1100.1 L168.7,1100.6 L169.5,1101.2 L170.2,1101.9 L170.9,1102.4 L171.6,1102.9 L172.4,1103.9 L173.2,1104.8 L174.1,1106.1 L174.9,1107.1 L175.9,1108.5 L176.8,1109.4 L177.7,1110.7 L178.7,1112.2 L179.7,1113.2 L180.7,1114.4 L181.7,1115.3 L182.7,1115.9 L183.7,1117.1 L184.7,1117.9 L185.7,1118.7 L186.6,1119.3 L187.5,1119.9 L188.5,1120.6 L189.5,1121.2 L190.7,1121.6 L192.0,1122.1 L193.4,1122.4 L194.9,1122.7 L196.4,1123.0 L198.0,1123.3 L199.7,1123.5 L201.5,1123.8 L203.6,1123.9 L205.8,1124.0 L207.8,1124.2 L209.5,1124.2 L210.7,1124.3 L210.7,1124.3Z" fill="#2b2b2b"/>
<path d="M136.7,1152.9 L136.7,1152.9 L137.4,1152.6 L138.3,1152.2 L139.4,1151.8 L140.6,1151.3 L141.7,1150.7 L142.7,1149.7 L143.6,1149.1 L144.4,1148.1 L145.3,1146.6 L146.1,1145.8 L146.9,1144.6 L147.7,1142.9 L148.5,1142.3 L149.3,1140.4 L150.2,1139.0 L151.0,1137.8 L151.8,1136.5 L152.7,1135.2 L153.6,1133.5 L154.5,1132.3 L155.4,1130.7 L156.3,1129.7 L157.3,1128.8 L158.2,1127.7 L159.1,1127.4 L160.1,1127.6 L161.0,1126.9 L161.9,1127.1 L162.8,1126.8 L163.7,1127.5 L164.6,1127.0 L165.4,1127.1 L166.3,1127.7 L167.1,1127.6 L167.9,1128.0 L168.7,1128.4 L169.5,1128.9 L170.2,1129.4 L170.9,1129.9 L171.6,1130.8 L172.4,1131.7 L173.2,1132.7 L174.1,1133.8 L174.9,1135.5 L175.9,1136.1 L176.8,1137.3 L177.7,1138.7 L178.7,1139.8 L179.7,1141.5 L180.7,1142.8 L181.7,1143.7 L182.7,1144.9 L183.7,1145.6 L184.7,1146.5 L185.7,1147.2 L186.6,1148.0 L187.5,1148.5 L188.5,1149.1 L189.5,1149.6 L190.7,1150.1 L192.0,1150.6 L193.4,1151.0 L194.9,1151.2 L196.4,1151.6 L198.0,1151.9 L199.7,1152.1 L201.5,1152.3 L203.6,1152.5 L205.8,1152.6 L207.8,1152.7 L209.5,1152.8 L210.7,1152.9 L210.7,1152.9Z" fill="#2b2b2b"/>
<line x1="164.7" y1="982" x2="164.7" y2="1153" stroke="#7be03a" stroke-width="1.9"/>
</g>
<rect x="120.5" y="952.9" width="107.1" height="200" fill="none" stroke="#999" stroke-width="1"/>
<path d="M129.7,1153v3.5M165.0,1153v3.5M220.2,1153v3.5M143.7,1153v2M148.7,1153v2M152.7,1153v2M155.7,1153v2M158.7,1153v2M160.7,1153v2M162.7,1153v2M175.7,1153v2M183.7,1153v2M189.7,1153v2M194.7,1153v2M198.7,1153v2M202.7,1153v2M205.7,1153v2M208.7,1153v2M211.7,1153v2M214.7,1153v2M217.7,1153v2" stroke="#333" stroke-width="0.6" fill="none"/>
<rect x="121.5" y="1153" width="8" height="2.2" fill="#111"/>
<text x="129.7" y="1165.0" font-size="6.2" text-anchor="middle" fill="#222">0</text>
<text x="165.0" y="1165.0" font-size="6.2" text-anchor="middle" fill="#222">10³</text>
<text x="220.2" y="1165.0" font-size="6.2" text-anchor="middle" fill="#222">10⁴</text>
<clipPath id="cdR"><rect x="230.8" y="952" width="107.69999999999999" height="202"/></clipPath>
<g clip-path="url(#cdR)">
<line x1="230.8" y1="981.9" x2="338.5" y2="981.9" stroke="#9eeef6" stroke-width="0.8"/>
<path d="M238.8,981.9 L238.8,981.9 L239.2,981.8 L239.8,981.7 L240.6,981.5 L241.3,981.2 L242.1,980.9 L242.7,980.4 L243.3,979.7 L243.8,979.0 L244.2,977.9 L244.7,977.0 L245.2,975.8 L245.8,974.8 L246.4,973.0 L247.1,971.7 L247.8,970.0 L248.4,968.1 L249.1,967.2 L249.8,965.9 L250.5,963.9 L251.1,963.2 L251.8,961.9 L252.4,960.8 L253.1,960.0 L253.7,959.3 L254.4,958.2 L255.0,957.6 L255.7,957.2 L256.3,957.2 L257.0,956.8 L257.6,956.5 L258.3,956.3 L258.9,957.0 L259.6,957.4 L260.2,957.8 L260.9,957.7 L261.5,958.3 L262.2,958.4 L262.8,959.0 L263.5,959.6 L264.2,959.7 L264.8,960.0 L265.4,960.4 L266.0,961.0 L266.5,962.4 L267.0,963.4 L267.4,964.2 L268.0,964.3 L268.6,965.3 L269.3,965.9 L270.1,966.8 L270.9,967.2 L271.7,968.1 L272.5,968.7 L273.3,969.5 L274.1,970.0 L274.9,970.6 L275.6,970.9 L276.4,972.3 L277.2,972.5 L278.0,973.5 L278.8,973.8 L279.5,974.3 L280.2,975.6 L281.0,976.0 L281.8,976.5 L282.7,977.5 L283.6,978.0 L284.6,978.2 L285.7,978.9 L286.7,979.0 L287.8,979.4 L289.0,979.8 L290.2,980.2 L291.5,980.5 L292.8,980.7 L294.1,981.0 L295.5,981.2 L296.8,981.4 L298.2,981.5 L299.7,981.7 L301.2,981.7 L302.6,981.8 L303.8,981.9 L304.6,981.9 L304.6,981.9Z" fill="#2feaf8"/>
<line x1="230.8" y1="1010.1" x2="338.5" y2="1010.1" stroke="#f5c9a0" stroke-width="0.8"/>
<path d="M231.3,1010.1 L231.3,1009.8 L232.3,1009.5 L233.7,1009.0 L235.4,1008.6 L237.2,1007.9 L239.0,1007.5 L240.7,1007.0 L242.3,1006.5 L243.9,1006.2 L245.5,1005.6 L247.1,1005.2 L248.6,1005.0 L250.1,1004.5 L251.5,1004.3 L252.8,1003.9 L254.1,1003.5 L255.4,1003.1 L256.7,1002.6 L257.9,1002.4 L259.2,1001.9 L260.6,1000.8 L261.9,1000.4 L263.2,999.1 L264.5,998.6 L265.8,997.3 L267.1,996.7 L268.5,995.6 L269.9,995.1 L271.2,994.0 L272.5,992.5 L273.6,991.7 L274.7,991.3 L275.7,990.3 L276.6,989.7 L277.4,989.7 L278.3,989.1 L279.1,987.7 L279.9,987.2 L280.7,987.2 L281.5,987.0 L282.3,986.5 L283.0,985.9 L283.8,985.7 L284.6,985.3 L285.4,985.1 L286.2,985.4 L287.0,984.8 L287.8,985.4 L288.5,985.7 L289.2,985.5 L289.9,986.5 L290.5,986.6 L291.1,987.9 L291.8,988.4 L292.5,988.9 L293.2,989.8 L294.0,991.0 L294.8,991.4 L295.6,992.2 L296.4,993.6 L297.2,994.8 L297.9,995.0 L298.7,996.5 L299.4,997.1 L300.2,998.3 L301.0,999.0 L301.9,1000.3 L302.8,1000.8 L303.8,1001.9 L304.8,1002.7 L305.9,1003.0 L307.0,1004.2 L308.1,1004.7 L309.3,1005.1 L310.6,1005.9 L311.9,1006.3 L313.2,1006.7 L314.6,1007.2 L316.0,1007.7 L317.4,1008.2 L318.9,1008.4 L320.5,1008.7 L322.1,1008.9 L323.7,1009.1 L325.4,1009.3 L327.3,1009.5 L329.3,1009.6 L331.5,1009.7 L333.5,1009.8 L335.2,1009.9 L336.4,1009.9 L336.4,1010.1Z" fill="#f78d2f"/>
<line x1="230.8" y1="1038.6" x2="338.5" y2="1038.6" stroke="#f5c9a0" stroke-width="0.8"/>
<path d="M264.2,1038.6 L264.2,1038.6 L265.1,1038.5 L266.3,1038.5 L267.7,1038.4 L269.2,1038.2 L270.7,1038.0 L272.0,1037.6 L273.2,1037.2 L274.3,1036.6 L275.3,1036.1 L276.4,1035.4 L277.4,1034.6 L278.3,1033.9 L279.2,1032.8 L280.0,1031.4 L280.8,1030.3 L281.5,1029.2 L282.2,1027.9 L283.0,1027.2 L283.8,1025.7 L284.6,1024.1 L285.4,1022.5 L286.3,1021.0 L287.0,1020.1 L287.7,1019.3 L288.3,1017.7 L288.8,1017.2 L289.3,1016.4 L289.8,1016.0 L290.3,1015.2 L290.8,1014.6 L291.3,1014.8 L291.8,1014.1 L292.3,1014.2 L292.8,1014.3 L293.4,1014.0 L294.0,1014.4 L294.7,1014.5 L295.5,1014.2 L296.3,1014.8 L297.1,1015.7 L297.9,1016.0 L298.7,1016.0 L299.4,1017.1 L300.1,1017.3 L300.7,1017.4 L301.3,1017.8 L302.0,1018.0 L302.6,1019.0 L303.2,1019.4 L303.8,1020.8 L304.4,1022.2 L305.0,1022.6 L305.7,1023.8 L306.5,1025.1 L307.4,1026.5 L308.4,1026.9 L309.5,1028.2 L310.6,1029.4 L311.7,1030.1 L312.8,1030.9 L313.8,1032.2 L314.8,1032.8 L315.9,1033.5 L316.9,1034.1 L318.0,1034.5 L319.1,1035.1 L320.3,1035.6 L321.5,1036.1 L322.8,1036.4 L324.1,1036.7 L325.5,1037.1 L326.9,1037.4 L328.5,1037.6 L330.2,1037.9 L332.0,1038.1 L333.7,1038.3 L335.2,1038.5 L336.2,1038.6 L336.2,1038.6Z" fill="#f78d2f"/>
<line x1="230.8" y1="1067" x2="338.5" y2="1067" stroke="#f5c9a0" stroke-width="0.8"/>
<path d="M267.4,1067.0 L267.4,1067.0 L268.3,1066.9 L269.5,1066.9 L270.9,1066.8 L272.4,1066.6 L273.9,1066.4 L275.2,1066.0 L276.4,1065.5 L277.5,1064.9 L278.5,1064.5 L279.6,1063.7 L280.6,1062.7 L281.5,1062.0 L282.4,1060.9 L283.2,1060.2 L283.9,1059.0 L284.7,1057.3 L285.4,1056.3 L286.2,1055.0 L287.0,1053.5 L287.8,1052.2 L288.6,1050.7 L289.5,1049.4 L290.2,1048.5 L290.9,1047.2 L291.5,1045.7 L292.0,1045.1 L292.5,1045.0 L293.0,1044.2 L293.5,1043.5 L294.0,1043.1 L294.5,1042.8 L295.0,1042.0 L295.5,1042.0 L296.0,1041.8 L296.6,1041.7 L297.2,1042.2 L297.9,1041.8 L298.7,1042.3 L299.5,1043.2 L300.3,1043.9 L301.1,1043.9 L301.9,1044.8 L302.6,1045.2 L303.3,1044.9 L303.9,1045.9 L304.5,1045.6 L305.2,1046.3 L305.8,1046.6 L306.4,1047.5 L307.0,1049.0 L307.6,1050.2 L308.2,1050.7 L308.9,1052.0 L309.7,1053.3 L310.6,1054.4 L311.6,1055.1 L312.7,1056.7 L313.8,1057.2 L314.9,1058.9 L316.0,1059.6 L317.0,1060.4 L318.0,1061.3 L319.1,1061.6 L320.1,1062.3 L321.2,1063.0 L322.3,1063.6 L323.5,1064.1 L324.7,1064.5 L326.0,1064.8 L327.3,1065.1 L328.7,1065.5 L330.1,1065.8 L331.7,1066.0 L333.4,1066.3 L335.2,1066.5 L336.9,1066.7 L338.4,1066.9 L339.4,1067.0 L339.4,1067.0Z" fill="#f78d2f"/>
<line x1="230.8" y1="1095.7" x2="338.5" y2="1095.7" stroke="#f5c9a0" stroke-width="0.8"/>
<path d="M270.0,1095.7 L270.0,1095.7 L270.9,1095.6 L272.1,1095.6 L273.5,1095.5 L275.0,1095.3 L276.5,1095.1 L277.8,1094.7 L279.0,1094.2 L280.1,1093.7 L281.1,1093.0 L282.2,1092.4 L283.2,1091.5 L284.1,1090.8 L285.0,1089.5 L285.8,1088.9 L286.6,1087.6 L287.3,1086.0 L288.0,1084.6 L288.8,1084.0 L289.6,1082.7 L290.4,1080.8 L291.2,1079.2 L292.1,1078.5 L292.8,1077.2 L293.5,1075.7 L294.1,1074.4 L294.6,1074.2 L295.1,1073.7 L295.6,1072.5 L296.1,1072.0 L296.6,1072.0 L297.1,1071.5 L297.6,1071.4 L298.1,1070.9 L298.6,1070.4 L299.2,1071.0 L299.8,1071.0 L300.5,1071.2 L301.3,1071.1 L302.1,1071.6 L302.9,1072.7 L303.7,1073.1 L304.5,1072.8 L305.2,1073.2 L305.9,1073.6 L306.5,1074.4 L307.1,1074.4 L307.8,1074.8 L308.4,1075.7 L309.0,1076.9 L309.6,1077.5 L310.2,1078.2 L310.8,1079.4 L311.5,1080.7 L312.3,1081.8 L313.2,1082.8 L314.2,1083.7 L315.3,1085.1 L316.4,1086.0 L317.5,1087.1 L318.6,1087.9 L319.6,1089.1 L320.6,1089.9 L321.7,1090.4 L322.7,1090.9 L323.8,1091.6 L324.9,1092.1 L326.1,1092.6 L327.3,1093.1 L328.6,1093.6 L329.9,1093.8 L331.3,1094.2 L332.7,1094.5 L334.3,1094.7 L336.0,1095.0 L337.8,1095.2 L339.5,1095.4 L341.0,1095.6 L342.0,1095.7 L342.0,1095.7Z" fill="#f78d2f"/>
<line x1="230.8" y1="1124.3" x2="338.5" y2="1124.3" stroke="#f5c9a0" stroke-width="0.8"/>
<path d="M271.0,1124.3 L271.0,1124.3 L271.9,1124.2 L273.1,1124.2 L274.5,1124.0 L276.0,1123.9 L277.5,1123.7 L278.8,1123.3 L280.0,1122.8 L281.1,1122.4 L282.1,1121.6 L283.2,1120.9 L284.2,1120.0 L285.1,1119.4 L286.0,1118.5 L286.8,1117.5 L287.6,1116.2 L288.3,1114.9 L289.0,1113.7 L289.8,1112.3 L290.6,1111.0 L291.4,1109.2 L292.2,1107.7 L293.1,1107.0 L293.8,1105.7 L294.5,1104.7 L295.1,1103.6 L295.6,1102.6 L296.1,1101.6 L296.6,1101.6 L297.1,1100.8 L297.6,1100.6 L298.1,1100.2 L298.6,1099.9 L299.1,1099.5 L299.6,1099.5 L300.2,1099.2 L300.8,1099.5 L301.5,1099.5 L302.3,1100.0 L303.1,1100.8 L303.9,1101.2 L304.7,1101.5 L305.5,1101.9 L306.2,1101.9 L306.9,1102.8 L307.5,1102.7 L308.1,1103.1 L308.8,1104.0 L309.4,1104.3 L310.0,1105.3 L310.6,1105.8 L311.2,1107.4 L311.8,1108.7 L312.5,1109.6 L313.3,1110.9 L314.2,1111.7 L315.2,1112.9 L316.3,1113.8 L317.4,1114.7 L318.5,1116.2 L319.6,1116.9 L320.6,1117.9 L321.6,1118.3 L322.7,1118.9 L323.7,1119.7 L324.8,1120.3 L325.9,1120.7 L327.1,1121.2 L328.3,1121.7 L329.6,1122.0 L330.9,1122.4 L332.3,1122.8 L333.7,1123.0 L335.3,1123.3 L337.0,1123.6 L338.8,1123.8 L340.5,1124.0 L342.0,1124.2 L343.0,1124.3 L343.0,1124.3Z" fill="#f78d2f"/>
<path d="M267.0,1152.9 L267.0,1152.9 L267.9,1152.8 L269.1,1152.8 L270.5,1152.7 L272.0,1152.5 L273.5,1152.3 L274.8,1151.9 L276.0,1151.4 L277.1,1151.0 L278.1,1150.3 L279.2,1149.6 L280.2,1148.6 L281.1,1148.0 L282.0,1147.0 L282.8,1145.8 L283.6,1144.6 L284.3,1143.2 L285.0,1142.1 L285.8,1141.0 L286.6,1139.9 L287.4,1138.2 L288.2,1136.7 L289.1,1135.1 L289.8,1134.2 L290.5,1132.7 L291.1,1131.6 L291.6,1131.2 L292.1,1130.5 L292.6,1130.2 L293.1,1129.3 L293.6,1129.1 L294.1,1128.4 L294.6,1128.2 L295.1,1127.6 L295.6,1127.8 L296.2,1127.6 L296.8,1127.8 L297.5,1127.9 L298.3,1128.7 L299.1,1128.8 L299.9,1129.4 L300.7,1129.9 L301.5,1130.5 L302.2,1130.7 L302.9,1131.3 L303.5,1131.6 L304.1,1131.6 L304.8,1132.3 L305.4,1133.0 L306.0,1133.3 L306.6,1134.6 L307.2,1135.6 L307.8,1136.8 L308.5,1138.0 L309.3,1139.6 L310.2,1140.4 L311.2,1141.1 L312.3,1142.0 L313.4,1143.7 L314.5,1144.4 L315.6,1145.1 L316.6,1146.1 L317.6,1146.8 L318.7,1147.9 L319.7,1148.2 L320.8,1148.9 L321.9,1149.3 L323.1,1150.0 L324.3,1150.3 L325.6,1150.6 L326.9,1151.1 L328.3,1151.4 L329.7,1151.7 L331.3,1151.9 L333.0,1152.2 L334.8,1152.4 L336.5,1152.6 L338.0,1152.8 L339.0,1152.9 L339.0,1152.9Z" fill="#f78d2f"/>
<line x1="296.7" y1="982" x2="296.7" y2="1153" stroke="#7be03a" stroke-width="1.9"/>
</g>
<rect x="230.8" y="952.9" width="107.69999999999999" height="200" fill="none" stroke="#999" stroke-width="1"/>
<path d="M240.0,1153v3.5M275.3,1153v3.5M330.5,1153v3.5M254.0,1153v2M259.0,1153v2M263.0,1153v2M266.0,1153v2M269.0,1153v2M271.0,1153v2M273.0,1153v2M286.0,1153v2M294.0,1153v2M300.0,1153v2M305.0,1153v2M309.0,1153v2M313.0,1153v2M316.0,1153v2M319.0,1153v2M322.0,1153v2M325.0,1153v2M328.0,1153v2" stroke="#333" stroke-width="0.6" fill="none"/>
<rect x="231.8" y="1153" width="8" height="2.2" fill="#111"/>
<text x="240.0" y="1165.0" font-size="6.2" text-anchor="middle" fill="#222">0</text>
<text x="275.3" y="1165.0" font-size="6.2" text-anchor="middle" fill="#222">10³</text>
<text x="330.5" y="1165.0" font-size="6.2" text-anchor="middle" fill="#222">10⁴</text>
<line x1="452.2" y1="948.1" x2="452.2" y2="1138.6" stroke="#050505" stroke-width="2" stroke-linecap="butt"/>
<line x1="444.3" y1="949.1" x2="452.2" y2="949.1" stroke="#050505" stroke-width="2" stroke-linecap="butt"/>
<text x="431.8" y="953.9" font-size="12.2" text-anchor="end" fill="#1a1a1a" textLength="16.4" lengthAdjust="spacingAndGlyphs">1.2</text>
<line x1="444.3" y1="995.4" x2="452.2" y2="995.4" stroke="#050505" stroke-width="2" stroke-linecap="butt"/>
<text x="431.8" y="1000.2" font-size="12.2" text-anchor="end" fill="#1a1a1a" textLength="16.4" lengthAdjust="spacingAndGlyphs">0.9</text>
<line x1="444.3" y1="1041.6" x2="452.2" y2="1041.6" stroke="#050505" stroke-width="2" stroke-linecap="butt"/>
<text x="431.8" y="1046.4" font-size="12.2" text-anchor="end" fill="#1a1a1a" textLength="16.4" lengthAdjust="spacingAndGlyphs">0.3</text>
<line x1="444.3" y1="1087.9" x2="452.2" y2="1087.9" stroke="#050505" stroke-width="2" stroke-linecap="butt"/>
<text x="431.8" y="1092.7" font-size="12.2" text-anchor="end" fill="#1a1a1a" textLength="16.4" lengthAdjust="spacingAndGlyphs">0.3</text>
<line x1="444.3" y1="1134.1" x2="452.2" y2="1134.1" stroke="#050505" stroke-width="2" stroke-linecap="butt"/>
<text x="431.8" y="1138.9" font-size="12.2" text-anchor="end" fill="#1a1a1a" textLength="16.4" lengthAdjust="spacingAndGlyphs">0.0</text>
<line x1="444.3" y1="1134.1" x2="474.6" y2="1134.1" stroke="#050505" stroke-width="2" stroke-linecap="butt"/>
<line x1="467.5" y1="1134.1" x2="467.5" y2="1142.1" stroke="#050505" stroke-width="2" stroke-linecap="butt"/>
<line x1="491.8" y1="1134.1" x2="573.4" y2="1134.1" stroke="#050505" stroke-width="2" stroke-linecap="butt"/>
<line x1="497.2" y1="1134.1" x2="497.2" y2="1142.1" stroke="#050505" stroke-width="1.8" stroke-linecap="butt"/>
<line x1="514.8" y1="1134.1" x2="514.8" y2="1139.1" stroke="#050505" stroke-width="1.8" stroke-linecap="butt"/>
<line x1="527.0" y1="1134.1" x2="527.0" y2="1139.1" stroke="#050505" stroke-width="1.8" stroke-linecap="butt"/>
<line x1="537.0" y1="1134.1" x2="537.0" y2="1142.1" stroke="#050505" stroke-width="1.8" stroke-linecap="butt"/>
<line x1="545.4" y1="1134.1" x2="545.4" y2="1139.1" stroke="#050505" stroke-width="1.8" stroke-linecap="butt"/>
<line x1="551.8" y1="1134.1" x2="551.8" y2="1139.1" stroke="#050505" stroke-width="1.8" stroke-linecap="butt"/>
<line x1="557.2" y1="1134.1" x2="557.2" y2="1139.1" stroke="#050505" stroke-width="1.8" stroke-linecap="butt"/>
<line x1="562.4" y1="1134.1" x2="562.4" y2="1139.1" stroke="#050505" stroke-width="1.8" stroke-linecap="butt"/>
<line x1="566.6" y1="1134.1" x2="566.6" y2="1142.1" stroke="#050505" stroke-width="1.8" stroke-linecap="butt"/>
<line x1="590.0" y1="1134.1" x2="711.4" y2="1134.1" stroke="#050505" stroke-width="2" stroke-linecap="butt"/>
<line x1="600.2" y1="1134.1" x2="600.2" y2="1139.1" stroke="#050505" stroke-width="1.8" stroke-linecap="butt"/>
<line x1="610.4" y1="1134.1" x2="610.4" y2="1142.1" stroke="#050505" stroke-width="1.8" stroke-linecap="butt"/>
<line x1="617.6" y1="1134.1" x2="617.6" y2="1139.1" stroke="#050505" stroke-width="1.8" stroke-linecap="butt"/>
<line x1="624.3" y1="1134.1" x2="624.3" y2="1139.1" stroke="#050505" stroke-width="1.8" stroke-linecap="butt"/>
<line x1="629.0" y1="1134.1" x2="629.0" y2="1139.1" stroke="#050505" stroke-width="1.8" stroke-linecap="butt"/>
<line x1="633.7" y1="1134.1" x2="633.7" y2="1139.1" stroke="#050505" stroke-width="1.8" stroke-linecap="butt"/>
<line x1="640.4" y1="1134.1" x2="640.4" y2="1142.1" stroke="#050505" stroke-width="1.8" stroke-linecap="butt"/>
<line x1="670.7" y1="1134.1" x2="670.7" y2="1139.1" stroke="#050505" stroke-width="1.8" stroke-linecap="butt"/>
<line x1="688.6" y1="1134.1" x2="688.6" y2="1142.1" stroke="#050505" stroke-width="1.8" stroke-linecap="butt"/>
<text x="467.0" y="1154.5" font-size="12.4" text-anchor="middle" fill="#1a1a1a">0</text>
<text x="496.7" y="1154.5" font-size="12.4" text-anchor="middle" fill="#1a1a1a">2</text>
<text x="536.5" y="1154.5" font-size="12.4" text-anchor="middle" fill="#1a1a1a">5</text>
<text x="609.9" y="1154.5" font-size="12.4" text-anchor="middle" fill="#1a1a1a">50</text>
<text x="639.9" y="1154.5" font-size="12.4" text-anchor="middle" fill="#1a1a1a">100</text>
<text x="688.1" y="1154.5" font-size="12.4" text-anchor="middle" fill="#1a1a1a">300</text>
<text x="574.6" y="1173.8" font-size="15.6" text-anchor="middle" fill="#1a1a1a" textLength="75.0" lengthAdjust="spacingAndGlyphs">[S1P] (nM)</text>
<text x="379.0" y="1042.2" font-size="15.8" text-anchor="middle" fill="#1a1a1a" textLength="180.6" lengthAdjust="spacingAndGlyphs" transform="rotate(-90 379.0 1042.2)">Cell surface level of S1PR1</text>
<text x="401.7" y="1042.2" font-size="15.8" text-anchor="middle" fill="#1a1a1a" textLength="155.7" lengthAdjust="spacingAndGlyphs" transform="rotate(-90 401.7 1042.2)">(normalised to ‘0 S1P’)</text>
<polyline points="467.5,980.1 474.6,985.5" fill="none" stroke="#f76a10" stroke-width="1.3"/>
<polyline points="491.8,998.2 497.2,1003.4 537.0,986.0 573.4,987.6" fill="none" stroke="#f76a10" stroke-width="1.3"/>
<polyline points="590.0,988.7 610.4,990.0 640.4,1006.1 688.6,1023.0" fill="none" stroke="#f76a10" stroke-width="1.3"/>
<polyline points="467.5,980.1 474.6,988.8" fill="none" stroke="#050505" stroke-width="1.3"/>
<polyline points="491.8,1011.2 497.2,1018.2 537.0,999.0 573.4,1017.0" fill="none" stroke="#050505" stroke-width="1.3"/>
<polyline points="590.0,1025.2 610.4,1034.8 640.4,1069.0 688.6,1079.0" fill="none" stroke="#050505" stroke-width="1.3"/>
<path d="M497.2,976.1V1030.5M493.6,976.1H500.8M493.6,1030.5H500.8" stroke="#f76a10" stroke-width="1.3" fill="none"/><circle cx="497.2" cy="1003.4" r="3.6" fill="#f76a10"/>
<path d="M537.0,971.6V1000.0M533.4,971.6H540.6M533.4,1000.0H540.6" stroke="#f76a10" stroke-width="1.3" fill="none"/><circle cx="537.0" cy="986.0" r="3.6" fill="#f76a10"/>
<path d="M497.2,995.2V1040.6M493.6,995.2H500.8M493.6,1040.6H500.8" stroke="#050505" stroke-width="1.3" fill="none"/><circle cx="497.2" cy="1018.2" r="3.6" fill="#050505"/>
<path d="M537.0,979.4V1018.7M533.4,979.4H540.6M533.4,1018.7H540.6" stroke="#050505" stroke-width="1.3" fill="none"/><circle cx="537.0" cy="999.0" r="3.6" fill="#050505"/>
<path d="M610.4,970.2V1009.6M606.8,970.2H614.0M606.8,1009.6H614.0" stroke="#f76a10" stroke-width="1.3" fill="none"/><circle cx="610.4" cy="990.0" r="3.6" fill="#f76a10"/>
<path d="M640.4,986.5V1025.4M636.8,986.5H644.0M636.8,1025.4H644.0" stroke="#f76a10" stroke-width="1.3" fill="none"/><circle cx="640.4" cy="1006.1" r="3.6" fill="#f76a10"/>
<path d="M688.6,1004.5V1041.5M685.0,1004.5H692.2M685.0,1041.5H692.2" stroke="#f76a10" stroke-width="1.3" fill="none"/><circle cx="688.6" cy="1023.0" r="3.6" fill="#f76a10"/>
<circle cx="467.5" cy="980.1" r="3.6" fill="#050505"/>
<path d="M610.4,1029.0V1040.4M606.8,1029.0H614.0M606.8,1040.4H614.0" stroke="#050505" stroke-width="1.3" fill="none"/><circle cx="610.4" cy="1034.8" r="3.6" fill="#050505"/>
<path d="M640.4,1063.2V1074.7M636.8,1063.2H644.0M636.8,1074.7H644.0" stroke="#050505" stroke-width="1.3" fill="none"/><circle cx="640.4" cy="1069.0" r="3.6" fill="#050505"/>
<path d="M688.6,1068.3V1090.0M685.0,1068.3H692.2M685.0,1090.0H692.2" stroke="#050505" stroke-width="1.3" fill="none"/><circle cx="688.6" cy="1079.0" r="3.6" fill="#050505"/>
<text x="640.4" y="962.7" font-size="8.6" text-anchor="middle" fill="#1a1a1a" textLength="28.5" lengthAdjust="spacingAndGlyphs">0.0325</text>
<text x="687.5" y="979.6" font-size="8.6" text-anchor="middle" fill="#1a1a1a" textLength="28.5" lengthAdjust="spacingAndGlyphs">0.0345</text>
</g>
</svg>
</body></html>
